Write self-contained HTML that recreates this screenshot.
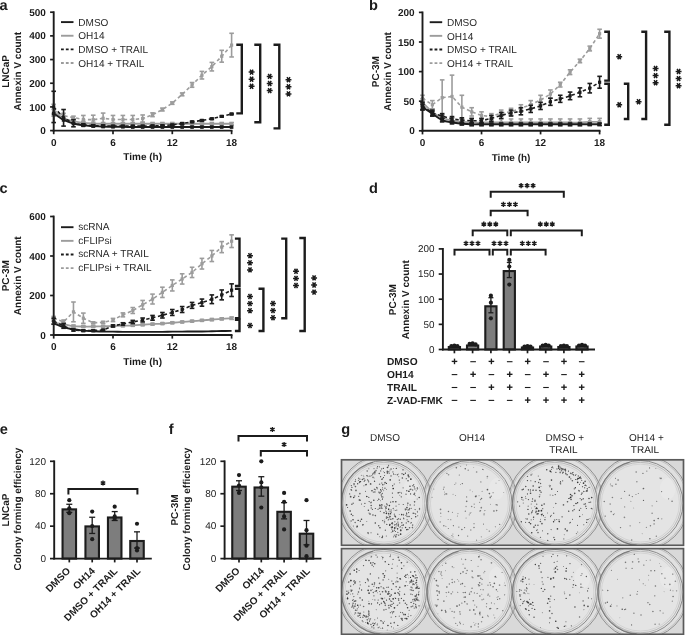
<!DOCTYPE html>
<html><head><meta charset="utf-8"><style>
html,body{margin:0;padding:0;background:#fff;}
svg{display:block;font-family:"Liberation Sans", sans-serif;text-rendering:geometricPrecision;filter:grayscale(100%);}
</style></head><body>
<svg width="685" height="635" viewBox="0 0 685 635">
<rect width="685" height="635" fill="#fff"/>
<text x="-0.5" y="10.1" font-size="14.6" font-weight="bold" fill="#1c1c1c">a</text>
<text x="368.9" y="10" font-size="14.6" font-weight="bold" fill="#1c1c1c">b</text>
<text x="-0.5" y="192.6" font-size="14.6" font-weight="bold" fill="#1c1c1c">c</text>
<text x="368.9" y="192.5" font-size="14.6" font-weight="bold" fill="#1c1c1c">d</text>
<text x="-0.3" y="433.6" font-size="14.6" font-weight="bold" fill="#1c1c1c">e</text>
<text x="168.8" y="433.7" font-size="14.6" font-weight="bold" fill="#1c1c1c">f</text>
<text x="341.2" y="433.6" font-size="14.6" font-weight="bold" fill="#1c1c1c">g</text>
<path d="M53.7 111.66 C55.35 112.76 60.29 116.71 63.58 118.29 C66.88 119.87 70.17 120.38 73.47 121.13 C76.76 121.88 80.06 122.39 83.35 122.79 C86.64 123.18 89.94 123.34 93.23 123.5 C96.53 123.65 99.82 123.69 103.12 123.73 C106.41 123.77 109.71 123.73 113 123.73 C116.29 123.73 119.59 123.73 122.88 123.73 C126.18 123.73 129.47 123.73 132.77 123.73 C136.06 123.73 139.36 123.73 142.65 123.73 C145.94 123.73 149.24 123.73 152.53 123.73 C155.83 123.73 159.12 123.73 162.42 123.73 C165.71 123.73 169.01 123.73 172.3 123.73 C175.59 123.73 178.89 123.73 182.18 123.73 C185.48 123.73 188.77 123.73 192.07 123.73 C195.36 123.73 198.66 123.73 201.95 123.73 C205.24 123.73 208.54 123.73 211.83 123.73 C215.13 123.73 218.42 123.73 221.72 123.73 C225.01 123.73 229.95 123.73 231.6 123.73" stroke="#9c9c9c" stroke-width="1.8" fill="none"/>
<line x1="53.7" y1="109.29" x2="53.7" y2="114.02" stroke="#9c9c9c" stroke-width="1.6" stroke-linecap="butt"/>
<line x1="51.4" y1="109.29" x2="56" y2="109.29" stroke="#9c9c9c" stroke-width="1.6" stroke-linecap="butt"/>
<line x1="51.4" y1="114.02" x2="56" y2="114.02" stroke="#9c9c9c" stroke-width="1.6" stroke-linecap="butt"/>
<rect x="51.9" y="109.86" width="3.6" height="3.6" fill="#9c9c9c"/>
<rect x="61.78" y="116.49" width="3.6" height="3.6" fill="#9c9c9c"/>
<line x1="73.47" y1="119.23" x2="73.47" y2="123.02" stroke="#9c9c9c" stroke-width="1.6" stroke-linecap="butt"/>
<line x1="71.17" y1="119.23" x2="75.77" y2="119.23" stroke="#9c9c9c" stroke-width="1.6" stroke-linecap="butt"/>
<line x1="71.17" y1="123.02" x2="75.77" y2="123.02" stroke="#9c9c9c" stroke-width="1.6" stroke-linecap="butt"/>
<rect x="71.67" y="119.33" width="3.6" height="3.6" fill="#9c9c9c"/>
<line x1="83.35" y1="121.36" x2="83.35" y2="124.21" stroke="#9c9c9c" stroke-width="1.6" stroke-linecap="butt"/>
<line x1="81.05" y1="121.36" x2="85.65" y2="121.36" stroke="#9c9c9c" stroke-width="1.6" stroke-linecap="butt"/>
<line x1="81.05" y1="124.21" x2="85.65" y2="124.21" stroke="#9c9c9c" stroke-width="1.6" stroke-linecap="butt"/>
<rect x="81.55" y="120.99" width="3.6" height="3.6" fill="#9c9c9c"/>
<line x1="93.23" y1="122.31" x2="93.23" y2="124.68" stroke="#9c9c9c" stroke-width="1.6" stroke-linecap="butt"/>
<line x1="90.93" y1="122.31" x2="95.53" y2="122.31" stroke="#9c9c9c" stroke-width="1.6" stroke-linecap="butt"/>
<line x1="90.93" y1="124.68" x2="95.53" y2="124.68" stroke="#9c9c9c" stroke-width="1.6" stroke-linecap="butt"/>
<rect x="91.43" y="121.7" width="3.6" height="3.6" fill="#9c9c9c"/>
<line x1="103.12" y1="122.55" x2="103.12" y2="124.92" stroke="#9c9c9c" stroke-width="1.6" stroke-linecap="butt"/>
<line x1="100.82" y1="122.55" x2="105.42" y2="122.55" stroke="#9c9c9c" stroke-width="1.6" stroke-linecap="butt"/>
<line x1="100.82" y1="124.92" x2="105.42" y2="124.92" stroke="#9c9c9c" stroke-width="1.6" stroke-linecap="butt"/>
<rect x="101.32" y="121.93" width="3.6" height="3.6" fill="#9c9c9c"/>
<line x1="113" y1="122.55" x2="113" y2="124.92" stroke="#9c9c9c" stroke-width="1.6" stroke-linecap="butt"/>
<line x1="110.7" y1="122.55" x2="115.3" y2="122.55" stroke="#9c9c9c" stroke-width="1.6" stroke-linecap="butt"/>
<line x1="110.7" y1="124.92" x2="115.3" y2="124.92" stroke="#9c9c9c" stroke-width="1.6" stroke-linecap="butt"/>
<rect x="111.2" y="121.93" width="3.6" height="3.6" fill="#9c9c9c"/>
<line x1="122.88" y1="122.55" x2="122.88" y2="124.92" stroke="#9c9c9c" stroke-width="1.6" stroke-linecap="butt"/>
<line x1="120.58" y1="122.55" x2="125.18" y2="122.55" stroke="#9c9c9c" stroke-width="1.6" stroke-linecap="butt"/>
<line x1="120.58" y1="124.92" x2="125.18" y2="124.92" stroke="#9c9c9c" stroke-width="1.6" stroke-linecap="butt"/>
<rect x="121.08" y="121.93" width="3.6" height="3.6" fill="#9c9c9c"/>
<line x1="132.77" y1="122.55" x2="132.77" y2="124.92" stroke="#9c9c9c" stroke-width="1.6" stroke-linecap="butt"/>
<line x1="130.47" y1="122.55" x2="135.07" y2="122.55" stroke="#9c9c9c" stroke-width="1.6" stroke-linecap="butt"/>
<line x1="130.47" y1="124.92" x2="135.07" y2="124.92" stroke="#9c9c9c" stroke-width="1.6" stroke-linecap="butt"/>
<rect x="130.97" y="121.93" width="3.6" height="3.6" fill="#9c9c9c"/>
<line x1="142.65" y1="122.55" x2="142.65" y2="124.92" stroke="#9c9c9c" stroke-width="1.6" stroke-linecap="butt"/>
<line x1="140.35" y1="122.55" x2="144.95" y2="122.55" stroke="#9c9c9c" stroke-width="1.6" stroke-linecap="butt"/>
<line x1="140.35" y1="124.92" x2="144.95" y2="124.92" stroke="#9c9c9c" stroke-width="1.6" stroke-linecap="butt"/>
<rect x="140.85" y="121.93" width="3.6" height="3.6" fill="#9c9c9c"/>
<line x1="152.53" y1="122.55" x2="152.53" y2="124.92" stroke="#9c9c9c" stroke-width="1.6" stroke-linecap="butt"/>
<line x1="150.23" y1="122.55" x2="154.83" y2="122.55" stroke="#9c9c9c" stroke-width="1.6" stroke-linecap="butt"/>
<line x1="150.23" y1="124.92" x2="154.83" y2="124.92" stroke="#9c9c9c" stroke-width="1.6" stroke-linecap="butt"/>
<rect x="150.73" y="121.93" width="3.6" height="3.6" fill="#9c9c9c"/>
<line x1="162.42" y1="122.55" x2="162.42" y2="124.92" stroke="#9c9c9c" stroke-width="1.6" stroke-linecap="butt"/>
<line x1="160.12" y1="122.55" x2="164.72" y2="122.55" stroke="#9c9c9c" stroke-width="1.6" stroke-linecap="butt"/>
<line x1="160.12" y1="124.92" x2="164.72" y2="124.92" stroke="#9c9c9c" stroke-width="1.6" stroke-linecap="butt"/>
<rect x="160.62" y="121.93" width="3.6" height="3.6" fill="#9c9c9c"/>
<line x1="172.3" y1="122.55" x2="172.3" y2="124.92" stroke="#9c9c9c" stroke-width="1.6" stroke-linecap="butt"/>
<line x1="170" y1="122.55" x2="174.6" y2="122.55" stroke="#9c9c9c" stroke-width="1.6" stroke-linecap="butt"/>
<line x1="170" y1="124.92" x2="174.6" y2="124.92" stroke="#9c9c9c" stroke-width="1.6" stroke-linecap="butt"/>
<rect x="170.5" y="121.93" width="3.6" height="3.6" fill="#9c9c9c"/>
<line x1="182.18" y1="122.55" x2="182.18" y2="124.92" stroke="#9c9c9c" stroke-width="1.6" stroke-linecap="butt"/>
<line x1="179.88" y1="122.55" x2="184.48" y2="122.55" stroke="#9c9c9c" stroke-width="1.6" stroke-linecap="butt"/>
<line x1="179.88" y1="124.92" x2="184.48" y2="124.92" stroke="#9c9c9c" stroke-width="1.6" stroke-linecap="butt"/>
<rect x="180.38" y="121.93" width="3.6" height="3.6" fill="#9c9c9c"/>
<line x1="192.07" y1="122.55" x2="192.07" y2="124.92" stroke="#9c9c9c" stroke-width="1.6" stroke-linecap="butt"/>
<line x1="189.77" y1="122.55" x2="194.37" y2="122.55" stroke="#9c9c9c" stroke-width="1.6" stroke-linecap="butt"/>
<line x1="189.77" y1="124.92" x2="194.37" y2="124.92" stroke="#9c9c9c" stroke-width="1.6" stroke-linecap="butt"/>
<rect x="190.27" y="121.93" width="3.6" height="3.6" fill="#9c9c9c"/>
<line x1="201.95" y1="122.55" x2="201.95" y2="124.92" stroke="#9c9c9c" stroke-width="1.6" stroke-linecap="butt"/>
<line x1="199.65" y1="122.55" x2="204.25" y2="122.55" stroke="#9c9c9c" stroke-width="1.6" stroke-linecap="butt"/>
<line x1="199.65" y1="124.92" x2="204.25" y2="124.92" stroke="#9c9c9c" stroke-width="1.6" stroke-linecap="butt"/>
<rect x="200.15" y="121.93" width="3.6" height="3.6" fill="#9c9c9c"/>
<line x1="211.83" y1="122.55" x2="211.83" y2="124.92" stroke="#9c9c9c" stroke-width="1.6" stroke-linecap="butt"/>
<line x1="209.53" y1="122.55" x2="214.13" y2="122.55" stroke="#9c9c9c" stroke-width="1.6" stroke-linecap="butt"/>
<line x1="209.53" y1="124.92" x2="214.13" y2="124.92" stroke="#9c9c9c" stroke-width="1.6" stroke-linecap="butt"/>
<rect x="210.03" y="121.93" width="3.6" height="3.6" fill="#9c9c9c"/>
<line x1="221.72" y1="122.55" x2="221.72" y2="124.92" stroke="#9c9c9c" stroke-width="1.6" stroke-linecap="butt"/>
<line x1="219.42" y1="122.55" x2="224.02" y2="122.55" stroke="#9c9c9c" stroke-width="1.6" stroke-linecap="butt"/>
<line x1="219.42" y1="124.92" x2="224.02" y2="124.92" stroke="#9c9c9c" stroke-width="1.6" stroke-linecap="butt"/>
<rect x="219.92" y="121.93" width="3.6" height="3.6" fill="#9c9c9c"/>
<line x1="231.6" y1="122.55" x2="231.6" y2="124.92" stroke="#9c9c9c" stroke-width="1.6" stroke-linecap="butt"/>
<line x1="229.3" y1="122.55" x2="233.9" y2="122.55" stroke="#9c9c9c" stroke-width="1.6" stroke-linecap="butt"/>
<line x1="229.3" y1="124.92" x2="233.9" y2="124.92" stroke="#9c9c9c" stroke-width="1.6" stroke-linecap="butt"/>
<rect x="229.8" y="121.93" width="3.6" height="3.6" fill="#9c9c9c"/>
<path d="M53.7 110.24 L63.58 115.68 L73.47 117.58 L83.35 119.47 L93.23 119.71 L103.12 118.29 L113 119.47 L122.88 119.47 L132.77 119.47 L142.65 118.52 L152.53 114.73 L162.42 109.52 L172.3 103.13 L182.18 94.37 L192.07 84.9 L201.95 75.19 L211.83 66.66 L221.72 56.24 L231.6 45.12" stroke="#9c9c9c" stroke-width="1.6" fill="none" stroke-dasharray="3.4 2.6"/>
<line x1="53.7" y1="104.32" x2="53.7" y2="116.16" stroke="#9c9c9c" stroke-width="1.6" stroke-linecap="butt"/>
<line x1="51.4" y1="104.32" x2="56" y2="104.32" stroke="#9c9c9c" stroke-width="1.6" stroke-linecap="butt"/>
<line x1="51.4" y1="116.16" x2="56" y2="116.16" stroke="#9c9c9c" stroke-width="1.6" stroke-linecap="butt"/>
<rect x="52.1" y="108.64" width="3.2" height="3.2" fill="#9c9c9c"/>
<line x1="63.58" y1="113.31" x2="63.58" y2="118.05" stroke="#9c9c9c" stroke-width="1.6" stroke-linecap="butt"/>
<line x1="61.28" y1="113.31" x2="65.88" y2="113.31" stroke="#9c9c9c" stroke-width="1.6" stroke-linecap="butt"/>
<line x1="61.28" y1="118.05" x2="65.88" y2="118.05" stroke="#9c9c9c" stroke-width="1.6" stroke-linecap="butt"/>
<rect x="61.98" y="114.08" width="3.2" height="3.2" fill="#9c9c9c"/>
<line x1="73.47" y1="116.16" x2="73.47" y2="119" stroke="#9c9c9c" stroke-width="1.6" stroke-linecap="butt"/>
<line x1="71.17" y1="116.16" x2="75.77" y2="116.16" stroke="#9c9c9c" stroke-width="1.6" stroke-linecap="butt"/>
<line x1="71.17" y1="119" x2="75.77" y2="119" stroke="#9c9c9c" stroke-width="1.6" stroke-linecap="butt"/>
<rect x="71.87" y="115.98" width="3.2" height="3.2" fill="#9c9c9c"/>
<line x1="83.35" y1="115.44" x2="83.35" y2="123.5" stroke="#9c9c9c" stroke-width="1.6" stroke-linecap="butt"/>
<line x1="81.05" y1="115.44" x2="85.65" y2="115.44" stroke="#9c9c9c" stroke-width="1.6" stroke-linecap="butt"/>
<line x1="81.05" y1="123.5" x2="85.65" y2="123.5" stroke="#9c9c9c" stroke-width="1.6" stroke-linecap="butt"/>
<rect x="81.75" y="117.87" width="3.2" height="3.2" fill="#9c9c9c"/>
<line x1="93.23" y1="115.21" x2="93.23" y2="124.21" stroke="#9c9c9c" stroke-width="1.6" stroke-linecap="butt"/>
<line x1="90.93" y1="115.21" x2="95.53" y2="115.21" stroke="#9c9c9c" stroke-width="1.6" stroke-linecap="butt"/>
<line x1="90.93" y1="124.21" x2="95.53" y2="124.21" stroke="#9c9c9c" stroke-width="1.6" stroke-linecap="butt"/>
<rect x="91.63" y="118.11" width="3.2" height="3.2" fill="#9c9c9c"/>
<line x1="103.12" y1="113.08" x2="103.12" y2="123.5" stroke="#9c9c9c" stroke-width="1.6" stroke-linecap="butt"/>
<line x1="100.82" y1="113.08" x2="105.42" y2="113.08" stroke="#9c9c9c" stroke-width="1.6" stroke-linecap="butt"/>
<line x1="100.82" y1="123.5" x2="105.42" y2="123.5" stroke="#9c9c9c" stroke-width="1.6" stroke-linecap="butt"/>
<rect x="101.52" y="116.69" width="3.2" height="3.2" fill="#9c9c9c"/>
<line x1="113" y1="115.44" x2="113" y2="123.5" stroke="#9c9c9c" stroke-width="1.6" stroke-linecap="butt"/>
<line x1="110.7" y1="115.44" x2="115.3" y2="115.44" stroke="#9c9c9c" stroke-width="1.6" stroke-linecap="butt"/>
<line x1="110.7" y1="123.5" x2="115.3" y2="123.5" stroke="#9c9c9c" stroke-width="1.6" stroke-linecap="butt"/>
<rect x="111.4" y="117.87" width="3.2" height="3.2" fill="#9c9c9c"/>
<line x1="122.88" y1="115.44" x2="122.88" y2="123.5" stroke="#9c9c9c" stroke-width="1.6" stroke-linecap="butt"/>
<line x1="120.58" y1="115.44" x2="125.18" y2="115.44" stroke="#9c9c9c" stroke-width="1.6" stroke-linecap="butt"/>
<line x1="120.58" y1="123.5" x2="125.18" y2="123.5" stroke="#9c9c9c" stroke-width="1.6" stroke-linecap="butt"/>
<rect x="121.28" y="117.87" width="3.2" height="3.2" fill="#9c9c9c"/>
<line x1="132.77" y1="115.44" x2="132.77" y2="123.5" stroke="#9c9c9c" stroke-width="1.6" stroke-linecap="butt"/>
<line x1="130.47" y1="115.44" x2="135.07" y2="115.44" stroke="#9c9c9c" stroke-width="1.6" stroke-linecap="butt"/>
<line x1="130.47" y1="123.5" x2="135.07" y2="123.5" stroke="#9c9c9c" stroke-width="1.6" stroke-linecap="butt"/>
<rect x="131.17" y="117.87" width="3.2" height="3.2" fill="#9c9c9c"/>
<line x1="142.65" y1="114.97" x2="142.65" y2="122.08" stroke="#9c9c9c" stroke-width="1.6" stroke-linecap="butt"/>
<line x1="140.35" y1="114.97" x2="144.95" y2="114.97" stroke="#9c9c9c" stroke-width="1.6" stroke-linecap="butt"/>
<line x1="140.35" y1="122.08" x2="144.95" y2="122.08" stroke="#9c9c9c" stroke-width="1.6" stroke-linecap="butt"/>
<rect x="141.05" y="116.92" width="3.2" height="3.2" fill="#9c9c9c"/>
<line x1="152.53" y1="112.84" x2="152.53" y2="116.63" stroke="#9c9c9c" stroke-width="1.6" stroke-linecap="butt"/>
<line x1="150.23" y1="112.84" x2="154.83" y2="112.84" stroke="#9c9c9c" stroke-width="1.6" stroke-linecap="butt"/>
<line x1="150.23" y1="116.63" x2="154.83" y2="116.63" stroke="#9c9c9c" stroke-width="1.6" stroke-linecap="butt"/>
<rect x="150.93" y="113.13" width="3.2" height="3.2" fill="#9c9c9c"/>
<line x1="162.42" y1="108.1" x2="162.42" y2="110.95" stroke="#9c9c9c" stroke-width="1.6" stroke-linecap="butt"/>
<line x1="160.12" y1="108.1" x2="164.72" y2="108.1" stroke="#9c9c9c" stroke-width="1.6" stroke-linecap="butt"/>
<line x1="160.12" y1="110.95" x2="164.72" y2="110.95" stroke="#9c9c9c" stroke-width="1.6" stroke-linecap="butt"/>
<rect x="160.82" y="107.92" width="3.2" height="3.2" fill="#9c9c9c"/>
<line x1="172.3" y1="101.95" x2="172.3" y2="104.32" stroke="#9c9c9c" stroke-width="1.6" stroke-linecap="butt"/>
<line x1="170" y1="101.95" x2="174.6" y2="101.95" stroke="#9c9c9c" stroke-width="1.6" stroke-linecap="butt"/>
<line x1="170" y1="104.32" x2="174.6" y2="104.32" stroke="#9c9c9c" stroke-width="1.6" stroke-linecap="butt"/>
<rect x="170.7" y="101.53" width="3.2" height="3.2" fill="#9c9c9c"/>
<line x1="182.18" y1="92.95" x2="182.18" y2="95.79" stroke="#9c9c9c" stroke-width="1.6" stroke-linecap="butt"/>
<line x1="179.88" y1="92.95" x2="184.48" y2="92.95" stroke="#9c9c9c" stroke-width="1.6" stroke-linecap="butt"/>
<line x1="179.88" y1="95.79" x2="184.48" y2="95.79" stroke="#9c9c9c" stroke-width="1.6" stroke-linecap="butt"/>
<rect x="180.58" y="92.77" width="3.2" height="3.2" fill="#9c9c9c"/>
<line x1="192.07" y1="82.53" x2="192.07" y2="87.27" stroke="#9c9c9c" stroke-width="1.6" stroke-linecap="butt"/>
<line x1="189.77" y1="82.53" x2="194.37" y2="82.53" stroke="#9c9c9c" stroke-width="1.6" stroke-linecap="butt"/>
<line x1="189.77" y1="87.27" x2="194.37" y2="87.27" stroke="#9c9c9c" stroke-width="1.6" stroke-linecap="butt"/>
<rect x="190.47" y="83.3" width="3.2" height="3.2" fill="#9c9c9c"/>
<line x1="201.95" y1="71.4" x2="201.95" y2="78.98" stroke="#9c9c9c" stroke-width="1.6" stroke-linecap="butt"/>
<line x1="199.65" y1="71.4" x2="204.25" y2="71.4" stroke="#9c9c9c" stroke-width="1.6" stroke-linecap="butt"/>
<line x1="199.65" y1="78.98" x2="204.25" y2="78.98" stroke="#9c9c9c" stroke-width="1.6" stroke-linecap="butt"/>
<rect x="200.35" y="73.59" width="3.2" height="3.2" fill="#9c9c9c"/>
<line x1="211.83" y1="62.4" x2="211.83" y2="70.93" stroke="#9c9c9c" stroke-width="1.6" stroke-linecap="butt"/>
<line x1="209.53" y1="62.4" x2="214.13" y2="62.4" stroke="#9c9c9c" stroke-width="1.6" stroke-linecap="butt"/>
<line x1="209.53" y1="70.93" x2="214.13" y2="70.93" stroke="#9c9c9c" stroke-width="1.6" stroke-linecap="butt"/>
<rect x="210.23" y="65.06" width="3.2" height="3.2" fill="#9c9c9c"/>
<line x1="221.72" y1="50.32" x2="221.72" y2="62.16" stroke="#9c9c9c" stroke-width="1.6" stroke-linecap="butt"/>
<line x1="219.42" y1="50.32" x2="224.02" y2="50.32" stroke="#9c9c9c" stroke-width="1.6" stroke-linecap="butt"/>
<line x1="219.42" y1="62.16" x2="224.02" y2="62.16" stroke="#9c9c9c" stroke-width="1.6" stroke-linecap="butt"/>
<rect x="220.12" y="54.64" width="3.2" height="3.2" fill="#9c9c9c"/>
<line x1="231.6" y1="33.28" x2="231.6" y2="56.96" stroke="#9c9c9c" stroke-width="1.6" stroke-linecap="butt"/>
<line x1="229.3" y1="33.28" x2="233.9" y2="33.28" stroke="#9c9c9c" stroke-width="1.6" stroke-linecap="butt"/>
<line x1="229.3" y1="56.96" x2="233.9" y2="56.96" stroke="#9c9c9c" stroke-width="1.6" stroke-linecap="butt"/>
<rect x="230" y="43.52" width="3.2" height="3.2" fill="#9c9c9c"/>
<path d="M53.7 113.55 C55.35 114.62 60.29 118.29 63.58 119.94 C66.88 121.6 70.17 122.59 73.47 123.5 C76.76 124.4 80.06 124.96 83.35 125.39 C86.64 125.82 89.94 125.9 93.23 126.1 C96.53 126.3 99.82 126.46 103.12 126.57 C106.41 126.69 109.71 126.77 113 126.81 C116.29 126.85 119.59 126.77 122.88 126.81 C126.18 126.85 129.47 127.01 132.77 127.05 C136.06 127.09 139.36 127.05 142.65 127.05 C145.94 127.05 149.24 127.05 152.53 127.05 C155.83 127.05 159.12 127.05 162.42 127.05 C165.71 127.05 169.01 127.05 172.3 127.05 C175.59 127.05 178.89 127.05 182.18 127.05 C185.48 127.05 188.77 127.05 192.07 127.05 C195.36 127.05 198.66 127.05 201.95 127.05 C205.24 127.05 208.54 127.05 211.83 127.05 C215.13 127.05 218.42 127.05 221.72 127.05 C225.01 127.05 229.95 127.05 231.6 127.05" stroke="#1c1c1c" stroke-width="1.9" fill="none"/>
<rect x="51.9" y="111.75" width="3.6" height="3.6" fill="#1c1c1c"/>
<rect x="61.78" y="118.14" width="3.6" height="3.6" fill="#1c1c1c"/>
<rect x="71.67" y="121.7" width="3.6" height="3.6" fill="#1c1c1c"/>
<rect x="81.55" y="123.59" width="3.6" height="3.6" fill="#1c1c1c"/>
<rect x="91.43" y="124.3" width="3.6" height="3.6" fill="#1c1c1c"/>
<rect x="101.32" y="124.77" width="3.6" height="3.6" fill="#1c1c1c"/>
<rect x="111.2" y="125.01" width="3.6" height="3.6" fill="#1c1c1c"/>
<rect x="121.08" y="125.01" width="3.6" height="3.6" fill="#1c1c1c"/>
<rect x="130.97" y="125.25" width="3.6" height="3.6" fill="#1c1c1c"/>
<rect x="140.85" y="125.25" width="3.6" height="3.6" fill="#1c1c1c"/>
<rect x="150.73" y="125.25" width="3.6" height="3.6" fill="#1c1c1c"/>
<rect x="160.62" y="125.25" width="3.6" height="3.6" fill="#1c1c1c"/>
<rect x="170.5" y="125.25" width="3.6" height="3.6" fill="#1c1c1c"/>
<rect x="180.38" y="125.25" width="3.6" height="3.6" fill="#1c1c1c"/>
<rect x="190.27" y="125.25" width="3.6" height="3.6" fill="#1c1c1c"/>
<rect x="200.15" y="125.25" width="3.6" height="3.6" fill="#1c1c1c"/>
<rect x="210.03" y="125.25" width="3.6" height="3.6" fill="#1c1c1c"/>
<rect x="219.92" y="125.25" width="3.6" height="3.6" fill="#1c1c1c"/>
<rect x="229.8" y="125.25" width="3.6" height="3.6" fill="#1c1c1c"/>
<path d="M53.7 106.92 L63.58 117.81 L73.47 123.26 L83.35 124.92 L93.23 125.63 L103.12 125.86 L113 126.1 L122.88 126.1 L132.77 126.1 L142.65 126.1 L152.53 125.86 L162.42 125.63 L172.3 124.92 L182.18 123.5 L192.07 121.84 L201.95 120.42 L211.83 118.76 L221.72 116.39 L231.6 114.02" stroke="#1c1c1c" stroke-width="1.6" fill="none" stroke-dasharray="3.4 2.6"/>
<line x1="53.7" y1="91.29" x2="53.7" y2="122.55" stroke="#1c1c1c" stroke-width="1.6" stroke-linecap="butt"/>
<line x1="51.4" y1="91.29" x2="56" y2="91.29" stroke="#1c1c1c" stroke-width="1.6" stroke-linecap="butt"/>
<line x1="51.4" y1="122.55" x2="56" y2="122.55" stroke="#1c1c1c" stroke-width="1.6" stroke-linecap="butt"/>
<rect x="52.1" y="105.32" width="3.2" height="3.2" fill="#1c1c1c"/>
<line x1="63.58" y1="109.52" x2="63.58" y2="126.1" stroke="#1c1c1c" stroke-width="1.6" stroke-linecap="butt"/>
<line x1="61.28" y1="109.52" x2="65.88" y2="109.52" stroke="#1c1c1c" stroke-width="1.6" stroke-linecap="butt"/>
<line x1="61.28" y1="126.1" x2="65.88" y2="126.1" stroke="#1c1c1c" stroke-width="1.6" stroke-linecap="butt"/>
<rect x="61.98" y="116.21" width="3.2" height="3.2" fill="#1c1c1c"/>
<line x1="73.47" y1="119.71" x2="73.47" y2="126.81" stroke="#1c1c1c" stroke-width="1.6" stroke-linecap="butt"/>
<line x1="71.17" y1="119.71" x2="75.77" y2="119.71" stroke="#1c1c1c" stroke-width="1.6" stroke-linecap="butt"/>
<line x1="71.17" y1="126.81" x2="75.77" y2="126.81" stroke="#1c1c1c" stroke-width="1.6" stroke-linecap="butt"/>
<rect x="71.87" y="121.66" width="3.2" height="3.2" fill="#1c1c1c"/>
<line x1="83.35" y1="123.73" x2="83.35" y2="126.1" stroke="#1c1c1c" stroke-width="1.6" stroke-linecap="butt"/>
<line x1="81.05" y1="123.73" x2="85.65" y2="123.73" stroke="#1c1c1c" stroke-width="1.6" stroke-linecap="butt"/>
<line x1="81.05" y1="126.1" x2="85.65" y2="126.1" stroke="#1c1c1c" stroke-width="1.6" stroke-linecap="butt"/>
<rect x="81.75" y="123.32" width="3.2" height="3.2" fill="#1c1c1c"/>
<line x1="93.23" y1="124.68" x2="93.23" y2="126.57" stroke="#1c1c1c" stroke-width="1.6" stroke-linecap="butt"/>
<line x1="90.93" y1="124.68" x2="95.53" y2="124.68" stroke="#1c1c1c" stroke-width="1.6" stroke-linecap="butt"/>
<line x1="90.93" y1="126.57" x2="95.53" y2="126.57" stroke="#1c1c1c" stroke-width="1.6" stroke-linecap="butt"/>
<rect x="91.63" y="124.03" width="3.2" height="3.2" fill="#1c1c1c"/>
<line x1="103.12" y1="124.92" x2="103.12" y2="126.81" stroke="#1c1c1c" stroke-width="1.6" stroke-linecap="butt"/>
<line x1="100.82" y1="124.92" x2="105.42" y2="124.92" stroke="#1c1c1c" stroke-width="1.6" stroke-linecap="butt"/>
<line x1="100.82" y1="126.81" x2="105.42" y2="126.81" stroke="#1c1c1c" stroke-width="1.6" stroke-linecap="butt"/>
<rect x="101.52" y="124.26" width="3.2" height="3.2" fill="#1c1c1c"/>
<line x1="113" y1="125.39" x2="113" y2="126.81" stroke="#1c1c1c" stroke-width="1.6" stroke-linecap="butt"/>
<line x1="110.7" y1="125.39" x2="115.3" y2="125.39" stroke="#1c1c1c" stroke-width="1.6" stroke-linecap="butt"/>
<line x1="110.7" y1="126.81" x2="115.3" y2="126.81" stroke="#1c1c1c" stroke-width="1.6" stroke-linecap="butt"/>
<rect x="111.4" y="124.5" width="3.2" height="3.2" fill="#1c1c1c"/>
<line x1="122.88" y1="125.39" x2="122.88" y2="126.81" stroke="#1c1c1c" stroke-width="1.6" stroke-linecap="butt"/>
<line x1="120.58" y1="125.39" x2="125.18" y2="125.39" stroke="#1c1c1c" stroke-width="1.6" stroke-linecap="butt"/>
<line x1="120.58" y1="126.81" x2="125.18" y2="126.81" stroke="#1c1c1c" stroke-width="1.6" stroke-linecap="butt"/>
<rect x="121.28" y="124.5" width="3.2" height="3.2" fill="#1c1c1c"/>
<line x1="132.77" y1="125.39" x2="132.77" y2="126.81" stroke="#1c1c1c" stroke-width="1.6" stroke-linecap="butt"/>
<line x1="130.47" y1="125.39" x2="135.07" y2="125.39" stroke="#1c1c1c" stroke-width="1.6" stroke-linecap="butt"/>
<line x1="130.47" y1="126.81" x2="135.07" y2="126.81" stroke="#1c1c1c" stroke-width="1.6" stroke-linecap="butt"/>
<rect x="131.17" y="124.5" width="3.2" height="3.2" fill="#1c1c1c"/>
<line x1="142.65" y1="125.39" x2="142.65" y2="126.81" stroke="#1c1c1c" stroke-width="1.6" stroke-linecap="butt"/>
<line x1="140.35" y1="125.39" x2="144.95" y2="125.39" stroke="#1c1c1c" stroke-width="1.6" stroke-linecap="butt"/>
<line x1="140.35" y1="126.81" x2="144.95" y2="126.81" stroke="#1c1c1c" stroke-width="1.6" stroke-linecap="butt"/>
<rect x="141.05" y="124.5" width="3.2" height="3.2" fill="#1c1c1c"/>
<line x1="152.53" y1="125.15" x2="152.53" y2="126.57" stroke="#1c1c1c" stroke-width="1.6" stroke-linecap="butt"/>
<line x1="150.23" y1="125.15" x2="154.83" y2="125.15" stroke="#1c1c1c" stroke-width="1.6" stroke-linecap="butt"/>
<line x1="150.23" y1="126.57" x2="154.83" y2="126.57" stroke="#1c1c1c" stroke-width="1.6" stroke-linecap="butt"/>
<rect x="150.93" y="124.26" width="3.2" height="3.2" fill="#1c1c1c"/>
<line x1="162.42" y1="124.92" x2="162.42" y2="126.34" stroke="#1c1c1c" stroke-width="1.6" stroke-linecap="butt"/>
<line x1="160.12" y1="124.92" x2="164.72" y2="124.92" stroke="#1c1c1c" stroke-width="1.6" stroke-linecap="butt"/>
<line x1="160.12" y1="126.34" x2="164.72" y2="126.34" stroke="#1c1c1c" stroke-width="1.6" stroke-linecap="butt"/>
<rect x="160.82" y="124.03" width="3.2" height="3.2" fill="#1c1c1c"/>
<line x1="172.3" y1="124.21" x2="172.3" y2="125.63" stroke="#1c1c1c" stroke-width="1.6" stroke-linecap="butt"/>
<line x1="170" y1="124.21" x2="174.6" y2="124.21" stroke="#1c1c1c" stroke-width="1.6" stroke-linecap="butt"/>
<line x1="170" y1="125.63" x2="174.6" y2="125.63" stroke="#1c1c1c" stroke-width="1.6" stroke-linecap="butt"/>
<rect x="170.7" y="123.32" width="3.2" height="3.2" fill="#1c1c1c"/>
<line x1="182.18" y1="122.79" x2="182.18" y2="124.21" stroke="#1c1c1c" stroke-width="1.6" stroke-linecap="butt"/>
<line x1="179.88" y1="122.79" x2="184.48" y2="122.79" stroke="#1c1c1c" stroke-width="1.6" stroke-linecap="butt"/>
<line x1="179.88" y1="124.21" x2="184.48" y2="124.21" stroke="#1c1c1c" stroke-width="1.6" stroke-linecap="butt"/>
<rect x="180.58" y="121.9" width="3.2" height="3.2" fill="#1c1c1c"/>
<line x1="192.07" y1="121.13" x2="192.07" y2="122.55" stroke="#1c1c1c" stroke-width="1.6" stroke-linecap="butt"/>
<line x1="189.77" y1="121.13" x2="194.37" y2="121.13" stroke="#1c1c1c" stroke-width="1.6" stroke-linecap="butt"/>
<line x1="189.77" y1="122.55" x2="194.37" y2="122.55" stroke="#1c1c1c" stroke-width="1.6" stroke-linecap="butt"/>
<rect x="190.47" y="120.24" width="3.2" height="3.2" fill="#1c1c1c"/>
<line x1="201.95" y1="119.71" x2="201.95" y2="121.13" stroke="#1c1c1c" stroke-width="1.6" stroke-linecap="butt"/>
<line x1="199.65" y1="119.71" x2="204.25" y2="119.71" stroke="#1c1c1c" stroke-width="1.6" stroke-linecap="butt"/>
<line x1="199.65" y1="121.13" x2="204.25" y2="121.13" stroke="#1c1c1c" stroke-width="1.6" stroke-linecap="butt"/>
<rect x="200.35" y="118.82" width="3.2" height="3.2" fill="#1c1c1c"/>
<line x1="211.83" y1="118.05" x2="211.83" y2="119.47" stroke="#1c1c1c" stroke-width="1.6" stroke-linecap="butt"/>
<line x1="209.53" y1="118.05" x2="214.13" y2="118.05" stroke="#1c1c1c" stroke-width="1.6" stroke-linecap="butt"/>
<line x1="209.53" y1="119.47" x2="214.13" y2="119.47" stroke="#1c1c1c" stroke-width="1.6" stroke-linecap="butt"/>
<rect x="210.23" y="117.16" width="3.2" height="3.2" fill="#1c1c1c"/>
<line x1="221.72" y1="115.68" x2="221.72" y2="117.1" stroke="#1c1c1c" stroke-width="1.6" stroke-linecap="butt"/>
<line x1="219.42" y1="115.68" x2="224.02" y2="115.68" stroke="#1c1c1c" stroke-width="1.6" stroke-linecap="butt"/>
<line x1="219.42" y1="117.1" x2="224.02" y2="117.1" stroke="#1c1c1c" stroke-width="1.6" stroke-linecap="butt"/>
<rect x="220.12" y="114.79" width="3.2" height="3.2" fill="#1c1c1c"/>
<line x1="231.6" y1="113.31" x2="231.6" y2="114.73" stroke="#1c1c1c" stroke-width="1.6" stroke-linecap="butt"/>
<line x1="229.3" y1="113.31" x2="233.9" y2="113.31" stroke="#1c1c1c" stroke-width="1.6" stroke-linecap="butt"/>
<line x1="229.3" y1="114.73" x2="233.9" y2="114.73" stroke="#1c1c1c" stroke-width="1.6" stroke-linecap="butt"/>
<rect x="230" y="112.42" width="3.2" height="3.2" fill="#1c1c1c"/>
<line x1="53.7" y1="11.3" x2="53.7" y2="131.5" stroke="#1c1c1c" stroke-width="1.9" stroke-linecap="butt"/>
<line x1="52.8" y1="130.6" x2="232.5" y2="130.6" stroke="#1c1c1c" stroke-width="1.9" stroke-linecap="butt"/>
<line x1="50.1" y1="130.6" x2="53.7" y2="130.6" stroke="#1c1c1c" stroke-width="1.7" stroke-linecap="butt"/>
<text x="45.9" y="134.2" font-size="10" font-weight="bold" text-anchor="end" fill="#1c1c1c">0</text>
<line x1="50.1" y1="106.92" x2="53.7" y2="106.92" stroke="#1c1c1c" stroke-width="1.7" stroke-linecap="butt"/>
<text x="45.9" y="110.52" font-size="10" font-weight="bold" text-anchor="end" fill="#1c1c1c">100</text>
<line x1="50.1" y1="83.24" x2="53.7" y2="83.24" stroke="#1c1c1c" stroke-width="1.7" stroke-linecap="butt"/>
<text x="45.9" y="86.84" font-size="10" font-weight="bold" text-anchor="end" fill="#1c1c1c">200</text>
<line x1="50.1" y1="59.56" x2="53.7" y2="59.56" stroke="#1c1c1c" stroke-width="1.7" stroke-linecap="butt"/>
<text x="45.9" y="63.16" font-size="10" font-weight="bold" text-anchor="end" fill="#1c1c1c">300</text>
<line x1="50.1" y1="35.88" x2="53.7" y2="35.88" stroke="#1c1c1c" stroke-width="1.7" stroke-linecap="butt"/>
<text x="45.9" y="39.48" font-size="10" font-weight="bold" text-anchor="end" fill="#1c1c1c">400</text>
<line x1="50.1" y1="12.2" x2="53.7" y2="12.2" stroke="#1c1c1c" stroke-width="1.7" stroke-linecap="butt"/>
<text x="45.9" y="15.8" font-size="10" font-weight="bold" text-anchor="end" fill="#1c1c1c">500</text>
<line x1="53.7" y1="130.6" x2="53.7" y2="134.2" stroke="#1c1c1c" stroke-width="1.7" stroke-linecap="butt"/>
<text x="53.7" y="145.8" font-size="10" font-weight="bold" text-anchor="middle" fill="#1c1c1c">0</text>
<line x1="113" y1="130.6" x2="113" y2="134.2" stroke="#1c1c1c" stroke-width="1.7" stroke-linecap="butt"/>
<text x="113" y="145.8" font-size="10" font-weight="bold" text-anchor="middle" fill="#1c1c1c">6</text>
<line x1="172.3" y1="130.6" x2="172.3" y2="134.2" stroke="#1c1c1c" stroke-width="1.7" stroke-linecap="butt"/>
<text x="172.3" y="145.8" font-size="10" font-weight="bold" text-anchor="middle" fill="#1c1c1c">12</text>
<line x1="231.6" y1="130.6" x2="231.6" y2="134.2" stroke="#1c1c1c" stroke-width="1.7" stroke-linecap="butt"/>
<text x="231.6" y="145.8" font-size="10" font-weight="bold" text-anchor="middle" fill="#1c1c1c">18</text>
<text x="142.65" y="160.4" font-size="10" font-weight="bold" text-anchor="middle" fill="#1c1c1c">Time (h)</text>
<text x="9" y="71.4" font-size="10" font-weight="bold" text-anchor="middle" fill="#1c1c1c" transform="rotate(-90 9 71.4)">LNCaP</text>
<text x="21.1" y="71.4" font-size="10" font-weight="bold" text-anchor="middle" fill="#1c1c1c" transform="rotate(-90 21.1 71.4)">Annexin V count</text>
<line x1="61" y1="22.1" x2="73.5" y2="22.1" stroke="#1c1c1c" stroke-width="1.9" stroke-linecap="butt"/>
<text x="78.3" y="25.8" font-size="10.05" fill="#2a2a2a">DMSO</text>
<line x1="61" y1="35.75" x2="73.5" y2="35.75" stroke="#9c9c9c" stroke-width="1.9" stroke-linecap="butt"/>
<text x="78.3" y="39.45" font-size="10.05" fill="#2a2a2a">OH14</text>
<line x1="61" y1="49.4" x2="73.5" y2="49.4" stroke="#1c1c1c" stroke-width="1.9" stroke-dasharray="2.8 2.05" stroke-linecap="butt"/>
<text x="78.3" y="53.1" font-size="10.05" fill="#2a2a2a">DMSO + TRAIL</text>
<line x1="61" y1="63.05" x2="73.5" y2="63.05" stroke="#9c9c9c" stroke-width="1.9" stroke-dasharray="2.8 2.05" stroke-linecap="butt"/>
<text x="78.3" y="66.75" font-size="10.05" fill="#2a2a2a">OH14 + TRAIL</text>
<path d="M236.3 44.8 H241.8 V113.4 H236.3" stroke="#1c1c1c" stroke-width="2.4" fill="none"/>
<path d="M248.65 72.1 L254.55 72.1 M250.12 69.55 L253.07 74.65 M253.07 69.55 L250.12 74.65 " stroke="#1c1c1c" stroke-width="1.5" fill="none"/>
<path d="M248.65 79.2 L254.55 79.2 M250.12 76.65 L253.07 81.75 M253.07 76.65 L250.12 81.75 " stroke="#1c1c1c" stroke-width="1.5" fill="none"/>
<path d="M248.65 86.3 L254.55 86.3 M250.12 83.75 L253.07 88.85 M253.07 83.75 L250.12 88.85 " stroke="#1c1c1c" stroke-width="1.5" fill="none"/>
<path d="M254.3 44.8 H260.2 V122.2 H254.3" stroke="#1c1c1c" stroke-width="2.4" fill="none"/>
<path d="M266.75 76.4 L272.65 76.4 M268.22 73.85 L271.18 78.95 M271.18 73.85 L268.22 78.95 " stroke="#1c1c1c" stroke-width="1.5" fill="none"/>
<path d="M266.75 83.5 L272.65 83.5 M268.22 80.95 L271.18 86.05 M271.18 80.95 L268.22 86.05 " stroke="#1c1c1c" stroke-width="1.5" fill="none"/>
<path d="M266.75 90.6 L272.65 90.6 M268.22 88.05 L271.18 93.15 M271.18 88.05 L268.22 93.15 " stroke="#1c1c1c" stroke-width="1.5" fill="none"/>
<path d="M273.5 44.8 H279.3 V128.4 H273.5" stroke="#1c1c1c" stroke-width="2.4" fill="none"/>
<path d="M285.55 79.7 L291.45 79.7 M287.02 77.15 L289.98 82.25 M289.98 77.15 L287.02 82.25 " stroke="#1c1c1c" stroke-width="1.5" fill="none"/>
<path d="M285.55 86.8 L291.45 86.8 M287.02 84.25 L289.98 89.35 M289.98 84.25 L287.02 89.35 " stroke="#1c1c1c" stroke-width="1.5" fill="none"/>
<path d="M285.55 93.9 L291.45 93.9 M287.02 91.35 L289.98 96.45 M289.98 91.35 L287.02 96.45 " stroke="#1c1c1c" stroke-width="1.5" fill="none"/>
<path d="M422.5 102.38 C424.14 103.96 429.06 109.29 432.34 111.86 C435.62 114.42 438.9 116.3 442.18 117.78 C445.46 119.26 448.74 120.05 452.02 120.74 C455.3 121.43 458.58 121.62 461.86 121.92 C465.14 122.22 468.41 122.41 471.69 122.51 C474.97 122.61 478.25 122.51 481.53 122.51 C484.81 122.51 488.09 122.51 491.37 122.51 C494.65 122.51 497.93 122.51 501.21 122.51 C504.49 122.51 507.77 122.51 511.05 122.51 C514.33 122.51 517.61 122.51 520.89 122.51 C524.17 122.51 527.45 122.51 530.73 122.51 C534.01 122.51 537.29 122.51 540.57 122.51 C543.85 122.51 547.13 122.51 550.41 122.51 C553.69 122.51 556.96 122.51 560.24 122.51 C563.52 122.51 566.8 122.51 570.08 122.51 C573.36 122.51 576.64 122.61 579.92 122.51 C583.2 122.41 586.48 122.02 589.76 121.92 C593.04 121.82 597.96 121.92 599.6 121.92" stroke="#9c9c9c" stroke-width="1.8" fill="none"/>
<line x1="422.5" y1="98.83" x2="422.5" y2="105.94" stroke="#9c9c9c" stroke-width="1.6" stroke-linecap="butt"/>
<line x1="420.2" y1="98.83" x2="424.8" y2="98.83" stroke="#9c9c9c" stroke-width="1.6" stroke-linecap="butt"/>
<line x1="420.2" y1="105.94" x2="424.8" y2="105.94" stroke="#9c9c9c" stroke-width="1.6" stroke-linecap="butt"/>
<rect x="420.7" y="100.58" width="3.6" height="3.6" fill="#9c9c9c"/>
<line x1="432.34" y1="108.9" x2="432.34" y2="114.82" stroke="#9c9c9c" stroke-width="1.6" stroke-linecap="butt"/>
<line x1="430.04" y1="108.9" x2="434.64" y2="108.9" stroke="#9c9c9c" stroke-width="1.6" stroke-linecap="butt"/>
<line x1="430.04" y1="114.82" x2="434.64" y2="114.82" stroke="#9c9c9c" stroke-width="1.6" stroke-linecap="butt"/>
<rect x="430.54" y="110.06" width="3.6" height="3.6" fill="#9c9c9c"/>
<line x1="442.18" y1="114.82" x2="442.18" y2="120.74" stroke="#9c9c9c" stroke-width="1.6" stroke-linecap="butt"/>
<line x1="439.88" y1="114.82" x2="444.48" y2="114.82" stroke="#9c9c9c" stroke-width="1.6" stroke-linecap="butt"/>
<line x1="439.88" y1="120.74" x2="444.48" y2="120.74" stroke="#9c9c9c" stroke-width="1.6" stroke-linecap="butt"/>
<rect x="440.38" y="115.98" width="3.6" height="3.6" fill="#9c9c9c"/>
<line x1="452.02" y1="117.78" x2="452.02" y2="123.7" stroke="#9c9c9c" stroke-width="1.6" stroke-linecap="butt"/>
<line x1="449.72" y1="117.78" x2="454.32" y2="117.78" stroke="#9c9c9c" stroke-width="1.6" stroke-linecap="butt"/>
<line x1="449.72" y1="123.7" x2="454.32" y2="123.7" stroke="#9c9c9c" stroke-width="1.6" stroke-linecap="butt"/>
<rect x="450.22" y="118.94" width="3.6" height="3.6" fill="#9c9c9c"/>
<line x1="461.86" y1="118.96" x2="461.86" y2="124.88" stroke="#9c9c9c" stroke-width="1.6" stroke-linecap="butt"/>
<line x1="459.56" y1="118.96" x2="464.16" y2="118.96" stroke="#9c9c9c" stroke-width="1.6" stroke-linecap="butt"/>
<line x1="459.56" y1="124.88" x2="464.16" y2="124.88" stroke="#9c9c9c" stroke-width="1.6" stroke-linecap="butt"/>
<rect x="460.06" y="120.12" width="3.6" height="3.6" fill="#9c9c9c"/>
<line x1="471.69" y1="118.96" x2="471.69" y2="126.06" stroke="#9c9c9c" stroke-width="1.6" stroke-linecap="butt"/>
<line x1="469.39" y1="118.96" x2="473.99" y2="118.96" stroke="#9c9c9c" stroke-width="1.6" stroke-linecap="butt"/>
<line x1="469.39" y1="126.06" x2="473.99" y2="126.06" stroke="#9c9c9c" stroke-width="1.6" stroke-linecap="butt"/>
<rect x="469.89" y="120.71" width="3.6" height="3.6" fill="#9c9c9c"/>
<line x1="481.53" y1="118.96" x2="481.53" y2="126.06" stroke="#9c9c9c" stroke-width="1.6" stroke-linecap="butt"/>
<line x1="479.23" y1="118.96" x2="483.83" y2="118.96" stroke="#9c9c9c" stroke-width="1.6" stroke-linecap="butt"/>
<line x1="479.23" y1="126.06" x2="483.83" y2="126.06" stroke="#9c9c9c" stroke-width="1.6" stroke-linecap="butt"/>
<rect x="479.73" y="120.71" width="3.6" height="3.6" fill="#9c9c9c"/>
<line x1="491.37" y1="118.96" x2="491.37" y2="126.06" stroke="#9c9c9c" stroke-width="1.6" stroke-linecap="butt"/>
<line x1="489.07" y1="118.96" x2="493.67" y2="118.96" stroke="#9c9c9c" stroke-width="1.6" stroke-linecap="butt"/>
<line x1="489.07" y1="126.06" x2="493.67" y2="126.06" stroke="#9c9c9c" stroke-width="1.6" stroke-linecap="butt"/>
<rect x="489.57" y="120.71" width="3.6" height="3.6" fill="#9c9c9c"/>
<line x1="501.21" y1="118.96" x2="501.21" y2="126.06" stroke="#9c9c9c" stroke-width="1.6" stroke-linecap="butt"/>
<line x1="498.91" y1="118.96" x2="503.51" y2="118.96" stroke="#9c9c9c" stroke-width="1.6" stroke-linecap="butt"/>
<line x1="498.91" y1="126.06" x2="503.51" y2="126.06" stroke="#9c9c9c" stroke-width="1.6" stroke-linecap="butt"/>
<rect x="499.41" y="120.71" width="3.6" height="3.6" fill="#9c9c9c"/>
<line x1="511.05" y1="118.96" x2="511.05" y2="126.06" stroke="#9c9c9c" stroke-width="1.6" stroke-linecap="butt"/>
<line x1="508.75" y1="118.96" x2="513.35" y2="118.96" stroke="#9c9c9c" stroke-width="1.6" stroke-linecap="butt"/>
<line x1="508.75" y1="126.06" x2="513.35" y2="126.06" stroke="#9c9c9c" stroke-width="1.6" stroke-linecap="butt"/>
<rect x="509.25" y="120.71" width="3.6" height="3.6" fill="#9c9c9c"/>
<line x1="520.89" y1="118.96" x2="520.89" y2="126.06" stroke="#9c9c9c" stroke-width="1.6" stroke-linecap="butt"/>
<line x1="518.59" y1="118.96" x2="523.19" y2="118.96" stroke="#9c9c9c" stroke-width="1.6" stroke-linecap="butt"/>
<line x1="518.59" y1="126.06" x2="523.19" y2="126.06" stroke="#9c9c9c" stroke-width="1.6" stroke-linecap="butt"/>
<rect x="519.09" y="120.71" width="3.6" height="3.6" fill="#9c9c9c"/>
<line x1="530.73" y1="118.96" x2="530.73" y2="126.06" stroke="#9c9c9c" stroke-width="1.6" stroke-linecap="butt"/>
<line x1="528.43" y1="118.96" x2="533.03" y2="118.96" stroke="#9c9c9c" stroke-width="1.6" stroke-linecap="butt"/>
<line x1="528.43" y1="126.06" x2="533.03" y2="126.06" stroke="#9c9c9c" stroke-width="1.6" stroke-linecap="butt"/>
<rect x="528.93" y="120.71" width="3.6" height="3.6" fill="#9c9c9c"/>
<line x1="540.57" y1="118.96" x2="540.57" y2="126.06" stroke="#9c9c9c" stroke-width="1.6" stroke-linecap="butt"/>
<line x1="538.27" y1="118.96" x2="542.87" y2="118.96" stroke="#9c9c9c" stroke-width="1.6" stroke-linecap="butt"/>
<line x1="538.27" y1="126.06" x2="542.87" y2="126.06" stroke="#9c9c9c" stroke-width="1.6" stroke-linecap="butt"/>
<rect x="538.77" y="120.71" width="3.6" height="3.6" fill="#9c9c9c"/>
<line x1="550.41" y1="118.96" x2="550.41" y2="126.06" stroke="#9c9c9c" stroke-width="1.6" stroke-linecap="butt"/>
<line x1="548.11" y1="118.96" x2="552.71" y2="118.96" stroke="#9c9c9c" stroke-width="1.6" stroke-linecap="butt"/>
<line x1="548.11" y1="126.06" x2="552.71" y2="126.06" stroke="#9c9c9c" stroke-width="1.6" stroke-linecap="butt"/>
<rect x="548.61" y="120.71" width="3.6" height="3.6" fill="#9c9c9c"/>
<line x1="560.24" y1="118.96" x2="560.24" y2="126.06" stroke="#9c9c9c" stroke-width="1.6" stroke-linecap="butt"/>
<line x1="557.94" y1="118.96" x2="562.54" y2="118.96" stroke="#9c9c9c" stroke-width="1.6" stroke-linecap="butt"/>
<line x1="557.94" y1="126.06" x2="562.54" y2="126.06" stroke="#9c9c9c" stroke-width="1.6" stroke-linecap="butt"/>
<rect x="558.44" y="120.71" width="3.6" height="3.6" fill="#9c9c9c"/>
<line x1="570.08" y1="118.96" x2="570.08" y2="126.06" stroke="#9c9c9c" stroke-width="1.6" stroke-linecap="butt"/>
<line x1="567.78" y1="118.96" x2="572.38" y2="118.96" stroke="#9c9c9c" stroke-width="1.6" stroke-linecap="butt"/>
<line x1="567.78" y1="126.06" x2="572.38" y2="126.06" stroke="#9c9c9c" stroke-width="1.6" stroke-linecap="butt"/>
<rect x="568.28" y="120.71" width="3.6" height="3.6" fill="#9c9c9c"/>
<line x1="579.92" y1="118.96" x2="579.92" y2="126.06" stroke="#9c9c9c" stroke-width="1.6" stroke-linecap="butt"/>
<line x1="577.62" y1="118.96" x2="582.22" y2="118.96" stroke="#9c9c9c" stroke-width="1.6" stroke-linecap="butt"/>
<line x1="577.62" y1="126.06" x2="582.22" y2="126.06" stroke="#9c9c9c" stroke-width="1.6" stroke-linecap="butt"/>
<rect x="578.12" y="120.71" width="3.6" height="3.6" fill="#9c9c9c"/>
<line x1="589.76" y1="118.37" x2="589.76" y2="125.47" stroke="#9c9c9c" stroke-width="1.6" stroke-linecap="butt"/>
<line x1="587.46" y1="118.37" x2="592.06" y2="118.37" stroke="#9c9c9c" stroke-width="1.6" stroke-linecap="butt"/>
<line x1="587.46" y1="125.47" x2="592.06" y2="125.47" stroke="#9c9c9c" stroke-width="1.6" stroke-linecap="butt"/>
<rect x="587.96" y="120.12" width="3.6" height="3.6" fill="#9c9c9c"/>
<line x1="599.6" y1="118.37" x2="599.6" y2="125.47" stroke="#9c9c9c" stroke-width="1.6" stroke-linecap="butt"/>
<line x1="597.3" y1="118.37" x2="601.9" y2="118.37" stroke="#9c9c9c" stroke-width="1.6" stroke-linecap="butt"/>
<line x1="597.3" y1="125.47" x2="601.9" y2="125.47" stroke="#9c9c9c" stroke-width="1.6" stroke-linecap="butt"/>
<rect x="597.8" y="120.12" width="3.6" height="3.6" fill="#9c9c9c"/>
<path d="M422.5 98.24 L432.34 104.75 L442.18 97.65 L452.02 96.46 L461.86 107.12 L471.69 111.86 L481.53 115.41 L491.37 116.59 L501.21 113.04 L511.05 111.86 L520.89 108.3 L530.73 104.75 L540.57 100.02 L550.41 94.1 L560.24 84.62 L570.08 72.19 L579.92 60.94 L589.76 48.51 L599.6 33.71" stroke="#9c9c9c" stroke-width="1.6" fill="none" stroke-dasharray="3.4 2.6"/>
<line x1="422.5" y1="95.28" x2="422.5" y2="101.2" stroke="#9c9c9c" stroke-width="1.6" stroke-linecap="butt"/>
<line x1="420.2" y1="95.28" x2="424.8" y2="95.28" stroke="#9c9c9c" stroke-width="1.6" stroke-linecap="butt"/>
<line x1="420.2" y1="101.2" x2="424.8" y2="101.2" stroke="#9c9c9c" stroke-width="1.6" stroke-linecap="butt"/>
<rect x="420.9" y="96.64" width="3.2" height="3.2" fill="#9c9c9c"/>
<line x1="432.34" y1="100.61" x2="432.34" y2="108.9" stroke="#9c9c9c" stroke-width="1.6" stroke-linecap="butt"/>
<line x1="430.04" y1="100.61" x2="434.64" y2="100.61" stroke="#9c9c9c" stroke-width="1.6" stroke-linecap="butt"/>
<line x1="430.04" y1="108.9" x2="434.64" y2="108.9" stroke="#9c9c9c" stroke-width="1.6" stroke-linecap="butt"/>
<rect x="430.74" y="103.15" width="3.2" height="3.2" fill="#9c9c9c"/>
<line x1="442.18" y1="79.89" x2="442.18" y2="115.41" stroke="#9c9c9c" stroke-width="1.6" stroke-linecap="butt"/>
<line x1="439.88" y1="79.89" x2="444.48" y2="79.89" stroke="#9c9c9c" stroke-width="1.6" stroke-linecap="butt"/>
<line x1="439.88" y1="115.41" x2="444.48" y2="115.41" stroke="#9c9c9c" stroke-width="1.6" stroke-linecap="butt"/>
<rect x="440.58" y="96.05" width="3.2" height="3.2" fill="#9c9c9c"/>
<line x1="452.02" y1="75.15" x2="452.02" y2="117.78" stroke="#9c9c9c" stroke-width="1.6" stroke-linecap="butt"/>
<line x1="449.72" y1="75.15" x2="454.32" y2="75.15" stroke="#9c9c9c" stroke-width="1.6" stroke-linecap="butt"/>
<line x1="449.72" y1="117.78" x2="454.32" y2="117.78" stroke="#9c9c9c" stroke-width="1.6" stroke-linecap="butt"/>
<rect x="450.42" y="94.86" width="3.2" height="3.2" fill="#9c9c9c"/>
<line x1="461.86" y1="95.28" x2="461.86" y2="118.96" stroke="#9c9c9c" stroke-width="1.6" stroke-linecap="butt"/>
<line x1="459.56" y1="95.28" x2="464.16" y2="95.28" stroke="#9c9c9c" stroke-width="1.6" stroke-linecap="butt"/>
<line x1="459.56" y1="118.96" x2="464.16" y2="118.96" stroke="#9c9c9c" stroke-width="1.6" stroke-linecap="butt"/>
<rect x="460.26" y="105.52" width="3.2" height="3.2" fill="#9c9c9c"/>
<line x1="471.69" y1="107.71" x2="471.69" y2="116" stroke="#9c9c9c" stroke-width="1.6" stroke-linecap="butt"/>
<line x1="469.39" y1="107.71" x2="473.99" y2="107.71" stroke="#9c9c9c" stroke-width="1.6" stroke-linecap="butt"/>
<line x1="469.39" y1="116" x2="473.99" y2="116" stroke="#9c9c9c" stroke-width="1.6" stroke-linecap="butt"/>
<rect x="470.09" y="110.26" width="3.2" height="3.2" fill="#9c9c9c"/>
<line x1="481.53" y1="111.86" x2="481.53" y2="118.96" stroke="#9c9c9c" stroke-width="1.6" stroke-linecap="butt"/>
<line x1="479.23" y1="111.86" x2="483.83" y2="111.86" stroke="#9c9c9c" stroke-width="1.6" stroke-linecap="butt"/>
<line x1="479.23" y1="118.96" x2="483.83" y2="118.96" stroke="#9c9c9c" stroke-width="1.6" stroke-linecap="butt"/>
<rect x="479.93" y="113.81" width="3.2" height="3.2" fill="#9c9c9c"/>
<line x1="491.37" y1="113.63" x2="491.37" y2="119.55" stroke="#9c9c9c" stroke-width="1.6" stroke-linecap="butt"/>
<line x1="489.07" y1="113.63" x2="493.67" y2="113.63" stroke="#9c9c9c" stroke-width="1.6" stroke-linecap="butt"/>
<line x1="489.07" y1="119.55" x2="493.67" y2="119.55" stroke="#9c9c9c" stroke-width="1.6" stroke-linecap="butt"/>
<rect x="489.77" y="114.99" width="3.2" height="3.2" fill="#9c9c9c"/>
<line x1="501.21" y1="110.08" x2="501.21" y2="116" stroke="#9c9c9c" stroke-width="1.6" stroke-linecap="butt"/>
<line x1="498.91" y1="110.08" x2="503.51" y2="110.08" stroke="#9c9c9c" stroke-width="1.6" stroke-linecap="butt"/>
<line x1="498.91" y1="116" x2="503.51" y2="116" stroke="#9c9c9c" stroke-width="1.6" stroke-linecap="butt"/>
<rect x="499.61" y="111.44" width="3.2" height="3.2" fill="#9c9c9c"/>
<line x1="511.05" y1="108.3" x2="511.05" y2="115.41" stroke="#9c9c9c" stroke-width="1.6" stroke-linecap="butt"/>
<line x1="508.75" y1="108.3" x2="513.35" y2="108.3" stroke="#9c9c9c" stroke-width="1.6" stroke-linecap="butt"/>
<line x1="508.75" y1="115.41" x2="513.35" y2="115.41" stroke="#9c9c9c" stroke-width="1.6" stroke-linecap="butt"/>
<rect x="509.45" y="110.26" width="3.2" height="3.2" fill="#9c9c9c"/>
<line x1="520.89" y1="104.75" x2="520.89" y2="111.86" stroke="#9c9c9c" stroke-width="1.6" stroke-linecap="butt"/>
<line x1="518.59" y1="104.75" x2="523.19" y2="104.75" stroke="#9c9c9c" stroke-width="1.6" stroke-linecap="butt"/>
<line x1="518.59" y1="111.86" x2="523.19" y2="111.86" stroke="#9c9c9c" stroke-width="1.6" stroke-linecap="butt"/>
<rect x="519.29" y="106.7" width="3.2" height="3.2" fill="#9c9c9c"/>
<line x1="530.73" y1="100.61" x2="530.73" y2="108.9" stroke="#9c9c9c" stroke-width="1.6" stroke-linecap="butt"/>
<line x1="528.43" y1="100.61" x2="533.03" y2="100.61" stroke="#9c9c9c" stroke-width="1.6" stroke-linecap="butt"/>
<line x1="528.43" y1="108.9" x2="533.03" y2="108.9" stroke="#9c9c9c" stroke-width="1.6" stroke-linecap="butt"/>
<rect x="529.13" y="103.15" width="3.2" height="3.2" fill="#9c9c9c"/>
<line x1="540.57" y1="95.28" x2="540.57" y2="104.75" stroke="#9c9c9c" stroke-width="1.6" stroke-linecap="butt"/>
<line x1="538.27" y1="95.28" x2="542.87" y2="95.28" stroke="#9c9c9c" stroke-width="1.6" stroke-linecap="butt"/>
<line x1="538.27" y1="104.75" x2="542.87" y2="104.75" stroke="#9c9c9c" stroke-width="1.6" stroke-linecap="butt"/>
<rect x="538.97" y="98.42" width="3.2" height="3.2" fill="#9c9c9c"/>
<line x1="550.41" y1="89.95" x2="550.41" y2="98.24" stroke="#9c9c9c" stroke-width="1.6" stroke-linecap="butt"/>
<line x1="548.11" y1="89.95" x2="552.71" y2="89.95" stroke="#9c9c9c" stroke-width="1.6" stroke-linecap="butt"/>
<line x1="548.11" y1="98.24" x2="552.71" y2="98.24" stroke="#9c9c9c" stroke-width="1.6" stroke-linecap="butt"/>
<rect x="548.81" y="92.5" width="3.2" height="3.2" fill="#9c9c9c"/>
<line x1="560.24" y1="82.26" x2="560.24" y2="86.99" stroke="#9c9c9c" stroke-width="1.6" stroke-linecap="butt"/>
<line x1="557.94" y1="82.26" x2="562.54" y2="82.26" stroke="#9c9c9c" stroke-width="1.6" stroke-linecap="butt"/>
<line x1="557.94" y1="86.99" x2="562.54" y2="86.99" stroke="#9c9c9c" stroke-width="1.6" stroke-linecap="butt"/>
<rect x="558.64" y="83.02" width="3.2" height="3.2" fill="#9c9c9c"/>
<line x1="570.08" y1="69.82" x2="570.08" y2="74.56" stroke="#9c9c9c" stroke-width="1.6" stroke-linecap="butt"/>
<line x1="567.78" y1="69.82" x2="572.38" y2="69.82" stroke="#9c9c9c" stroke-width="1.6" stroke-linecap="butt"/>
<line x1="567.78" y1="74.56" x2="572.38" y2="74.56" stroke="#9c9c9c" stroke-width="1.6" stroke-linecap="butt"/>
<rect x="568.48" y="70.59" width="3.2" height="3.2" fill="#9c9c9c"/>
<line x1="579.92" y1="59.17" x2="579.92" y2="62.72" stroke="#9c9c9c" stroke-width="1.6" stroke-linecap="butt"/>
<line x1="577.62" y1="59.17" x2="582.22" y2="59.17" stroke="#9c9c9c" stroke-width="1.6" stroke-linecap="butt"/>
<line x1="577.62" y1="62.72" x2="582.22" y2="62.72" stroke="#9c9c9c" stroke-width="1.6" stroke-linecap="butt"/>
<rect x="578.32" y="59.34" width="3.2" height="3.2" fill="#9c9c9c"/>
<line x1="589.76" y1="46.14" x2="589.76" y2="50.88" stroke="#9c9c9c" stroke-width="1.6" stroke-linecap="butt"/>
<line x1="587.46" y1="46.14" x2="592.06" y2="46.14" stroke="#9c9c9c" stroke-width="1.6" stroke-linecap="butt"/>
<line x1="587.46" y1="50.88" x2="592.06" y2="50.88" stroke="#9c9c9c" stroke-width="1.6" stroke-linecap="butt"/>
<rect x="588.16" y="46.91" width="3.2" height="3.2" fill="#9c9c9c"/>
<line x1="599.6" y1="29.27" x2="599.6" y2="38.15" stroke="#9c9c9c" stroke-width="1.6" stroke-linecap="butt"/>
<line x1="597.3" y1="29.27" x2="601.9" y2="29.27" stroke="#9c9c9c" stroke-width="1.6" stroke-linecap="butt"/>
<line x1="597.3" y1="38.15" x2="601.9" y2="38.15" stroke="#9c9c9c" stroke-width="1.6" stroke-linecap="butt"/>
<rect x="598" y="32.11" width="3.2" height="3.2" fill="#9c9c9c"/>
<path d="M422.5 107.12 C424.14 108.21 429.06 111.46 432.34 113.63 C435.62 115.8 438.9 118.66 442.18 120.14 C445.46 121.62 448.74 121.92 452.02 122.51 C455.3 123.1 458.58 123.4 461.86 123.7 C465.14 123.99 468.41 124.19 471.69 124.29 C474.97 124.39 478.25 124.29 481.53 124.29 C484.81 124.29 488.09 124.29 491.37 124.29 C494.65 124.29 497.93 124.29 501.21 124.29 C504.49 124.29 507.77 124.29 511.05 124.29 C514.33 124.29 517.61 124.29 520.89 124.29 C524.17 124.29 527.45 124.29 530.73 124.29 C534.01 124.29 537.29 124.29 540.57 124.29 C543.85 124.29 547.13 124.29 550.41 124.29 C553.69 124.29 556.96 124.29 560.24 124.29 C563.52 124.29 566.8 124.29 570.08 124.29 C573.36 124.29 576.64 124.29 579.92 124.29 C583.2 124.29 586.48 124.29 589.76 124.29 C593.04 124.29 597.96 124.29 599.6 124.29" stroke="#1c1c1c" stroke-width="1.9" fill="none"/>
<line x1="422.5" y1="104.16" x2="422.5" y2="110.08" stroke="#1c1c1c" stroke-width="1.6" stroke-linecap="butt"/>
<line x1="420.2" y1="104.16" x2="424.8" y2="104.16" stroke="#1c1c1c" stroke-width="1.6" stroke-linecap="butt"/>
<line x1="420.2" y1="110.08" x2="424.8" y2="110.08" stroke="#1c1c1c" stroke-width="1.6" stroke-linecap="butt"/>
<rect x="420.7" y="105.32" width="3.6" height="3.6" fill="#1c1c1c"/>
<line x1="432.34" y1="111.26" x2="432.34" y2="116" stroke="#1c1c1c" stroke-width="1.6" stroke-linecap="butt"/>
<line x1="430.04" y1="111.26" x2="434.64" y2="111.26" stroke="#1c1c1c" stroke-width="1.6" stroke-linecap="butt"/>
<line x1="430.04" y1="116" x2="434.64" y2="116" stroke="#1c1c1c" stroke-width="1.6" stroke-linecap="butt"/>
<rect x="430.54" y="111.83" width="3.6" height="3.6" fill="#1c1c1c"/>
<line x1="442.18" y1="118.37" x2="442.18" y2="121.92" stroke="#1c1c1c" stroke-width="1.6" stroke-linecap="butt"/>
<line x1="439.88" y1="118.37" x2="444.48" y2="118.37" stroke="#1c1c1c" stroke-width="1.6" stroke-linecap="butt"/>
<line x1="439.88" y1="121.92" x2="444.48" y2="121.92" stroke="#1c1c1c" stroke-width="1.6" stroke-linecap="butt"/>
<rect x="440.38" y="118.34" width="3.6" height="3.6" fill="#1c1c1c"/>
<line x1="452.02" y1="121.33" x2="452.02" y2="123.7" stroke="#1c1c1c" stroke-width="1.6" stroke-linecap="butt"/>
<line x1="449.72" y1="121.33" x2="454.32" y2="121.33" stroke="#1c1c1c" stroke-width="1.6" stroke-linecap="butt"/>
<line x1="449.72" y1="123.7" x2="454.32" y2="123.7" stroke="#1c1c1c" stroke-width="1.6" stroke-linecap="butt"/>
<rect x="450.22" y="120.71" width="3.6" height="3.6" fill="#1c1c1c"/>
<line x1="461.86" y1="122.51" x2="461.86" y2="124.88" stroke="#1c1c1c" stroke-width="1.6" stroke-linecap="butt"/>
<line x1="459.56" y1="122.51" x2="464.16" y2="122.51" stroke="#1c1c1c" stroke-width="1.6" stroke-linecap="butt"/>
<line x1="459.56" y1="124.88" x2="464.16" y2="124.88" stroke="#1c1c1c" stroke-width="1.6" stroke-linecap="butt"/>
<rect x="460.06" y="121.9" width="3.6" height="3.6" fill="#1c1c1c"/>
<line x1="471.69" y1="123.1" x2="471.69" y2="125.47" stroke="#1c1c1c" stroke-width="1.6" stroke-linecap="butt"/>
<line x1="469.39" y1="123.1" x2="473.99" y2="123.1" stroke="#1c1c1c" stroke-width="1.6" stroke-linecap="butt"/>
<line x1="469.39" y1="125.47" x2="473.99" y2="125.47" stroke="#1c1c1c" stroke-width="1.6" stroke-linecap="butt"/>
<rect x="469.89" y="122.49" width="3.6" height="3.6" fill="#1c1c1c"/>
<line x1="481.53" y1="123.1" x2="481.53" y2="125.47" stroke="#1c1c1c" stroke-width="1.6" stroke-linecap="butt"/>
<line x1="479.23" y1="123.1" x2="483.83" y2="123.1" stroke="#1c1c1c" stroke-width="1.6" stroke-linecap="butt"/>
<line x1="479.23" y1="125.47" x2="483.83" y2="125.47" stroke="#1c1c1c" stroke-width="1.6" stroke-linecap="butt"/>
<rect x="479.73" y="122.49" width="3.6" height="3.6" fill="#1c1c1c"/>
<line x1="491.37" y1="123.1" x2="491.37" y2="125.47" stroke="#1c1c1c" stroke-width="1.6" stroke-linecap="butt"/>
<line x1="489.07" y1="123.1" x2="493.67" y2="123.1" stroke="#1c1c1c" stroke-width="1.6" stroke-linecap="butt"/>
<line x1="489.07" y1="125.47" x2="493.67" y2="125.47" stroke="#1c1c1c" stroke-width="1.6" stroke-linecap="butt"/>
<rect x="489.57" y="122.49" width="3.6" height="3.6" fill="#1c1c1c"/>
<line x1="501.21" y1="123.1" x2="501.21" y2="125.47" stroke="#1c1c1c" stroke-width="1.6" stroke-linecap="butt"/>
<line x1="498.91" y1="123.1" x2="503.51" y2="123.1" stroke="#1c1c1c" stroke-width="1.6" stroke-linecap="butt"/>
<line x1="498.91" y1="125.47" x2="503.51" y2="125.47" stroke="#1c1c1c" stroke-width="1.6" stroke-linecap="butt"/>
<rect x="499.41" y="122.49" width="3.6" height="3.6" fill="#1c1c1c"/>
<line x1="511.05" y1="123.1" x2="511.05" y2="125.47" stroke="#1c1c1c" stroke-width="1.6" stroke-linecap="butt"/>
<line x1="508.75" y1="123.1" x2="513.35" y2="123.1" stroke="#1c1c1c" stroke-width="1.6" stroke-linecap="butt"/>
<line x1="508.75" y1="125.47" x2="513.35" y2="125.47" stroke="#1c1c1c" stroke-width="1.6" stroke-linecap="butt"/>
<rect x="509.25" y="122.49" width="3.6" height="3.6" fill="#1c1c1c"/>
<line x1="520.89" y1="123.1" x2="520.89" y2="125.47" stroke="#1c1c1c" stroke-width="1.6" stroke-linecap="butt"/>
<line x1="518.59" y1="123.1" x2="523.19" y2="123.1" stroke="#1c1c1c" stroke-width="1.6" stroke-linecap="butt"/>
<line x1="518.59" y1="125.47" x2="523.19" y2="125.47" stroke="#1c1c1c" stroke-width="1.6" stroke-linecap="butt"/>
<rect x="519.09" y="122.49" width="3.6" height="3.6" fill="#1c1c1c"/>
<line x1="530.73" y1="123.1" x2="530.73" y2="125.47" stroke="#1c1c1c" stroke-width="1.6" stroke-linecap="butt"/>
<line x1="528.43" y1="123.1" x2="533.03" y2="123.1" stroke="#1c1c1c" stroke-width="1.6" stroke-linecap="butt"/>
<line x1="528.43" y1="125.47" x2="533.03" y2="125.47" stroke="#1c1c1c" stroke-width="1.6" stroke-linecap="butt"/>
<rect x="528.93" y="122.49" width="3.6" height="3.6" fill="#1c1c1c"/>
<line x1="540.57" y1="123.1" x2="540.57" y2="125.47" stroke="#1c1c1c" stroke-width="1.6" stroke-linecap="butt"/>
<line x1="538.27" y1="123.1" x2="542.87" y2="123.1" stroke="#1c1c1c" stroke-width="1.6" stroke-linecap="butt"/>
<line x1="538.27" y1="125.47" x2="542.87" y2="125.47" stroke="#1c1c1c" stroke-width="1.6" stroke-linecap="butt"/>
<rect x="538.77" y="122.49" width="3.6" height="3.6" fill="#1c1c1c"/>
<line x1="550.41" y1="123.1" x2="550.41" y2="125.47" stroke="#1c1c1c" stroke-width="1.6" stroke-linecap="butt"/>
<line x1="548.11" y1="123.1" x2="552.71" y2="123.1" stroke="#1c1c1c" stroke-width="1.6" stroke-linecap="butt"/>
<line x1="548.11" y1="125.47" x2="552.71" y2="125.47" stroke="#1c1c1c" stroke-width="1.6" stroke-linecap="butt"/>
<rect x="548.61" y="122.49" width="3.6" height="3.6" fill="#1c1c1c"/>
<line x1="560.24" y1="123.1" x2="560.24" y2="125.47" stroke="#1c1c1c" stroke-width="1.6" stroke-linecap="butt"/>
<line x1="557.94" y1="123.1" x2="562.54" y2="123.1" stroke="#1c1c1c" stroke-width="1.6" stroke-linecap="butt"/>
<line x1="557.94" y1="125.47" x2="562.54" y2="125.47" stroke="#1c1c1c" stroke-width="1.6" stroke-linecap="butt"/>
<rect x="558.44" y="122.49" width="3.6" height="3.6" fill="#1c1c1c"/>
<line x1="570.08" y1="123.1" x2="570.08" y2="125.47" stroke="#1c1c1c" stroke-width="1.6" stroke-linecap="butt"/>
<line x1="567.78" y1="123.1" x2="572.38" y2="123.1" stroke="#1c1c1c" stroke-width="1.6" stroke-linecap="butt"/>
<line x1="567.78" y1="125.47" x2="572.38" y2="125.47" stroke="#1c1c1c" stroke-width="1.6" stroke-linecap="butt"/>
<rect x="568.28" y="122.49" width="3.6" height="3.6" fill="#1c1c1c"/>
<line x1="579.92" y1="123.1" x2="579.92" y2="125.47" stroke="#1c1c1c" stroke-width="1.6" stroke-linecap="butt"/>
<line x1="577.62" y1="123.1" x2="582.22" y2="123.1" stroke="#1c1c1c" stroke-width="1.6" stroke-linecap="butt"/>
<line x1="577.62" y1="125.47" x2="582.22" y2="125.47" stroke="#1c1c1c" stroke-width="1.6" stroke-linecap="butt"/>
<rect x="578.12" y="122.49" width="3.6" height="3.6" fill="#1c1c1c"/>
<line x1="589.76" y1="123.1" x2="589.76" y2="125.47" stroke="#1c1c1c" stroke-width="1.6" stroke-linecap="butt"/>
<line x1="587.46" y1="123.1" x2="592.06" y2="123.1" stroke="#1c1c1c" stroke-width="1.6" stroke-linecap="butt"/>
<line x1="587.46" y1="125.47" x2="592.06" y2="125.47" stroke="#1c1c1c" stroke-width="1.6" stroke-linecap="butt"/>
<rect x="587.96" y="122.49" width="3.6" height="3.6" fill="#1c1c1c"/>
<line x1="599.6" y1="123.1" x2="599.6" y2="125.47" stroke="#1c1c1c" stroke-width="1.6" stroke-linecap="butt"/>
<line x1="597.3" y1="123.1" x2="601.9" y2="123.1" stroke="#1c1c1c" stroke-width="1.6" stroke-linecap="butt"/>
<line x1="597.3" y1="125.47" x2="601.9" y2="125.47" stroke="#1c1c1c" stroke-width="1.6" stroke-linecap="butt"/>
<rect x="597.8" y="122.49" width="3.6" height="3.6" fill="#1c1c1c"/>
<path d="M422.5 105.94 L432.34 113.04 L442.18 116 L452.02 118.96 L461.86 120.14 L471.69 120.74 L481.53 120.74 L491.37 118.37 L501.21 115.41 L511.05 113.04 L520.89 111.26 L530.73 108.9 L540.57 105.94 L550.41 101.79 L560.24 98.83 L570.08 95.87 L579.92 92.32 L589.76 88.18 L599.6 82.26" stroke="#1c1c1c" stroke-width="1.6" fill="none" stroke-dasharray="3.4 2.6"/>
<line x1="422.5" y1="102.38" x2="422.5" y2="109.49" stroke="#1c1c1c" stroke-width="1.6" stroke-linecap="butt"/>
<line x1="420.2" y1="102.38" x2="424.8" y2="102.38" stroke="#1c1c1c" stroke-width="1.6" stroke-linecap="butt"/>
<line x1="420.2" y1="109.49" x2="424.8" y2="109.49" stroke="#1c1c1c" stroke-width="1.6" stroke-linecap="butt"/>
<rect x="420.9" y="104.34" width="3.2" height="3.2" fill="#1c1c1c"/>
<line x1="432.34" y1="110.08" x2="432.34" y2="116" stroke="#1c1c1c" stroke-width="1.6" stroke-linecap="butt"/>
<line x1="430.04" y1="110.08" x2="434.64" y2="110.08" stroke="#1c1c1c" stroke-width="1.6" stroke-linecap="butt"/>
<line x1="430.04" y1="116" x2="434.64" y2="116" stroke="#1c1c1c" stroke-width="1.6" stroke-linecap="butt"/>
<rect x="430.74" y="111.44" width="3.2" height="3.2" fill="#1c1c1c"/>
<line x1="442.18" y1="113.63" x2="442.18" y2="118.37" stroke="#1c1c1c" stroke-width="1.6" stroke-linecap="butt"/>
<line x1="439.88" y1="113.63" x2="444.48" y2="113.63" stroke="#1c1c1c" stroke-width="1.6" stroke-linecap="butt"/>
<line x1="439.88" y1="118.37" x2="444.48" y2="118.37" stroke="#1c1c1c" stroke-width="1.6" stroke-linecap="butt"/>
<rect x="440.58" y="114.4" width="3.2" height="3.2" fill="#1c1c1c"/>
<line x1="452.02" y1="116.59" x2="452.02" y2="121.33" stroke="#1c1c1c" stroke-width="1.6" stroke-linecap="butt"/>
<line x1="449.72" y1="116.59" x2="454.32" y2="116.59" stroke="#1c1c1c" stroke-width="1.6" stroke-linecap="butt"/>
<line x1="449.72" y1="121.33" x2="454.32" y2="121.33" stroke="#1c1c1c" stroke-width="1.6" stroke-linecap="butt"/>
<rect x="450.42" y="117.36" width="3.2" height="3.2" fill="#1c1c1c"/>
<line x1="461.86" y1="117.78" x2="461.86" y2="122.51" stroke="#1c1c1c" stroke-width="1.6" stroke-linecap="butt"/>
<line x1="459.56" y1="117.78" x2="464.16" y2="117.78" stroke="#1c1c1c" stroke-width="1.6" stroke-linecap="butt"/>
<line x1="459.56" y1="122.51" x2="464.16" y2="122.51" stroke="#1c1c1c" stroke-width="1.6" stroke-linecap="butt"/>
<rect x="460.26" y="118.54" width="3.2" height="3.2" fill="#1c1c1c"/>
<line x1="471.69" y1="118.37" x2="471.69" y2="123.1" stroke="#1c1c1c" stroke-width="1.6" stroke-linecap="butt"/>
<line x1="469.39" y1="118.37" x2="473.99" y2="118.37" stroke="#1c1c1c" stroke-width="1.6" stroke-linecap="butt"/>
<line x1="469.39" y1="123.1" x2="473.99" y2="123.1" stroke="#1c1c1c" stroke-width="1.6" stroke-linecap="butt"/>
<rect x="470.09" y="119.14" width="3.2" height="3.2" fill="#1c1c1c"/>
<line x1="481.53" y1="118.37" x2="481.53" y2="123.1" stroke="#1c1c1c" stroke-width="1.6" stroke-linecap="butt"/>
<line x1="479.23" y1="118.37" x2="483.83" y2="118.37" stroke="#1c1c1c" stroke-width="1.6" stroke-linecap="butt"/>
<line x1="479.23" y1="123.1" x2="483.83" y2="123.1" stroke="#1c1c1c" stroke-width="1.6" stroke-linecap="butt"/>
<rect x="479.93" y="119.14" width="3.2" height="3.2" fill="#1c1c1c"/>
<line x1="491.37" y1="115.41" x2="491.37" y2="121.33" stroke="#1c1c1c" stroke-width="1.6" stroke-linecap="butt"/>
<line x1="489.07" y1="115.41" x2="493.67" y2="115.41" stroke="#1c1c1c" stroke-width="1.6" stroke-linecap="butt"/>
<line x1="489.07" y1="121.33" x2="493.67" y2="121.33" stroke="#1c1c1c" stroke-width="1.6" stroke-linecap="butt"/>
<rect x="489.77" y="116.77" width="3.2" height="3.2" fill="#1c1c1c"/>
<line x1="501.21" y1="112.45" x2="501.21" y2="118.37" stroke="#1c1c1c" stroke-width="1.6" stroke-linecap="butt"/>
<line x1="498.91" y1="112.45" x2="503.51" y2="112.45" stroke="#1c1c1c" stroke-width="1.6" stroke-linecap="butt"/>
<line x1="498.91" y1="118.37" x2="503.51" y2="118.37" stroke="#1c1c1c" stroke-width="1.6" stroke-linecap="butt"/>
<rect x="499.61" y="113.81" width="3.2" height="3.2" fill="#1c1c1c"/>
<line x1="511.05" y1="110.08" x2="511.05" y2="116" stroke="#1c1c1c" stroke-width="1.6" stroke-linecap="butt"/>
<line x1="508.75" y1="110.08" x2="513.35" y2="110.08" stroke="#1c1c1c" stroke-width="1.6" stroke-linecap="butt"/>
<line x1="508.75" y1="116" x2="513.35" y2="116" stroke="#1c1c1c" stroke-width="1.6" stroke-linecap="butt"/>
<rect x="509.45" y="111.44" width="3.2" height="3.2" fill="#1c1c1c"/>
<line x1="520.89" y1="107.71" x2="520.89" y2="114.82" stroke="#1c1c1c" stroke-width="1.6" stroke-linecap="butt"/>
<line x1="518.59" y1="107.71" x2="523.19" y2="107.71" stroke="#1c1c1c" stroke-width="1.6" stroke-linecap="butt"/>
<line x1="518.59" y1="114.82" x2="523.19" y2="114.82" stroke="#1c1c1c" stroke-width="1.6" stroke-linecap="butt"/>
<rect x="519.29" y="109.66" width="3.2" height="3.2" fill="#1c1c1c"/>
<line x1="530.73" y1="105.34" x2="530.73" y2="112.45" stroke="#1c1c1c" stroke-width="1.6" stroke-linecap="butt"/>
<line x1="528.43" y1="105.34" x2="533.03" y2="105.34" stroke="#1c1c1c" stroke-width="1.6" stroke-linecap="butt"/>
<line x1="528.43" y1="112.45" x2="533.03" y2="112.45" stroke="#1c1c1c" stroke-width="1.6" stroke-linecap="butt"/>
<rect x="529.13" y="107.3" width="3.2" height="3.2" fill="#1c1c1c"/>
<line x1="540.57" y1="102.38" x2="540.57" y2="109.49" stroke="#1c1c1c" stroke-width="1.6" stroke-linecap="butt"/>
<line x1="538.27" y1="102.38" x2="542.87" y2="102.38" stroke="#1c1c1c" stroke-width="1.6" stroke-linecap="butt"/>
<line x1="538.27" y1="109.49" x2="542.87" y2="109.49" stroke="#1c1c1c" stroke-width="1.6" stroke-linecap="butt"/>
<rect x="538.97" y="104.34" width="3.2" height="3.2" fill="#1c1c1c"/>
<line x1="550.41" y1="98.24" x2="550.41" y2="105.34" stroke="#1c1c1c" stroke-width="1.6" stroke-linecap="butt"/>
<line x1="548.11" y1="98.24" x2="552.71" y2="98.24" stroke="#1c1c1c" stroke-width="1.6" stroke-linecap="butt"/>
<line x1="548.11" y1="105.34" x2="552.71" y2="105.34" stroke="#1c1c1c" stroke-width="1.6" stroke-linecap="butt"/>
<rect x="548.81" y="100.19" width="3.2" height="3.2" fill="#1c1c1c"/>
<line x1="560.24" y1="95.28" x2="560.24" y2="102.38" stroke="#1c1c1c" stroke-width="1.6" stroke-linecap="butt"/>
<line x1="557.94" y1="95.28" x2="562.54" y2="95.28" stroke="#1c1c1c" stroke-width="1.6" stroke-linecap="butt"/>
<line x1="557.94" y1="102.38" x2="562.54" y2="102.38" stroke="#1c1c1c" stroke-width="1.6" stroke-linecap="butt"/>
<rect x="558.64" y="97.23" width="3.2" height="3.2" fill="#1c1c1c"/>
<line x1="570.08" y1="92.08" x2="570.08" y2="99.66" stroke="#1c1c1c" stroke-width="1.6" stroke-linecap="butt"/>
<line x1="567.78" y1="92.08" x2="572.38" y2="92.08" stroke="#1c1c1c" stroke-width="1.6" stroke-linecap="butt"/>
<line x1="567.78" y1="99.66" x2="572.38" y2="99.66" stroke="#1c1c1c" stroke-width="1.6" stroke-linecap="butt"/>
<rect x="568.48" y="94.27" width="3.2" height="3.2" fill="#1c1c1c"/>
<line x1="579.92" y1="87.88" x2="579.92" y2="96.76" stroke="#1c1c1c" stroke-width="1.6" stroke-linecap="butt"/>
<line x1="577.62" y1="87.88" x2="582.22" y2="87.88" stroke="#1c1c1c" stroke-width="1.6" stroke-linecap="butt"/>
<line x1="577.62" y1="96.76" x2="582.22" y2="96.76" stroke="#1c1c1c" stroke-width="1.6" stroke-linecap="butt"/>
<rect x="578.32" y="90.72" width="3.2" height="3.2" fill="#1c1c1c"/>
<line x1="589.76" y1="83.44" x2="589.76" y2="92.91" stroke="#1c1c1c" stroke-width="1.6" stroke-linecap="butt"/>
<line x1="587.46" y1="83.44" x2="592.06" y2="83.44" stroke="#1c1c1c" stroke-width="1.6" stroke-linecap="butt"/>
<line x1="587.46" y1="92.91" x2="592.06" y2="92.91" stroke="#1c1c1c" stroke-width="1.6" stroke-linecap="butt"/>
<rect x="588.16" y="86.58" width="3.2" height="3.2" fill="#1c1c1c"/>
<line x1="599.6" y1="76.34" x2="599.6" y2="88.18" stroke="#1c1c1c" stroke-width="1.6" stroke-linecap="butt"/>
<line x1="597.3" y1="76.34" x2="601.9" y2="76.34" stroke="#1c1c1c" stroke-width="1.6" stroke-linecap="butt"/>
<line x1="597.3" y1="88.18" x2="601.9" y2="88.18" stroke="#1c1c1c" stroke-width="1.6" stroke-linecap="butt"/>
<rect x="598" y="80.66" width="3.2" height="3.2" fill="#1c1c1c"/>
<line x1="422.5" y1="11.5" x2="422.5" y2="131.7" stroke="#1c1c1c" stroke-width="1.9" stroke-linecap="butt"/>
<line x1="421.6" y1="130.8" x2="600.5" y2="130.8" stroke="#1c1c1c" stroke-width="1.9" stroke-linecap="butt"/>
<line x1="418.9" y1="130.8" x2="422.5" y2="130.8" stroke="#1c1c1c" stroke-width="1.7" stroke-linecap="butt"/>
<text x="414.7" y="134.4" font-size="10" font-weight="bold" text-anchor="end" fill="#1c1c1c">0</text>
<line x1="418.9" y1="101.2" x2="422.5" y2="101.2" stroke="#1c1c1c" stroke-width="1.7" stroke-linecap="butt"/>
<text x="414.7" y="104.8" font-size="10" font-weight="bold" text-anchor="end" fill="#1c1c1c">50</text>
<line x1="418.9" y1="71.6" x2="422.5" y2="71.6" stroke="#1c1c1c" stroke-width="1.7" stroke-linecap="butt"/>
<text x="414.7" y="75.2" font-size="10" font-weight="bold" text-anchor="end" fill="#1c1c1c">100</text>
<line x1="418.9" y1="42" x2="422.5" y2="42" stroke="#1c1c1c" stroke-width="1.7" stroke-linecap="butt"/>
<text x="414.7" y="45.6" font-size="10" font-weight="bold" text-anchor="end" fill="#1c1c1c">150</text>
<line x1="418.9" y1="12.4" x2="422.5" y2="12.4" stroke="#1c1c1c" stroke-width="1.7" stroke-linecap="butt"/>
<text x="414.7" y="16" font-size="10" font-weight="bold" text-anchor="end" fill="#1c1c1c">200</text>
<line x1="422.5" y1="130.8" x2="422.5" y2="134.4" stroke="#1c1c1c" stroke-width="1.7" stroke-linecap="butt"/>
<text x="422.5" y="146" font-size="10" font-weight="bold" text-anchor="middle" fill="#1c1c1c">0</text>
<line x1="481.53" y1="130.8" x2="481.53" y2="134.4" stroke="#1c1c1c" stroke-width="1.7" stroke-linecap="butt"/>
<text x="481.53" y="146" font-size="10" font-weight="bold" text-anchor="middle" fill="#1c1c1c">6</text>
<line x1="540.57" y1="130.8" x2="540.57" y2="134.4" stroke="#1c1c1c" stroke-width="1.7" stroke-linecap="butt"/>
<text x="540.57" y="146" font-size="10" font-weight="bold" text-anchor="middle" fill="#1c1c1c">12</text>
<line x1="599.6" y1="130.8" x2="599.6" y2="134.4" stroke="#1c1c1c" stroke-width="1.7" stroke-linecap="butt"/>
<text x="599.6" y="146" font-size="10" font-weight="bold" text-anchor="middle" fill="#1c1c1c">18</text>
<text x="511.05" y="160.6" font-size="10" font-weight="bold" text-anchor="middle" fill="#1c1c1c">Time (h)</text>
<text x="378.6" y="71.6" font-size="10" font-weight="bold" text-anchor="middle" fill="#1c1c1c" transform="rotate(-90 378.6 71.6)">PC-3M</text>
<text x="390.7" y="71.6" font-size="10" font-weight="bold" text-anchor="middle" fill="#1c1c1c" transform="rotate(-90 390.7 71.6)">Annexin V count</text>
<line x1="429.7" y1="22.2" x2="442.2" y2="22.2" stroke="#1c1c1c" stroke-width="1.9" stroke-linecap="butt"/>
<text x="447" y="25.9" font-size="10.05" fill="#2a2a2a">DMSO</text>
<line x1="429.7" y1="35.85" x2="442.2" y2="35.85" stroke="#9c9c9c" stroke-width="1.9" stroke-linecap="butt"/>
<text x="447" y="39.55" font-size="10.05" fill="#2a2a2a">OH14</text>
<line x1="429.7" y1="49.5" x2="442.2" y2="49.5" stroke="#1c1c1c" stroke-width="1.9" stroke-dasharray="2.8 2.05" stroke-linecap="butt"/>
<text x="447" y="53.2" font-size="10.05" fill="#2a2a2a">DMSO + TRAIL</text>
<line x1="429.7" y1="63.15" x2="442.2" y2="63.15" stroke="#9c9c9c" stroke-width="1.9" stroke-dasharray="2.8 2.05" stroke-linecap="butt"/>
<text x="447" y="66.85" font-size="10.05" fill="#2a2a2a">OH14 + TRAIL</text>
<path d="M604.2 31.8 H608.8 V80.6 H604.2" stroke="#1c1c1c" stroke-width="2.4" fill="none"/>
<path d="M616.25 56.7 L622.15 56.7 M617.73 54.15 L620.68 59.25 M620.68 54.15 L617.73 59.25 " stroke="#1c1c1c" stroke-width="1.5" fill="none"/>
<path d="M604.2 83.7 H608.8 V124.7 H604.2" stroke="#1c1c1c" stroke-width="2.4" fill="none"/>
<path d="M616.25 104.8 L622.15 104.8 M617.73 102.25 L620.68 107.35 M620.68 102.25 L617.73 107.35 " stroke="#1c1c1c" stroke-width="1.5" fill="none"/>
<path d="M623.8 83.7 H628.2 V119 H623.8" stroke="#1c1c1c" stroke-width="2.4" fill="none"/>
<path d="M635.65 101.7 L641.55 101.7 M637.12 99.15 L640.08 104.25 M640.08 99.15 L637.12 104.25 " stroke="#1c1c1c" stroke-width="1.5" fill="none"/>
<path d="M641.3 31.8 H646.1 V119 H641.3" stroke="#1c1c1c" stroke-width="2.4" fill="none"/>
<path d="M652.65 68.5 L658.55 68.5 M654.12 65.95 L657.08 71.05 M657.08 65.95 L654.12 71.05 " stroke="#1c1c1c" stroke-width="1.5" fill="none"/>
<path d="M652.65 75.6 L658.55 75.6 M654.12 73.05 L657.08 78.15 M657.08 73.05 L654.12 78.15 " stroke="#1c1c1c" stroke-width="1.5" fill="none"/>
<path d="M652.65 82.7 L658.55 82.7 M654.12 80.15 L657.08 85.25 M657.08 80.15 L654.12 85.25 " stroke="#1c1c1c" stroke-width="1.5" fill="none"/>
<path d="M664.2 31.8 H669.4 V124.7 H664.2" stroke="#1c1c1c" stroke-width="2.4" fill="none"/>
<path d="M675.65 71.5 L681.55 71.5 M677.12 68.95 L680.08 74.05 M680.08 68.95 L677.12 74.05 " stroke="#1c1c1c" stroke-width="1.5" fill="none"/>
<path d="M675.65 78.6 L681.55 78.6 M677.12 76.05 L680.08 81.15 M680.08 76.05 L677.12 81.15 " stroke="#1c1c1c" stroke-width="1.5" fill="none"/>
<path d="M675.65 85.7 L681.55 85.7 M677.12 83.15 L680.08 88.25 M680.08 83.15 L677.12 88.25 " stroke="#1c1c1c" stroke-width="1.5" fill="none"/>
<path d="M53.7 322.75 C55.35 322.99 60.29 323.58 63.58 324.14 C66.88 324.7 70.17 325.72 73.47 326.11 C76.76 326.51 80.06 326.44 83.35 326.51 C86.64 326.57 89.94 326.54 93.23 326.51 C96.53 326.47 99.82 326.38 103.12 326.31 C106.41 326.24 109.71 326.21 113 326.11 C116.29 326.01 119.59 325.85 122.88 325.72 C126.18 325.59 129.47 325.49 132.77 325.32 C136.06 325.16 139.36 324.93 142.65 324.73 C145.94 324.53 149.24 324.33 152.53 324.14 C155.83 323.94 159.12 323.78 162.42 323.55 C165.71 323.31 169.01 323.02 172.3 322.75 C175.59 322.49 178.89 322.23 182.18 321.96 C185.48 321.7 188.77 321.44 192.07 321.18 C195.36 320.91 198.66 320.65 201.95 320.38 C205.24 320.12 208.54 319.86 211.83 319.6 C215.13 319.33 218.42 319.04 221.72 318.81 C225.01 318.57 229.95 318.31 231.6 318.21" stroke="#9c9c9c" stroke-width="1.8" fill="none"/>
<line x1="53.7" y1="321.18" x2="53.7" y2="324.33" stroke="#9c9c9c" stroke-width="1.6" stroke-linecap="butt"/>
<line x1="51.4" y1="321.18" x2="56" y2="321.18" stroke="#9c9c9c" stroke-width="1.6" stroke-linecap="butt"/>
<line x1="51.4" y1="324.33" x2="56" y2="324.33" stroke="#9c9c9c" stroke-width="1.6" stroke-linecap="butt"/>
<rect x="51.9" y="320.95" width="3.6" height="3.6" fill="#9c9c9c"/>
<line x1="63.58" y1="322.95" x2="63.58" y2="325.32" stroke="#9c9c9c" stroke-width="1.6" stroke-linecap="butt"/>
<line x1="61.28" y1="322.95" x2="65.88" y2="322.95" stroke="#9c9c9c" stroke-width="1.6" stroke-linecap="butt"/>
<line x1="61.28" y1="325.32" x2="65.88" y2="325.32" stroke="#9c9c9c" stroke-width="1.6" stroke-linecap="butt"/>
<rect x="61.78" y="322.34" width="3.6" height="3.6" fill="#9c9c9c"/>
<line x1="73.47" y1="325.12" x2="73.47" y2="327.1" stroke="#9c9c9c" stroke-width="1.6" stroke-linecap="butt"/>
<line x1="71.17" y1="325.12" x2="75.77" y2="325.12" stroke="#9c9c9c" stroke-width="1.6" stroke-linecap="butt"/>
<line x1="71.17" y1="327.1" x2="75.77" y2="327.1" stroke="#9c9c9c" stroke-width="1.6" stroke-linecap="butt"/>
<rect x="71.67" y="324.31" width="3.6" height="3.6" fill="#9c9c9c"/>
<line x1="83.35" y1="325.72" x2="83.35" y2="327.3" stroke="#9c9c9c" stroke-width="1.6" stroke-linecap="butt"/>
<line x1="81.05" y1="325.72" x2="85.65" y2="325.72" stroke="#9c9c9c" stroke-width="1.6" stroke-linecap="butt"/>
<line x1="81.05" y1="327.3" x2="85.65" y2="327.3" stroke="#9c9c9c" stroke-width="1.6" stroke-linecap="butt"/>
<rect x="81.55" y="324.71" width="3.6" height="3.6" fill="#9c9c9c"/>
<line x1="93.23" y1="325.72" x2="93.23" y2="327.3" stroke="#9c9c9c" stroke-width="1.6" stroke-linecap="butt"/>
<line x1="90.93" y1="325.72" x2="95.53" y2="325.72" stroke="#9c9c9c" stroke-width="1.6" stroke-linecap="butt"/>
<line x1="90.93" y1="327.3" x2="95.53" y2="327.3" stroke="#9c9c9c" stroke-width="1.6" stroke-linecap="butt"/>
<rect x="91.43" y="324.71" width="3.6" height="3.6" fill="#9c9c9c"/>
<line x1="103.12" y1="325.52" x2="103.12" y2="327.1" stroke="#9c9c9c" stroke-width="1.6" stroke-linecap="butt"/>
<line x1="100.82" y1="325.52" x2="105.42" y2="325.52" stroke="#9c9c9c" stroke-width="1.6" stroke-linecap="butt"/>
<line x1="100.82" y1="327.1" x2="105.42" y2="327.1" stroke="#9c9c9c" stroke-width="1.6" stroke-linecap="butt"/>
<rect x="101.32" y="324.51" width="3.6" height="3.6" fill="#9c9c9c"/>
<line x1="113" y1="325.32" x2="113" y2="326.9" stroke="#9c9c9c" stroke-width="1.6" stroke-linecap="butt"/>
<line x1="110.7" y1="325.32" x2="115.3" y2="325.32" stroke="#9c9c9c" stroke-width="1.6" stroke-linecap="butt"/>
<line x1="110.7" y1="326.9" x2="115.3" y2="326.9" stroke="#9c9c9c" stroke-width="1.6" stroke-linecap="butt"/>
<rect x="111.2" y="324.31" width="3.6" height="3.6" fill="#9c9c9c"/>
<line x1="122.88" y1="324.93" x2="122.88" y2="326.51" stroke="#9c9c9c" stroke-width="1.6" stroke-linecap="butt"/>
<line x1="120.58" y1="324.93" x2="125.18" y2="324.93" stroke="#9c9c9c" stroke-width="1.6" stroke-linecap="butt"/>
<line x1="120.58" y1="326.51" x2="125.18" y2="326.51" stroke="#9c9c9c" stroke-width="1.6" stroke-linecap="butt"/>
<rect x="121.08" y="323.92" width="3.6" height="3.6" fill="#9c9c9c"/>
<line x1="132.77" y1="324.53" x2="132.77" y2="326.11" stroke="#9c9c9c" stroke-width="1.6" stroke-linecap="butt"/>
<line x1="130.47" y1="324.53" x2="135.07" y2="324.53" stroke="#9c9c9c" stroke-width="1.6" stroke-linecap="butt"/>
<line x1="130.47" y1="326.11" x2="135.07" y2="326.11" stroke="#9c9c9c" stroke-width="1.6" stroke-linecap="butt"/>
<rect x="130.97" y="323.52" width="3.6" height="3.6" fill="#9c9c9c"/>
<line x1="142.65" y1="323.94" x2="142.65" y2="325.52" stroke="#9c9c9c" stroke-width="1.6" stroke-linecap="butt"/>
<line x1="140.35" y1="323.94" x2="144.95" y2="323.94" stroke="#9c9c9c" stroke-width="1.6" stroke-linecap="butt"/>
<line x1="140.35" y1="325.52" x2="144.95" y2="325.52" stroke="#9c9c9c" stroke-width="1.6" stroke-linecap="butt"/>
<rect x="140.85" y="322.93" width="3.6" height="3.6" fill="#9c9c9c"/>
<line x1="152.53" y1="323.35" x2="152.53" y2="324.93" stroke="#9c9c9c" stroke-width="1.6" stroke-linecap="butt"/>
<line x1="150.23" y1="323.35" x2="154.83" y2="323.35" stroke="#9c9c9c" stroke-width="1.6" stroke-linecap="butt"/>
<line x1="150.23" y1="324.93" x2="154.83" y2="324.93" stroke="#9c9c9c" stroke-width="1.6" stroke-linecap="butt"/>
<rect x="150.73" y="322.34" width="3.6" height="3.6" fill="#9c9c9c"/>
<line x1="162.42" y1="322.75" x2="162.42" y2="324.33" stroke="#9c9c9c" stroke-width="1.6" stroke-linecap="butt"/>
<line x1="160.12" y1="322.75" x2="164.72" y2="322.75" stroke="#9c9c9c" stroke-width="1.6" stroke-linecap="butt"/>
<line x1="160.12" y1="324.33" x2="164.72" y2="324.33" stroke="#9c9c9c" stroke-width="1.6" stroke-linecap="butt"/>
<rect x="160.62" y="321.75" width="3.6" height="3.6" fill="#9c9c9c"/>
<line x1="172.3" y1="321.96" x2="172.3" y2="323.55" stroke="#9c9c9c" stroke-width="1.6" stroke-linecap="butt"/>
<line x1="170" y1="321.96" x2="174.6" y2="321.96" stroke="#9c9c9c" stroke-width="1.6" stroke-linecap="butt"/>
<line x1="170" y1="323.55" x2="174.6" y2="323.55" stroke="#9c9c9c" stroke-width="1.6" stroke-linecap="butt"/>
<rect x="170.5" y="320.95" width="3.6" height="3.6" fill="#9c9c9c"/>
<line x1="182.18" y1="321.18" x2="182.18" y2="322.75" stroke="#9c9c9c" stroke-width="1.6" stroke-linecap="butt"/>
<line x1="179.88" y1="321.18" x2="184.48" y2="321.18" stroke="#9c9c9c" stroke-width="1.6" stroke-linecap="butt"/>
<line x1="179.88" y1="322.75" x2="184.48" y2="322.75" stroke="#9c9c9c" stroke-width="1.6" stroke-linecap="butt"/>
<rect x="180.38" y="320.16" width="3.6" height="3.6" fill="#9c9c9c"/>
<line x1="192.07" y1="320.38" x2="192.07" y2="321.96" stroke="#9c9c9c" stroke-width="1.6" stroke-linecap="butt"/>
<line x1="189.77" y1="320.38" x2="194.37" y2="320.38" stroke="#9c9c9c" stroke-width="1.6" stroke-linecap="butt"/>
<line x1="189.77" y1="321.96" x2="194.37" y2="321.96" stroke="#9c9c9c" stroke-width="1.6" stroke-linecap="butt"/>
<rect x="190.27" y="319.38" width="3.6" height="3.6" fill="#9c9c9c"/>
<line x1="201.95" y1="319.6" x2="201.95" y2="321.18" stroke="#9c9c9c" stroke-width="1.6" stroke-linecap="butt"/>
<line x1="199.65" y1="319.6" x2="204.25" y2="319.6" stroke="#9c9c9c" stroke-width="1.6" stroke-linecap="butt"/>
<line x1="199.65" y1="321.18" x2="204.25" y2="321.18" stroke="#9c9c9c" stroke-width="1.6" stroke-linecap="butt"/>
<rect x="200.15" y="318.58" width="3.6" height="3.6" fill="#9c9c9c"/>
<line x1="211.83" y1="318.61" x2="211.83" y2="320.58" stroke="#9c9c9c" stroke-width="1.6" stroke-linecap="butt"/>
<line x1="209.53" y1="318.61" x2="214.13" y2="318.61" stroke="#9c9c9c" stroke-width="1.6" stroke-linecap="butt"/>
<line x1="209.53" y1="320.58" x2="214.13" y2="320.58" stroke="#9c9c9c" stroke-width="1.6" stroke-linecap="butt"/>
<rect x="210.03" y="317.8" width="3.6" height="3.6" fill="#9c9c9c"/>
<line x1="221.72" y1="317.82" x2="221.72" y2="319.79" stroke="#9c9c9c" stroke-width="1.6" stroke-linecap="butt"/>
<line x1="219.42" y1="317.82" x2="224.02" y2="317.82" stroke="#9c9c9c" stroke-width="1.6" stroke-linecap="butt"/>
<line x1="219.42" y1="319.79" x2="224.02" y2="319.79" stroke="#9c9c9c" stroke-width="1.6" stroke-linecap="butt"/>
<rect x="219.92" y="317" width="3.6" height="3.6" fill="#9c9c9c"/>
<line x1="231.6" y1="317.03" x2="231.6" y2="319.4" stroke="#9c9c9c" stroke-width="1.6" stroke-linecap="butt"/>
<line x1="229.3" y1="317.03" x2="233.9" y2="317.03" stroke="#9c9c9c" stroke-width="1.6" stroke-linecap="butt"/>
<line x1="229.3" y1="319.4" x2="233.9" y2="319.4" stroke="#9c9c9c" stroke-width="1.6" stroke-linecap="butt"/>
<rect x="229.8" y="316.41" width="3.6" height="3.6" fill="#9c9c9c"/>
<path d="M53.7 318.01 L63.58 321.96 L73.47 311.89 L83.35 318.21 L93.23 322.75 L103.12 322.36 L113 319.99 L122.88 314.86 L132.77 310.51 L142.65 304.78 L152.53 299.06 L162.42 292.34 L172.3 285.43 L182.18 278.91 L192.07 272.39 L201.95 263.7 L211.83 256 L221.72 247.11 L231.6 241.19" stroke="#9c9c9c" stroke-width="1.6" fill="none" stroke-dasharray="3.4 2.6"/>
<line x1="53.7" y1="316.44" x2="53.7" y2="319.6" stroke="#9c9c9c" stroke-width="1.6" stroke-linecap="butt"/>
<line x1="51.4" y1="316.44" x2="56" y2="316.44" stroke="#9c9c9c" stroke-width="1.6" stroke-linecap="butt"/>
<line x1="51.4" y1="319.6" x2="56" y2="319.6" stroke="#9c9c9c" stroke-width="1.6" stroke-linecap="butt"/>
<rect x="52.1" y="316.41" width="3.2" height="3.2" fill="#9c9c9c"/>
<line x1="63.58" y1="319.99" x2="63.58" y2="323.94" stroke="#9c9c9c" stroke-width="1.6" stroke-linecap="butt"/>
<line x1="61.28" y1="319.99" x2="65.88" y2="319.99" stroke="#9c9c9c" stroke-width="1.6" stroke-linecap="butt"/>
<line x1="61.28" y1="323.94" x2="65.88" y2="323.94" stroke="#9c9c9c" stroke-width="1.6" stroke-linecap="butt"/>
<rect x="61.98" y="320.36" width="3.2" height="3.2" fill="#9c9c9c"/>
<line x1="73.47" y1="302.02" x2="73.47" y2="321.77" stroke="#9c9c9c" stroke-width="1.6" stroke-linecap="butt"/>
<line x1="71.17" y1="302.02" x2="75.77" y2="302.02" stroke="#9c9c9c" stroke-width="1.6" stroke-linecap="butt"/>
<line x1="71.17" y1="321.77" x2="75.77" y2="321.77" stroke="#9c9c9c" stroke-width="1.6" stroke-linecap="butt"/>
<rect x="71.87" y="310.29" width="3.2" height="3.2" fill="#9c9c9c"/>
<line x1="83.35" y1="313.08" x2="83.35" y2="323.35" stroke="#9c9c9c" stroke-width="1.6" stroke-linecap="butt"/>
<line x1="81.05" y1="313.08" x2="85.65" y2="313.08" stroke="#9c9c9c" stroke-width="1.6" stroke-linecap="butt"/>
<line x1="81.05" y1="323.35" x2="85.65" y2="323.35" stroke="#9c9c9c" stroke-width="1.6" stroke-linecap="butt"/>
<rect x="81.75" y="316.61" width="3.2" height="3.2" fill="#9c9c9c"/>
<line x1="93.23" y1="321.77" x2="93.23" y2="323.74" stroke="#9c9c9c" stroke-width="1.6" stroke-linecap="butt"/>
<line x1="90.93" y1="321.77" x2="95.53" y2="321.77" stroke="#9c9c9c" stroke-width="1.6" stroke-linecap="butt"/>
<line x1="90.93" y1="323.74" x2="95.53" y2="323.74" stroke="#9c9c9c" stroke-width="1.6" stroke-linecap="butt"/>
<rect x="91.63" y="321.15" width="3.2" height="3.2" fill="#9c9c9c"/>
<line x1="103.12" y1="321.37" x2="103.12" y2="323.35" stroke="#9c9c9c" stroke-width="1.6" stroke-linecap="butt"/>
<line x1="100.82" y1="321.37" x2="105.42" y2="321.37" stroke="#9c9c9c" stroke-width="1.6" stroke-linecap="butt"/>
<line x1="100.82" y1="323.35" x2="105.42" y2="323.35" stroke="#9c9c9c" stroke-width="1.6" stroke-linecap="butt"/>
<rect x="101.52" y="320.76" width="3.2" height="3.2" fill="#9c9c9c"/>
<line x1="113" y1="318.41" x2="113" y2="321.57" stroke="#9c9c9c" stroke-width="1.6" stroke-linecap="butt"/>
<line x1="110.7" y1="318.41" x2="115.3" y2="318.41" stroke="#9c9c9c" stroke-width="1.6" stroke-linecap="butt"/>
<line x1="110.7" y1="321.57" x2="115.3" y2="321.57" stroke="#9c9c9c" stroke-width="1.6" stroke-linecap="butt"/>
<rect x="111.4" y="318.39" width="3.2" height="3.2" fill="#9c9c9c"/>
<line x1="122.88" y1="312.88" x2="122.88" y2="316.83" stroke="#9c9c9c" stroke-width="1.6" stroke-linecap="butt"/>
<line x1="120.58" y1="312.88" x2="125.18" y2="312.88" stroke="#9c9c9c" stroke-width="1.6" stroke-linecap="butt"/>
<line x1="120.58" y1="316.83" x2="125.18" y2="316.83" stroke="#9c9c9c" stroke-width="1.6" stroke-linecap="butt"/>
<rect x="121.28" y="313.25" width="3.2" height="3.2" fill="#9c9c9c"/>
<line x1="132.77" y1="307.55" x2="132.77" y2="313.47" stroke="#9c9c9c" stroke-width="1.6" stroke-linecap="butt"/>
<line x1="130.47" y1="307.55" x2="135.07" y2="307.55" stroke="#9c9c9c" stroke-width="1.6" stroke-linecap="butt"/>
<line x1="130.47" y1="313.47" x2="135.07" y2="313.47" stroke="#9c9c9c" stroke-width="1.6" stroke-linecap="butt"/>
<rect x="131.17" y="308.91" width="3.2" height="3.2" fill="#9c9c9c"/>
<line x1="142.65" y1="300.44" x2="142.65" y2="309.13" stroke="#9c9c9c" stroke-width="1.6" stroke-linecap="butt"/>
<line x1="140.35" y1="300.44" x2="144.95" y2="300.44" stroke="#9c9c9c" stroke-width="1.6" stroke-linecap="butt"/>
<line x1="140.35" y1="309.13" x2="144.95" y2="309.13" stroke="#9c9c9c" stroke-width="1.6" stroke-linecap="butt"/>
<rect x="141.05" y="303.18" width="3.2" height="3.2" fill="#9c9c9c"/>
<line x1="152.53" y1="294.12" x2="152.53" y2="303.99" stroke="#9c9c9c" stroke-width="1.6" stroke-linecap="butt"/>
<line x1="150.23" y1="294.12" x2="154.83" y2="294.12" stroke="#9c9c9c" stroke-width="1.6" stroke-linecap="butt"/>
<line x1="150.23" y1="303.99" x2="154.83" y2="303.99" stroke="#9c9c9c" stroke-width="1.6" stroke-linecap="butt"/>
<rect x="150.93" y="297.45" width="3.2" height="3.2" fill="#9c9c9c"/>
<line x1="162.42" y1="287.2" x2="162.42" y2="297.48" stroke="#9c9c9c" stroke-width="1.6" stroke-linecap="butt"/>
<line x1="160.12" y1="287.2" x2="164.72" y2="287.2" stroke="#9c9c9c" stroke-width="1.6" stroke-linecap="butt"/>
<line x1="160.12" y1="297.48" x2="164.72" y2="297.48" stroke="#9c9c9c" stroke-width="1.6" stroke-linecap="butt"/>
<rect x="160.82" y="290.74" width="3.2" height="3.2" fill="#9c9c9c"/>
<line x1="172.3" y1="279.9" x2="172.3" y2="290.96" stroke="#9c9c9c" stroke-width="1.6" stroke-linecap="butt"/>
<line x1="170" y1="279.9" x2="174.6" y2="279.9" stroke="#9c9c9c" stroke-width="1.6" stroke-linecap="butt"/>
<line x1="170" y1="290.96" x2="174.6" y2="290.96" stroke="#9c9c9c" stroke-width="1.6" stroke-linecap="butt"/>
<rect x="170.7" y="283.83" width="3.2" height="3.2" fill="#9c9c9c"/>
<line x1="182.18" y1="273.77" x2="182.18" y2="284.05" stroke="#9c9c9c" stroke-width="1.6" stroke-linecap="butt"/>
<line x1="179.88" y1="273.77" x2="184.48" y2="273.77" stroke="#9c9c9c" stroke-width="1.6" stroke-linecap="butt"/>
<line x1="179.88" y1="284.05" x2="184.48" y2="284.05" stroke="#9c9c9c" stroke-width="1.6" stroke-linecap="butt"/>
<rect x="180.58" y="277.31" width="3.2" height="3.2" fill="#9c9c9c"/>
<line x1="192.07" y1="267.26" x2="192.07" y2="277.53" stroke="#9c9c9c" stroke-width="1.6" stroke-linecap="butt"/>
<line x1="189.77" y1="267.26" x2="194.37" y2="267.26" stroke="#9c9c9c" stroke-width="1.6" stroke-linecap="butt"/>
<line x1="189.77" y1="277.53" x2="194.37" y2="277.53" stroke="#9c9c9c" stroke-width="1.6" stroke-linecap="butt"/>
<rect x="190.47" y="270.79" width="3.2" height="3.2" fill="#9c9c9c"/>
<line x1="201.95" y1="258.37" x2="201.95" y2="269.03" stroke="#9c9c9c" stroke-width="1.6" stroke-linecap="butt"/>
<line x1="199.65" y1="258.37" x2="204.25" y2="258.37" stroke="#9c9c9c" stroke-width="1.6" stroke-linecap="butt"/>
<line x1="199.65" y1="269.03" x2="204.25" y2="269.03" stroke="#9c9c9c" stroke-width="1.6" stroke-linecap="butt"/>
<rect x="200.35" y="262.1" width="3.2" height="3.2" fill="#9c9c9c"/>
<line x1="211.83" y1="250.47" x2="211.83" y2="261.53" stroke="#9c9c9c" stroke-width="1.6" stroke-linecap="butt"/>
<line x1="209.53" y1="250.47" x2="214.13" y2="250.47" stroke="#9c9c9c" stroke-width="1.6" stroke-linecap="butt"/>
<line x1="209.53" y1="261.53" x2="214.13" y2="261.53" stroke="#9c9c9c" stroke-width="1.6" stroke-linecap="butt"/>
<rect x="210.23" y="254.4" width="3.2" height="3.2" fill="#9c9c9c"/>
<line x1="221.72" y1="241.58" x2="221.72" y2="252.64" stroke="#9c9c9c" stroke-width="1.6" stroke-linecap="butt"/>
<line x1="219.42" y1="241.58" x2="224.02" y2="241.58" stroke="#9c9c9c" stroke-width="1.6" stroke-linecap="butt"/>
<line x1="219.42" y1="252.64" x2="224.02" y2="252.64" stroke="#9c9c9c" stroke-width="1.6" stroke-linecap="butt"/>
<rect x="220.12" y="245.51" width="3.2" height="3.2" fill="#9c9c9c"/>
<line x1="231.6" y1="234.87" x2="231.6" y2="247.51" stroke="#9c9c9c" stroke-width="1.6" stroke-linecap="butt"/>
<line x1="229.3" y1="234.87" x2="233.9" y2="234.87" stroke="#9c9c9c" stroke-width="1.6" stroke-linecap="butt"/>
<line x1="229.3" y1="247.51" x2="233.9" y2="247.51" stroke="#9c9c9c" stroke-width="1.6" stroke-linecap="butt"/>
<rect x="230" y="239.59" width="3.2" height="3.2" fill="#9c9c9c"/>
<path d="M53.7 323.35 C55.35 324.01 60.29 326.31 63.58 327.3 C66.88 328.29 70.17 328.71 73.47 329.27 C76.76 329.83 80.06 330.33 83.35 330.65 C86.64 330.98 89.94 331.08 93.23 331.25 C96.53 331.41 99.82 331.58 103.12 331.64 C106.41 331.71 109.71 331.61 113 331.64 C116.29 331.68 119.59 331.81 122.88 331.84 C126.18 331.87 129.47 331.84 132.77 331.84 C136.06 331.84 139.36 331.84 142.65 331.84 C145.94 331.84 149.24 331.84 152.53 331.84 C155.83 331.84 159.12 331.87 162.42 331.84 C165.71 331.81 169.01 331.68 172.3 331.64 C175.59 331.61 178.89 331.68 182.18 331.64 C185.48 331.61 188.77 331.48 192.07 331.44 C195.36 331.41 198.66 331.48 201.95 331.44 C205.24 331.41 208.54 331.31 211.83 331.25 C215.13 331.18 218.42 331.12 221.72 331.05 C225.01 330.98 229.95 330.89 231.6 330.85" stroke="#1c1c1c" stroke-width="1.9" fill="none"/>
<path d="M53.7 321.18 L63.58 325.92 L73.47 330.06 L83.35 330.65 L93.23 330.65 L103.12 330.06 L113 325.92 L122.88 323.94 L132.77 321.96 L142.65 319.99 L152.53 317.82 L162.42 315.25 L172.3 312.49 L182.18 309.52 L192.07 305.38 L201.95 302.61 L211.83 299.25 L221.72 294.91 L231.6 290.17" stroke="#1c1c1c" stroke-width="1.6" fill="none" stroke-dasharray="3.4 2.6"/>
<line x1="53.7" y1="318.21" x2="53.7" y2="324.14" stroke="#1c1c1c" stroke-width="1.6" stroke-linecap="butt"/>
<line x1="51.4" y1="318.21" x2="56" y2="318.21" stroke="#1c1c1c" stroke-width="1.6" stroke-linecap="butt"/>
<line x1="51.4" y1="324.14" x2="56" y2="324.14" stroke="#1c1c1c" stroke-width="1.6" stroke-linecap="butt"/>
<rect x="52.1" y="319.57" width="3.2" height="3.2" fill="#1c1c1c"/>
<line x1="63.58" y1="323.55" x2="63.58" y2="328.29" stroke="#1c1c1c" stroke-width="1.6" stroke-linecap="butt"/>
<line x1="61.28" y1="323.55" x2="65.88" y2="323.55" stroke="#1c1c1c" stroke-width="1.6" stroke-linecap="butt"/>
<line x1="61.28" y1="328.29" x2="65.88" y2="328.29" stroke="#1c1c1c" stroke-width="1.6" stroke-linecap="butt"/>
<rect x="61.98" y="324.31" width="3.2" height="3.2" fill="#1c1c1c"/>
<line x1="73.47" y1="329.07" x2="73.47" y2="331.05" stroke="#1c1c1c" stroke-width="1.6" stroke-linecap="butt"/>
<line x1="71.17" y1="329.07" x2="75.77" y2="329.07" stroke="#1c1c1c" stroke-width="1.6" stroke-linecap="butt"/>
<line x1="71.17" y1="331.05" x2="75.77" y2="331.05" stroke="#1c1c1c" stroke-width="1.6" stroke-linecap="butt"/>
<rect x="71.87" y="328.46" width="3.2" height="3.2" fill="#1c1c1c"/>
<line x1="83.35" y1="329.87" x2="83.35" y2="331.44" stroke="#1c1c1c" stroke-width="1.6" stroke-linecap="butt"/>
<line x1="81.05" y1="329.87" x2="85.65" y2="329.87" stroke="#1c1c1c" stroke-width="1.6" stroke-linecap="butt"/>
<line x1="81.05" y1="331.44" x2="85.65" y2="331.44" stroke="#1c1c1c" stroke-width="1.6" stroke-linecap="butt"/>
<rect x="81.75" y="329.05" width="3.2" height="3.2" fill="#1c1c1c"/>
<line x1="93.23" y1="329.87" x2="93.23" y2="331.44" stroke="#1c1c1c" stroke-width="1.6" stroke-linecap="butt"/>
<line x1="90.93" y1="329.87" x2="95.53" y2="329.87" stroke="#1c1c1c" stroke-width="1.6" stroke-linecap="butt"/>
<line x1="90.93" y1="331.44" x2="95.53" y2="331.44" stroke="#1c1c1c" stroke-width="1.6" stroke-linecap="butt"/>
<rect x="91.63" y="329.05" width="3.2" height="3.2" fill="#1c1c1c"/>
<line x1="103.12" y1="329.27" x2="103.12" y2="330.85" stroke="#1c1c1c" stroke-width="1.6" stroke-linecap="butt"/>
<line x1="100.82" y1="329.27" x2="105.42" y2="329.27" stroke="#1c1c1c" stroke-width="1.6" stroke-linecap="butt"/>
<line x1="100.82" y1="330.85" x2="105.42" y2="330.85" stroke="#1c1c1c" stroke-width="1.6" stroke-linecap="butt"/>
<rect x="101.52" y="328.46" width="3.2" height="3.2" fill="#1c1c1c"/>
<line x1="113" y1="324.93" x2="113" y2="326.9" stroke="#1c1c1c" stroke-width="1.6" stroke-linecap="butt"/>
<line x1="110.7" y1="324.93" x2="115.3" y2="324.93" stroke="#1c1c1c" stroke-width="1.6" stroke-linecap="butt"/>
<line x1="110.7" y1="326.9" x2="115.3" y2="326.9" stroke="#1c1c1c" stroke-width="1.6" stroke-linecap="butt"/>
<rect x="111.4" y="324.31" width="3.2" height="3.2" fill="#1c1c1c"/>
<line x1="122.88" y1="322.75" x2="122.88" y2="325.12" stroke="#1c1c1c" stroke-width="1.6" stroke-linecap="butt"/>
<line x1="120.58" y1="322.75" x2="125.18" y2="322.75" stroke="#1c1c1c" stroke-width="1.6" stroke-linecap="butt"/>
<line x1="120.58" y1="325.12" x2="125.18" y2="325.12" stroke="#1c1c1c" stroke-width="1.6" stroke-linecap="butt"/>
<rect x="121.28" y="322.34" width="3.2" height="3.2" fill="#1c1c1c"/>
<line x1="132.77" y1="320.38" x2="132.77" y2="323.55" stroke="#1c1c1c" stroke-width="1.6" stroke-linecap="butt"/>
<line x1="130.47" y1="320.38" x2="135.07" y2="320.38" stroke="#1c1c1c" stroke-width="1.6" stroke-linecap="butt"/>
<line x1="130.47" y1="323.55" x2="135.07" y2="323.55" stroke="#1c1c1c" stroke-width="1.6" stroke-linecap="butt"/>
<rect x="131.17" y="320.36" width="3.2" height="3.2" fill="#1c1c1c"/>
<line x1="142.65" y1="318.01" x2="142.65" y2="321.96" stroke="#1c1c1c" stroke-width="1.6" stroke-linecap="butt"/>
<line x1="140.35" y1="318.01" x2="144.95" y2="318.01" stroke="#1c1c1c" stroke-width="1.6" stroke-linecap="butt"/>
<line x1="140.35" y1="321.96" x2="144.95" y2="321.96" stroke="#1c1c1c" stroke-width="1.6" stroke-linecap="butt"/>
<rect x="141.05" y="318.39" width="3.2" height="3.2" fill="#1c1c1c"/>
<line x1="152.53" y1="315.45" x2="152.53" y2="320.19" stroke="#1c1c1c" stroke-width="1.6" stroke-linecap="butt"/>
<line x1="150.23" y1="315.45" x2="154.83" y2="315.45" stroke="#1c1c1c" stroke-width="1.6" stroke-linecap="butt"/>
<line x1="150.23" y1="320.19" x2="154.83" y2="320.19" stroke="#1c1c1c" stroke-width="1.6" stroke-linecap="butt"/>
<rect x="150.93" y="316.22" width="3.2" height="3.2" fill="#1c1c1c"/>
<line x1="162.42" y1="312.49" x2="162.42" y2="318.01" stroke="#1c1c1c" stroke-width="1.6" stroke-linecap="butt"/>
<line x1="160.12" y1="312.49" x2="164.72" y2="312.49" stroke="#1c1c1c" stroke-width="1.6" stroke-linecap="butt"/>
<line x1="160.12" y1="318.01" x2="164.72" y2="318.01" stroke="#1c1c1c" stroke-width="1.6" stroke-linecap="butt"/>
<rect x="160.82" y="313.65" width="3.2" height="3.2" fill="#1c1c1c"/>
<line x1="172.3" y1="309.52" x2="172.3" y2="315.45" stroke="#1c1c1c" stroke-width="1.6" stroke-linecap="butt"/>
<line x1="170" y1="309.52" x2="174.6" y2="309.52" stroke="#1c1c1c" stroke-width="1.6" stroke-linecap="butt"/>
<line x1="170" y1="315.45" x2="174.6" y2="315.45" stroke="#1c1c1c" stroke-width="1.6" stroke-linecap="butt"/>
<rect x="170.7" y="310.88" width="3.2" height="3.2" fill="#1c1c1c"/>
<line x1="182.18" y1="306.56" x2="182.18" y2="312.49" stroke="#1c1c1c" stroke-width="1.6" stroke-linecap="butt"/>
<line x1="179.88" y1="306.56" x2="184.48" y2="306.56" stroke="#1c1c1c" stroke-width="1.6" stroke-linecap="butt"/>
<line x1="179.88" y1="312.49" x2="184.48" y2="312.49" stroke="#1c1c1c" stroke-width="1.6" stroke-linecap="butt"/>
<rect x="180.58" y="307.92" width="3.2" height="3.2" fill="#1c1c1c"/>
<line x1="192.07" y1="302.41" x2="192.07" y2="308.34" stroke="#1c1c1c" stroke-width="1.6" stroke-linecap="butt"/>
<line x1="189.77" y1="302.41" x2="194.37" y2="302.41" stroke="#1c1c1c" stroke-width="1.6" stroke-linecap="butt"/>
<line x1="189.77" y1="308.34" x2="194.37" y2="308.34" stroke="#1c1c1c" stroke-width="1.6" stroke-linecap="butt"/>
<rect x="190.47" y="303.77" width="3.2" height="3.2" fill="#1c1c1c"/>
<line x1="201.95" y1="299.06" x2="201.95" y2="306.17" stroke="#1c1c1c" stroke-width="1.6" stroke-linecap="butt"/>
<line x1="199.65" y1="299.06" x2="204.25" y2="299.06" stroke="#1c1c1c" stroke-width="1.6" stroke-linecap="butt"/>
<line x1="199.65" y1="306.17" x2="204.25" y2="306.17" stroke="#1c1c1c" stroke-width="1.6" stroke-linecap="butt"/>
<rect x="200.35" y="301.01" width="3.2" height="3.2" fill="#1c1c1c"/>
<line x1="211.83" y1="294.91" x2="211.83" y2="303.6" stroke="#1c1c1c" stroke-width="1.6" stroke-linecap="butt"/>
<line x1="209.53" y1="294.91" x2="214.13" y2="294.91" stroke="#1c1c1c" stroke-width="1.6" stroke-linecap="butt"/>
<line x1="209.53" y1="303.6" x2="214.13" y2="303.6" stroke="#1c1c1c" stroke-width="1.6" stroke-linecap="butt"/>
<rect x="210.23" y="297.65" width="3.2" height="3.2" fill="#1c1c1c"/>
<line x1="221.72" y1="289.97" x2="221.72" y2="299.85" stroke="#1c1c1c" stroke-width="1.6" stroke-linecap="butt"/>
<line x1="219.42" y1="289.97" x2="224.02" y2="289.97" stroke="#1c1c1c" stroke-width="1.6" stroke-linecap="butt"/>
<line x1="219.42" y1="299.85" x2="224.02" y2="299.85" stroke="#1c1c1c" stroke-width="1.6" stroke-linecap="butt"/>
<rect x="220.12" y="293.31" width="3.2" height="3.2" fill="#1c1c1c"/>
<line x1="231.6" y1="283.85" x2="231.6" y2="296.49" stroke="#1c1c1c" stroke-width="1.6" stroke-linecap="butt"/>
<line x1="229.3" y1="283.85" x2="233.9" y2="283.85" stroke="#1c1c1c" stroke-width="1.6" stroke-linecap="butt"/>
<line x1="229.3" y1="296.49" x2="233.9" y2="296.49" stroke="#1c1c1c" stroke-width="1.6" stroke-linecap="butt"/>
<rect x="230" y="288.57" width="3.2" height="3.2" fill="#1c1c1c"/>
<line x1="53.7" y1="215.6" x2="53.7" y2="335.9" stroke="#1c1c1c" stroke-width="1.9" stroke-linecap="butt"/>
<line x1="52.8" y1="335" x2="232.5" y2="335" stroke="#1c1c1c" stroke-width="1.9" stroke-linecap="butt"/>
<line x1="50.1" y1="335" x2="53.7" y2="335" stroke="#1c1c1c" stroke-width="1.7" stroke-linecap="butt"/>
<text x="45.9" y="338.6" font-size="10" font-weight="bold" text-anchor="end" fill="#1c1c1c">0</text>
<line x1="50.1" y1="295.5" x2="53.7" y2="295.5" stroke="#1c1c1c" stroke-width="1.7" stroke-linecap="butt"/>
<text x="45.9" y="299.1" font-size="10" font-weight="bold" text-anchor="end" fill="#1c1c1c">200</text>
<line x1="50.1" y1="256" x2="53.7" y2="256" stroke="#1c1c1c" stroke-width="1.7" stroke-linecap="butt"/>
<text x="45.9" y="259.6" font-size="10" font-weight="bold" text-anchor="end" fill="#1c1c1c">400</text>
<line x1="50.1" y1="216.5" x2="53.7" y2="216.5" stroke="#1c1c1c" stroke-width="1.7" stroke-linecap="butt"/>
<text x="45.9" y="220.1" font-size="10" font-weight="bold" text-anchor="end" fill="#1c1c1c">600</text>
<line x1="53.7" y1="335" x2="53.7" y2="338.6" stroke="#1c1c1c" stroke-width="1.7" stroke-linecap="butt"/>
<text x="53.7" y="350.2" font-size="10" font-weight="bold" text-anchor="middle" fill="#1c1c1c">0</text>
<line x1="113" y1="335" x2="113" y2="338.6" stroke="#1c1c1c" stroke-width="1.7" stroke-linecap="butt"/>
<text x="113" y="350.2" font-size="10" font-weight="bold" text-anchor="middle" fill="#1c1c1c">6</text>
<line x1="172.3" y1="335" x2="172.3" y2="338.6" stroke="#1c1c1c" stroke-width="1.7" stroke-linecap="butt"/>
<text x="172.3" y="350.2" font-size="10" font-weight="bold" text-anchor="middle" fill="#1c1c1c">12</text>
<line x1="231.6" y1="335" x2="231.6" y2="338.6" stroke="#1c1c1c" stroke-width="1.7" stroke-linecap="butt"/>
<text x="231.6" y="350.2" font-size="10" font-weight="bold" text-anchor="middle" fill="#1c1c1c">18</text>
<text x="142.65" y="364.8" font-size="10" font-weight="bold" text-anchor="middle" fill="#1c1c1c">Time (h)</text>
<text x="9" y="275.75" font-size="10" font-weight="bold" text-anchor="middle" fill="#1c1c1c" transform="rotate(-90 9 275.75)">PC-3M</text>
<text x="21.1" y="275.75" font-size="10" font-weight="bold" text-anchor="middle" fill="#1c1c1c" transform="rotate(-90 21.1 275.75)">Annexin V count</text>
<line x1="61" y1="227.2" x2="73.5" y2="227.2" stroke="#1c1c1c" stroke-width="1.9" stroke-linecap="butt"/>
<text x="78.3" y="230.1" font-size="10.05" fill="#2a2a2a">scRNA</text>
<line x1="61" y1="240.85" x2="73.5" y2="240.85" stroke="#9c9c9c" stroke-width="1.9" stroke-linecap="butt"/>
<text x="78.3" y="243.75" font-size="10.05" fill="#2a2a2a">cFLIPsi</text>
<line x1="61" y1="254.5" x2="73.5" y2="254.5" stroke="#1c1c1c" stroke-width="1.9" stroke-dasharray="2.8 2.05" stroke-linecap="butt"/>
<text x="78.3" y="257.4" font-size="10.05" fill="#2a2a2a">scRNA + TRAIL</text>
<line x1="61" y1="268.15" x2="73.5" y2="268.15" stroke="#9c9c9c" stroke-width="1.9" stroke-dasharray="2.8 2.05" stroke-linecap="butt"/>
<text x="78.3" y="271.05" font-size="10.05" fill="#2a2a2a">cFLIPsi + TRAIL</text>
<path d="M234.9 238.6 H239.5 V286 H234.9" stroke="#1c1c1c" stroke-width="2.4" fill="none"/>
<path d="M247.05 255.7 L252.95 255.7 M248.53 253.15 L251.47 258.25 M251.47 253.15 L248.53 258.25 " stroke="#1c1c1c" stroke-width="1.5" fill="none"/>
<path d="M247.05 262.8 L252.95 262.8 M248.53 260.25 L251.47 265.35 M251.47 260.25 L248.53 265.35 " stroke="#1c1c1c" stroke-width="1.5" fill="none"/>
<path d="M247.05 269.9 L252.95 269.9 M248.53 267.35 L251.47 272.45 M251.47 267.35 L248.53 272.45 " stroke="#1c1c1c" stroke-width="1.5" fill="none"/>
<path d="M234.9 288.9 H239.5 V318.3 H234.9" stroke="#1c1c1c" stroke-width="2.4" fill="none"/>
<path d="M247.05 296.5 L252.95 296.5 M248.53 293.95 L251.47 299.05 M251.47 293.95 L248.53 299.05 " stroke="#1c1c1c" stroke-width="1.5" fill="none"/>
<path d="M247.05 303.6 L252.95 303.6 M248.53 301.05 L251.47 306.15 M251.47 301.05 L248.53 306.15 " stroke="#1c1c1c" stroke-width="1.5" fill="none"/>
<path d="M247.05 310.7 L252.95 310.7 M248.53 308.15 L251.47 313.25 M251.47 308.15 L248.53 313.25 " stroke="#1c1c1c" stroke-width="1.5" fill="none"/>
<path d="M234.9 319.8 H239.5 V331 H234.9" stroke="#1c1c1c" stroke-width="2.4" fill="none"/>
<path d="M247.05 325.5 L252.95 325.5 M248.53 322.95 L251.47 328.05 M251.47 322.95 L248.53 328.05 " stroke="#1c1c1c" stroke-width="1.5" fill="none"/>
<path d="M258.5 288.8 H263.4 V331 H258.5" stroke="#1c1c1c" stroke-width="2.4" fill="none"/>
<path d="M270.05 303.5 L275.95 303.5 M271.52 300.95 L274.48 306.05 M274.48 300.95 L271.52 306.05 " stroke="#1c1c1c" stroke-width="1.5" fill="none"/>
<path d="M270.05 310.6 L275.95 310.6 M271.52 308.05 L274.48 313.15 M274.48 308.05 L271.52 313.15 " stroke="#1c1c1c" stroke-width="1.5" fill="none"/>
<path d="M270.05 317.7 L275.95 317.7 M271.52 315.15 L274.48 320.25 M274.48 315.15 L271.52 320.25 " stroke="#1c1c1c" stroke-width="1.5" fill="none"/>
<path d="M281.2 238.6 H286.2 V318.3 H281.2" stroke="#1c1c1c" stroke-width="2.4" fill="none"/>
<path d="M293.05 271.3 L298.95 271.3 M294.52 268.75 L297.48 273.85 M297.48 268.75 L294.52 273.85 " stroke="#1c1c1c" stroke-width="1.5" fill="none"/>
<path d="M293.05 278.4 L298.95 278.4 M294.52 275.85 L297.48 280.95 M297.48 275.85 L294.52 280.95 " stroke="#1c1c1c" stroke-width="1.5" fill="none"/>
<path d="M293.05 285.5 L298.95 285.5 M294.52 282.95 L297.48 288.05 M297.48 282.95 L294.52 288.05 " stroke="#1c1c1c" stroke-width="1.5" fill="none"/>
<path d="M299.3 238 H304.7 V331 H299.3" stroke="#1c1c1c" stroke-width="2.4" fill="none"/>
<path d="M311.15 277.9 L317.05 277.9 M312.62 275.35 L315.58 280.45 M315.58 275.35 L312.62 280.45 " stroke="#1c1c1c" stroke-width="1.5" fill="none"/>
<path d="M311.15 285 L317.05 285 M312.62 282.45 L315.58 287.55 M315.58 282.45 L312.62 287.55 " stroke="#1c1c1c" stroke-width="1.5" fill="none"/>
<path d="M311.15 292.1 L317.05 292.1 M312.62 289.55 L315.58 294.65 M315.58 289.55 L312.62 294.65 " stroke="#1c1c1c" stroke-width="1.5" fill="none"/>
<rect x="448.8" y="347.03" width="11.2" height="2.47" fill="#7d7d7d" stroke="#1c1c1c" stroke-width="2.1"/>
<rect x="467" y="345.52" width="11.2" height="3.98" fill="#7d7d7d" stroke="#1c1c1c" stroke-width="2.1"/>
<rect x="485.3" y="306.29" width="11.2" height="43.21" fill="#7d7d7d" stroke="#1c1c1c" stroke-width="2.1"/>
<rect x="503.7" y="271.08" width="11.2" height="78.42" fill="#7d7d7d" stroke="#1c1c1c" stroke-width="2.1"/>
<rect x="521.9" y="347.53" width="11.2" height="1.97" fill="#7d7d7d" stroke="#1c1c1c" stroke-width="2.1"/>
<rect x="540.1" y="346.53" width="11.2" height="2.97" fill="#7d7d7d" stroke="#1c1c1c" stroke-width="2.1"/>
<rect x="558.3" y="347.03" width="11.2" height="2.47" fill="#7d7d7d" stroke="#1c1c1c" stroke-width="2.1"/>
<rect x="576.4" y="346.53" width="11.2" height="2.97" fill="#7d7d7d" stroke="#1c1c1c" stroke-width="2.1"/>
<circle cx="451.4" cy="345.98" r="2.1" fill="#1c1c1c"/>
<circle cx="454.4" cy="345.48" r="2.1" fill="#1c1c1c"/>
<circle cx="457.4" cy="345.98" r="2.1" fill="#1c1c1c"/>
<circle cx="469.6" cy="343.97" r="2.1" fill="#1c1c1c"/>
<circle cx="472.6" cy="343.46" r="2.1" fill="#1c1c1c"/>
<circle cx="475.6" cy="344.47" r="2.1" fill="#1c1c1c"/>
<line x1="490.9" y1="297.69" x2="490.9" y2="312.78" stroke="#1c1c1c" stroke-width="1.3" stroke-linecap="butt"/>
<line x1="488.4" y1="297.69" x2="493.4" y2="297.69" stroke="#1c1c1c" stroke-width="1.3" stroke-linecap="butt"/>
<line x1="488.4" y1="312.78" x2="493.4" y2="312.78" stroke="#1c1c1c" stroke-width="1.3" stroke-linecap="butt"/>
<circle cx="490.9" cy="295.68" r="2.1" fill="#1c1c1c"/>
<circle cx="490.9" cy="302.72" r="2.1" fill="#1c1c1c"/>
<circle cx="490.9" cy="318.31" r="2.1" fill="#1c1c1c"/>
<line x1="509.3" y1="262.48" x2="509.3" y2="277.57" stroke="#1c1c1c" stroke-width="1.3" stroke-linecap="butt"/>
<line x1="506.8" y1="262.48" x2="511.8" y2="262.48" stroke="#1c1c1c" stroke-width="1.3" stroke-linecap="butt"/>
<line x1="506.8" y1="277.57" x2="511.8" y2="277.57" stroke="#1c1c1c" stroke-width="1.3" stroke-linecap="butt"/>
<circle cx="509.3" cy="259.97" r="2.1" fill="#1c1c1c"/>
<circle cx="509.3" cy="266.5" r="2.1" fill="#1c1c1c"/>
<circle cx="509.3" cy="284.61" r="2.1" fill="#1c1c1c"/>
<circle cx="524.5" cy="346.48" r="2.1" fill="#1c1c1c"/>
<circle cx="527.5" cy="345.98" r="2.1" fill="#1c1c1c"/>
<circle cx="530.5" cy="346.48" r="2.1" fill="#1c1c1c"/>
<circle cx="542.7" cy="345.48" r="2.1" fill="#1c1c1c"/>
<circle cx="545.7" cy="344.97" r="2.1" fill="#1c1c1c"/>
<circle cx="548.7" cy="345.48" r="2.1" fill="#1c1c1c"/>
<circle cx="560.9" cy="345.98" r="2.1" fill="#1c1c1c"/>
<circle cx="563.9" cy="345.48" r="2.1" fill="#1c1c1c"/>
<circle cx="566.9" cy="345.98" r="2.1" fill="#1c1c1c"/>
<circle cx="579" cy="345.48" r="2.1" fill="#1c1c1c"/>
<circle cx="582" cy="344.97" r="2.1" fill="#1c1c1c"/>
<circle cx="585" cy="345.48" r="2.1" fill="#1c1c1c"/>
<line x1="442.9" y1="248" x2="442.9" y2="350.4" stroke="#1c1c1c" stroke-width="1.9" stroke-linecap="butt"/>
<line x1="442" y1="349.5" x2="595" y2="349.5" stroke="#1c1c1c" stroke-width="1.9" stroke-linecap="butt"/>
<line x1="438.7" y1="349.5" x2="442.9" y2="349.5" stroke="#1c1c1c" stroke-width="1.7" stroke-linecap="butt"/>
<text x="434.5" y="352.9" font-size="9.9" text-anchor="end" fill="#1c1c1c">0</text>
<line x1="438.7" y1="324.35" x2="442.9" y2="324.35" stroke="#1c1c1c" stroke-width="1.7" stroke-linecap="butt"/>
<text x="434.5" y="327.75" font-size="9.9" text-anchor="end" fill="#1c1c1c">50</text>
<line x1="438.7" y1="299.2" x2="442.9" y2="299.2" stroke="#1c1c1c" stroke-width="1.7" stroke-linecap="butt"/>
<text x="434.5" y="302.6" font-size="9.9" text-anchor="end" fill="#1c1c1c">100</text>
<line x1="438.7" y1="274.05" x2="442.9" y2="274.05" stroke="#1c1c1c" stroke-width="1.7" stroke-linecap="butt"/>
<text x="434.5" y="277.45" font-size="9.9" text-anchor="end" fill="#1c1c1c">150</text>
<line x1="438.7" y1="248.9" x2="442.9" y2="248.9" stroke="#1c1c1c" stroke-width="1.7" stroke-linecap="butt"/>
<text x="434.5" y="252.3" font-size="9.9" text-anchor="end" fill="#1c1c1c">200</text>
<line x1="454.4" y1="349.5" x2="454.4" y2="353.3" stroke="#1c1c1c" stroke-width="1.7" stroke-linecap="butt"/>
<line x1="472.6" y1="349.5" x2="472.6" y2="353.3" stroke="#1c1c1c" stroke-width="1.7" stroke-linecap="butt"/>
<line x1="490.9" y1="349.5" x2="490.9" y2="353.3" stroke="#1c1c1c" stroke-width="1.7" stroke-linecap="butt"/>
<line x1="509.3" y1="349.5" x2="509.3" y2="353.3" stroke="#1c1c1c" stroke-width="1.7" stroke-linecap="butt"/>
<line x1="527.5" y1="349.5" x2="527.5" y2="353.3" stroke="#1c1c1c" stroke-width="1.7" stroke-linecap="butt"/>
<line x1="545.7" y1="349.5" x2="545.7" y2="353.3" stroke="#1c1c1c" stroke-width="1.7" stroke-linecap="butt"/>
<line x1="563.9" y1="349.5" x2="563.9" y2="353.3" stroke="#1c1c1c" stroke-width="1.7" stroke-linecap="butt"/>
<line x1="582" y1="349.5" x2="582" y2="353.3" stroke="#1c1c1c" stroke-width="1.7" stroke-linecap="butt"/>
<text x="396.5" y="299.7" font-size="10" font-weight="bold" text-anchor="middle" fill="#1c1c1c" transform="rotate(-90 396.5 299.7)">PC-3M</text>
<text x="408.6" y="299.7" font-size="10" font-weight="bold" text-anchor="middle" fill="#1c1c1c" transform="rotate(-90 408.6 299.7)">Annexin V count</text>
<path d="M490.7 197.7 V191.8 H563.8 V197.7" stroke="#1c1c1c" stroke-width="2" fill="none"/>
<path d="M521.1 183 L521.1 188.2 M518.85 184.3 L523.35 186.9 M518.85 186.9 L523.35 184.3 " stroke="#1c1c1c" stroke-width="1.45" fill="none"/>
<path d="M527.1 183 L527.1 188.2 M524.85 184.3 L529.35 186.9 M524.85 186.9 L529.35 184.3 " stroke="#1c1c1c" stroke-width="1.45" fill="none"/>
<path d="M533.1 183 L533.1 188.2 M530.85 184.3 L535.35 186.9 M530.85 186.9 L535.35 184.3 " stroke="#1c1c1c" stroke-width="1.45" fill="none"/>
<path d="M490.7 216.3 V210.7 H527.6 V216.3" stroke="#1c1c1c" stroke-width="2" fill="none"/>
<path d="M503.4 201.8 L503.4 207 M501.15 203.1 L505.65 205.7 M501.15 205.7 L505.65 203.1 " stroke="#1c1c1c" stroke-width="1.45" fill="none"/>
<path d="M509.4 201.8 L509.4 207 M507.15 203.1 L511.65 205.7 M507.15 205.7 L511.65 203.1 " stroke="#1c1c1c" stroke-width="1.45" fill="none"/>
<path d="M515.4 201.8 L515.4 207 M513.15 203.1 L517.65 205.7 M513.15 205.7 L517.65 203.1 " stroke="#1c1c1c" stroke-width="1.45" fill="none"/>
<path d="M472.7 236.2 V230.6 H507.3 V236.2" stroke="#1c1c1c" stroke-width="2" fill="none"/>
<path d="M483.8 221.6 L483.8 226.8 M481.55 222.9 L486.05 225.5 M481.55 225.5 L486.05 222.9 " stroke="#1c1c1c" stroke-width="1.45" fill="none"/>
<path d="M489.8 221.6 L489.8 226.8 M487.55 222.9 L492.05 225.5 M487.55 225.5 L492.05 222.9 " stroke="#1c1c1c" stroke-width="1.45" fill="none"/>
<path d="M495.8 221.6 L495.8 226.8 M493.55 222.9 L498.05 225.5 M493.55 225.5 L498.05 222.9 " stroke="#1c1c1c" stroke-width="1.45" fill="none"/>
<path d="M510.8 236.2 V230.6 H581.8 V236.2" stroke="#1c1c1c" stroke-width="2" fill="none"/>
<path d="M540.3 221.6 L540.3 226.8 M538.05 222.9 L542.55 225.5 M538.05 225.5 L542.55 222.9 " stroke="#1c1c1c" stroke-width="1.45" fill="none"/>
<path d="M546.3 221.6 L546.3 226.8 M544.05 222.9 L548.55 225.5 M544.05 225.5 L548.55 222.9 " stroke="#1c1c1c" stroke-width="1.45" fill="none"/>
<path d="M552.3 221.6 L552.3 226.8 M550.05 222.9 L554.55 225.5 M550.05 225.5 L554.55 222.9 " stroke="#1c1c1c" stroke-width="1.45" fill="none"/>
<path d="M454.5 255.5 V249.7 H489.5 V255.5" stroke="#1c1c1c" stroke-width="2" fill="none"/>
<path d="M466 240.8 L466 246 M463.75 242.1 L468.25 244.7 M463.75 244.7 L468.25 242.1 " stroke="#1c1c1c" stroke-width="1.45" fill="none"/>
<path d="M472 240.8 L472 246 M469.75 242.1 L474.25 244.7 M469.75 244.7 L474.25 242.1 " stroke="#1c1c1c" stroke-width="1.45" fill="none"/>
<path d="M478 240.8 L478 246 M475.75 242.1 L480.25 244.7 M475.75 244.7 L480.25 242.1 " stroke="#1c1c1c" stroke-width="1.45" fill="none"/>
<path d="M492.8 255.5 V249.7 H507.3 V255.5" stroke="#1c1c1c" stroke-width="2" fill="none"/>
<path d="M494 240.8 L494 246 M491.75 242.1 L496.25 244.7 M491.75 244.7 L496.25 242.1 " stroke="#1c1c1c" stroke-width="1.45" fill="none"/>
<path d="M500 240.8 L500 246 M497.75 242.1 L502.25 244.7 M497.75 244.7 L502.25 242.1 " stroke="#1c1c1c" stroke-width="1.45" fill="none"/>
<path d="M506 240.8 L506 246 M503.75 242.1 L508.25 244.7 M503.75 244.7 L508.25 242.1 " stroke="#1c1c1c" stroke-width="1.45" fill="none"/>
<path d="M510.8 255.5 V249.7 H545.6 V255.5" stroke="#1c1c1c" stroke-width="2" fill="none"/>
<path d="M522.3 240.8 L522.3 246 M520.05 242.1 L524.55 244.7 M520.05 244.7 L524.55 242.1 " stroke="#1c1c1c" stroke-width="1.45" fill="none"/>
<path d="M528.3 240.8 L528.3 246 M526.05 242.1 L530.55 244.7 M526.05 244.7 L530.55 242.1 " stroke="#1c1c1c" stroke-width="1.45" fill="none"/>
<path d="M534.3 240.8 L534.3 246 M532.05 242.1 L536.55 244.7 M532.05 244.7 L536.55 242.1 " stroke="#1c1c1c" stroke-width="1.45" fill="none"/>
<text x="387" y="365.05" font-size="10.2" font-weight="bold" fill="#1c1c1c">DMSO</text>
<line x1="451.7" y1="361.4" x2="457.3" y2="361.4" stroke="#1c1c1c" stroke-width="1.35" stroke-linecap="butt"/>
<line x1="454.5" y1="358.6" x2="454.5" y2="364.2" stroke="#1c1c1c" stroke-width="1.35" stroke-linecap="butt"/>
<line x1="470.3" y1="361.7" x2="475.9" y2="361.7" stroke="#1c1c1c" stroke-width="1.1" stroke-linecap="butt"/>
<line x1="488.6" y1="361.4" x2="494.2" y2="361.4" stroke="#1c1c1c" stroke-width="1.35" stroke-linecap="butt"/>
<line x1="491.4" y1="358.6" x2="491.4" y2="364.2" stroke="#1c1c1c" stroke-width="1.35" stroke-linecap="butt"/>
<line x1="506.9" y1="361.7" x2="512.5" y2="361.7" stroke="#1c1c1c" stroke-width="1.1" stroke-linecap="butt"/>
<line x1="524.9" y1="361.4" x2="530.5" y2="361.4" stroke="#1c1c1c" stroke-width="1.35" stroke-linecap="butt"/>
<line x1="527.7" y1="358.6" x2="527.7" y2="364.2" stroke="#1c1c1c" stroke-width="1.35" stroke-linecap="butt"/>
<line x1="543.2" y1="361.7" x2="548.8" y2="361.7" stroke="#1c1c1c" stroke-width="1.1" stroke-linecap="butt"/>
<line x1="561.2" y1="361.4" x2="566.8" y2="361.4" stroke="#1c1c1c" stroke-width="1.35" stroke-linecap="butt"/>
<line x1="564" y1="358.6" x2="564" y2="364.2" stroke="#1c1c1c" stroke-width="1.35" stroke-linecap="butt"/>
<line x1="578.9" y1="361.7" x2="584.5" y2="361.7" stroke="#1c1c1c" stroke-width="1.1" stroke-linecap="butt"/>
<text x="387" y="377.95" font-size="10.2" font-weight="bold" fill="#1c1c1c">OH14</text>
<line x1="451.7" y1="374.6" x2="457.3" y2="374.6" stroke="#1c1c1c" stroke-width="1.1" stroke-linecap="butt"/>
<line x1="470.3" y1="374.3" x2="475.9" y2="374.3" stroke="#1c1c1c" stroke-width="1.35" stroke-linecap="butt"/>
<line x1="473.1" y1="371.5" x2="473.1" y2="377.1" stroke="#1c1c1c" stroke-width="1.35" stroke-linecap="butt"/>
<line x1="488.6" y1="374.6" x2="494.2" y2="374.6" stroke="#1c1c1c" stroke-width="1.1" stroke-linecap="butt"/>
<line x1="506.9" y1="374.3" x2="512.5" y2="374.3" stroke="#1c1c1c" stroke-width="1.35" stroke-linecap="butt"/>
<line x1="509.7" y1="371.5" x2="509.7" y2="377.1" stroke="#1c1c1c" stroke-width="1.35" stroke-linecap="butt"/>
<line x1="524.9" y1="374.6" x2="530.5" y2="374.6" stroke="#1c1c1c" stroke-width="1.1" stroke-linecap="butt"/>
<line x1="543.2" y1="374.3" x2="548.8" y2="374.3" stroke="#1c1c1c" stroke-width="1.35" stroke-linecap="butt"/>
<line x1="546" y1="371.5" x2="546" y2="377.1" stroke="#1c1c1c" stroke-width="1.35" stroke-linecap="butt"/>
<line x1="561.2" y1="374.6" x2="566.8" y2="374.6" stroke="#1c1c1c" stroke-width="1.1" stroke-linecap="butt"/>
<line x1="578.9" y1="374.3" x2="584.5" y2="374.3" stroke="#1c1c1c" stroke-width="1.35" stroke-linecap="butt"/>
<line x1="581.7" y1="371.5" x2="581.7" y2="377.1" stroke="#1c1c1c" stroke-width="1.35" stroke-linecap="butt"/>
<text x="387" y="390.85" font-size="10.2" font-weight="bold" fill="#1c1c1c">TRAIL</text>
<line x1="451.7" y1="387.5" x2="457.3" y2="387.5" stroke="#1c1c1c" stroke-width="1.1" stroke-linecap="butt"/>
<line x1="470.3" y1="387.5" x2="475.9" y2="387.5" stroke="#1c1c1c" stroke-width="1.1" stroke-linecap="butt"/>
<line x1="488.6" y1="387.2" x2="494.2" y2="387.2" stroke="#1c1c1c" stroke-width="1.35" stroke-linecap="butt"/>
<line x1="491.4" y1="384.4" x2="491.4" y2="390" stroke="#1c1c1c" stroke-width="1.35" stroke-linecap="butt"/>
<line x1="506.9" y1="387.2" x2="512.5" y2="387.2" stroke="#1c1c1c" stroke-width="1.35" stroke-linecap="butt"/>
<line x1="509.7" y1="384.4" x2="509.7" y2="390" stroke="#1c1c1c" stroke-width="1.35" stroke-linecap="butt"/>
<line x1="524.9" y1="387.5" x2="530.5" y2="387.5" stroke="#1c1c1c" stroke-width="1.1" stroke-linecap="butt"/>
<line x1="543.2" y1="387.5" x2="548.8" y2="387.5" stroke="#1c1c1c" stroke-width="1.1" stroke-linecap="butt"/>
<line x1="561.2" y1="387.2" x2="566.8" y2="387.2" stroke="#1c1c1c" stroke-width="1.35" stroke-linecap="butt"/>
<line x1="564" y1="384.4" x2="564" y2="390" stroke="#1c1c1c" stroke-width="1.35" stroke-linecap="butt"/>
<line x1="578.9" y1="387.2" x2="584.5" y2="387.2" stroke="#1c1c1c" stroke-width="1.35" stroke-linecap="butt"/>
<line x1="581.7" y1="384.4" x2="581.7" y2="390" stroke="#1c1c1c" stroke-width="1.35" stroke-linecap="butt"/>
<text x="387" y="403.75" font-size="10.2" font-weight="bold" fill="#1c1c1c">Z-VAD-FMK</text>
<line x1="451.7" y1="400.4" x2="457.3" y2="400.4" stroke="#1c1c1c" stroke-width="1.1" stroke-linecap="butt"/>
<line x1="470.3" y1="400.4" x2="475.9" y2="400.4" stroke="#1c1c1c" stroke-width="1.1" stroke-linecap="butt"/>
<line x1="488.6" y1="400.4" x2="494.2" y2="400.4" stroke="#1c1c1c" stroke-width="1.1" stroke-linecap="butt"/>
<line x1="506.9" y1="400.4" x2="512.5" y2="400.4" stroke="#1c1c1c" stroke-width="1.1" stroke-linecap="butt"/>
<line x1="524.9" y1="400.1" x2="530.5" y2="400.1" stroke="#1c1c1c" stroke-width="1.35" stroke-linecap="butt"/>
<line x1="527.7" y1="397.3" x2="527.7" y2="402.9" stroke="#1c1c1c" stroke-width="1.35" stroke-linecap="butt"/>
<line x1="543.2" y1="400.1" x2="548.8" y2="400.1" stroke="#1c1c1c" stroke-width="1.35" stroke-linecap="butt"/>
<line x1="546" y1="397.3" x2="546" y2="402.9" stroke="#1c1c1c" stroke-width="1.35" stroke-linecap="butt"/>
<line x1="561.2" y1="400.1" x2="566.8" y2="400.1" stroke="#1c1c1c" stroke-width="1.35" stroke-linecap="butt"/>
<line x1="564" y1="397.3" x2="564" y2="402.9" stroke="#1c1c1c" stroke-width="1.35" stroke-linecap="butt"/>
<line x1="578.9" y1="400.1" x2="584.5" y2="400.1" stroke="#1c1c1c" stroke-width="1.35" stroke-linecap="butt"/>
<line x1="581.7" y1="397.3" x2="581.7" y2="402.9" stroke="#1c1c1c" stroke-width="1.35" stroke-linecap="butt"/>
<rect x="62.55" y="509.38" width="13.5" height="49.22" fill="#7d7d7d" stroke="#1c1c1c" stroke-width="2.1"/>
<rect x="85.45" y="526.41" width="13.5" height="32.19" fill="#7d7d7d" stroke="#1c1c1c" stroke-width="2.1"/>
<rect x="107.95" y="517.49" width="13.5" height="41.11" fill="#7d7d7d" stroke="#1c1c1c" stroke-width="2.1"/>
<rect x="130.25" y="541" width="13.5" height="17.6" fill="#7d7d7d" stroke="#1c1c1c" stroke-width="2.1"/>
<line x1="69.3" y1="504.27" x2="69.3" y2="512.38" stroke="#1c1c1c" stroke-width="1.3" stroke-linecap="butt"/>
<line x1="66.3" y1="504.27" x2="72.3" y2="504.27" stroke="#1c1c1c" stroke-width="1.3" stroke-linecap="butt"/>
<line x1="66.3" y1="512.38" x2="72.3" y2="512.38" stroke="#1c1c1c" stroke-width="1.3" stroke-linecap="butt"/>
<circle cx="69.3" cy="500.22" r="2.1" fill="#1c1c1c"/>
<circle cx="69.3" cy="508.33" r="2.1" fill="#1c1c1c"/>
<circle cx="69.3" cy="513.19" r="2.1" fill="#1c1c1c"/>
<line x1="92.2" y1="517.25" x2="92.2" y2="533.46" stroke="#1c1c1c" stroke-width="1.3" stroke-linecap="butt"/>
<line x1="89.2" y1="517.25" x2="95.2" y2="517.25" stroke="#1c1c1c" stroke-width="1.3" stroke-linecap="butt"/>
<line x1="89.2" y1="533.46" x2="95.2" y2="533.46" stroke="#1c1c1c" stroke-width="1.3" stroke-linecap="butt"/>
<circle cx="92.2" cy="511.57" r="2.1" fill="#1c1c1c"/>
<circle cx="92.2" cy="526.17" r="2.1" fill="#1c1c1c"/>
<circle cx="92.2" cy="539.14" r="2.1" fill="#1c1c1c"/>
<line x1="114.7" y1="511.57" x2="114.7" y2="520.49" stroke="#1c1c1c" stroke-width="1.3" stroke-linecap="butt"/>
<line x1="111.7" y1="511.57" x2="117.7" y2="511.57" stroke="#1c1c1c" stroke-width="1.3" stroke-linecap="butt"/>
<line x1="111.7" y1="520.49" x2="117.7" y2="520.49" stroke="#1c1c1c" stroke-width="1.3" stroke-linecap="butt"/>
<circle cx="114.7" cy="506.71" r="2.1" fill="#1c1c1c"/>
<circle cx="114.7" cy="516.44" r="2.1" fill="#1c1c1c"/>
<circle cx="114.7" cy="518.87" r="2.1" fill="#1c1c1c"/>
<line x1="137" y1="531.84" x2="137" y2="548.06" stroke="#1c1c1c" stroke-width="1.3" stroke-linecap="butt"/>
<line x1="134" y1="531.84" x2="140" y2="531.84" stroke="#1c1c1c" stroke-width="1.3" stroke-linecap="butt"/>
<line x1="134" y1="548.06" x2="140" y2="548.06" stroke="#1c1c1c" stroke-width="1.3" stroke-linecap="butt"/>
<circle cx="137" cy="523.73" r="2.1" fill="#1c1c1c"/>
<circle cx="137" cy="548.06" r="2.1" fill="#1c1c1c"/>
<circle cx="137" cy="550.49" r="2.1" fill="#1c1c1c"/>
<line x1="54.2" y1="460.4" x2="54.2" y2="559.5" stroke="#1c1c1c" stroke-width="1.9" stroke-linecap="butt"/>
<line x1="53.3" y1="558.6" x2="151.8" y2="558.6" stroke="#1c1c1c" stroke-width="1.9" stroke-linecap="butt"/>
<line x1="50" y1="558.6" x2="54.2" y2="558.6" stroke="#1c1c1c" stroke-width="1.7" stroke-linecap="butt"/>
<text x="46" y="561.8" font-size="10" text-anchor="end" fill="#1c1c1c">0</text>
<line x1="50" y1="526.17" x2="54.2" y2="526.17" stroke="#1c1c1c" stroke-width="1.7" stroke-linecap="butt"/>
<text x="46" y="529.37" font-size="10" text-anchor="end" fill="#1c1c1c">40</text>
<line x1="50" y1="493.73" x2="54.2" y2="493.73" stroke="#1c1c1c" stroke-width="1.7" stroke-linecap="butt"/>
<text x="46" y="496.93" font-size="10" text-anchor="end" fill="#1c1c1c">80</text>
<line x1="50" y1="461.3" x2="54.2" y2="461.3" stroke="#1c1c1c" stroke-width="1.7" stroke-linecap="butt"/>
<text x="46" y="464.5" font-size="10" text-anchor="end" fill="#1c1c1c">120</text>
<line x1="69.3" y1="558.6" x2="69.3" y2="562.4" stroke="#1c1c1c" stroke-width="1.7" stroke-linecap="butt"/>
<text x="70.9" y="571.6" font-size="10" font-weight="bold" text-anchor="end" fill="#1c1c1c" transform="rotate(-45 70.9 571.6)">DMSO</text>
<line x1="92.2" y1="558.6" x2="92.2" y2="562.4" stroke="#1c1c1c" stroke-width="1.7" stroke-linecap="butt"/>
<text x="95.6" y="571.6" font-size="10" font-weight="bold" text-anchor="end" fill="#1c1c1c" transform="rotate(-45 95.6 571.6)">OH14</text>
<line x1="114.7" y1="558.6" x2="114.7" y2="562.4" stroke="#1c1c1c" stroke-width="1.7" stroke-linecap="butt"/>
<text x="118.2" y="571.6" font-size="10" font-weight="bold" text-anchor="end" fill="#1c1c1c" transform="rotate(-45 118.2 571.6)">DMSO + TRAIL</text>
<line x1="137" y1="558.6" x2="137" y2="562.4" stroke="#1c1c1c" stroke-width="1.7" stroke-linecap="butt"/>
<text x="141" y="571.6" font-size="10" font-weight="bold" text-anchor="end" fill="#1c1c1c" transform="rotate(-45 141 571.6)">OH14 + TRAIL</text>
<text x="9" y="510" font-size="10" font-weight="bold" text-anchor="middle" fill="#1c1c1c" transform="rotate(-90 9 510)">LNCaP</text>
<text x="21" y="509" font-size="10" font-weight="bold" text-anchor="middle" fill="#1c1c1c" transform="rotate(-90 21 509)">Colony forming efficiency</text>
<path d="M68.4 494.4 V489 H137.4 V494.4" stroke="#1c1c1c" stroke-width="2" fill="none"/>
<path d="M103 480.4 L103 485.6 M100.75 481.7 L105.25 484.3 M100.75 484.3 L105.25 481.7 " stroke="#1c1c1c" stroke-width="1.35" fill="none"/>
<rect x="232.25" y="486.68" width="13.5" height="71.93" fill="#7d7d7d" stroke="#1c1c1c" stroke-width="2.1"/>
<rect x="254.55" y="487.49" width="13.5" height="71.11" fill="#7d7d7d" stroke="#1c1c1c" stroke-width="2.1"/>
<rect x="277.35" y="511.81" width="13.5" height="46.79" fill="#7d7d7d" stroke="#1c1c1c" stroke-width="2.1"/>
<rect x="299.75" y="533.7" width="13.5" height="24.9" fill="#7d7d7d" stroke="#1c1c1c" stroke-width="2.1"/>
<line x1="239" y1="480.76" x2="239" y2="490.49" stroke="#1c1c1c" stroke-width="1.3" stroke-linecap="butt"/>
<line x1="236" y1="480.76" x2="242" y2="480.76" stroke="#1c1c1c" stroke-width="1.3" stroke-linecap="butt"/>
<line x1="236" y1="490.49" x2="242" y2="490.49" stroke="#1c1c1c" stroke-width="1.3" stroke-linecap="butt"/>
<circle cx="239" cy="475.08" r="2.1" fill="#1c1c1c"/>
<circle cx="239" cy="485.62" r="2.1" fill="#1c1c1c"/>
<circle cx="239" cy="492.92" r="2.1" fill="#1c1c1c"/>
<line x1="261.3" y1="476.71" x2="261.3" y2="496.17" stroke="#1c1c1c" stroke-width="1.3" stroke-linecap="butt"/>
<line x1="258.3" y1="476.71" x2="264.3" y2="476.71" stroke="#1c1c1c" stroke-width="1.3" stroke-linecap="butt"/>
<line x1="258.3" y1="496.17" x2="264.3" y2="496.17" stroke="#1c1c1c" stroke-width="1.3" stroke-linecap="butt"/>
<circle cx="261.3" cy="461.3" r="2.1" fill="#1c1c1c"/>
<circle cx="261.3" cy="482.38" r="2.1" fill="#1c1c1c"/>
<circle cx="261.3" cy="487.25" r="2.1" fill="#1c1c1c"/>
<circle cx="261.3" cy="507.52" r="2.1" fill="#1c1c1c"/>
<line x1="284.1" y1="502.65" x2="284.1" y2="518.87" stroke="#1c1c1c" stroke-width="1.3" stroke-linecap="butt"/>
<line x1="281.1" y1="502.65" x2="287.1" y2="502.65" stroke="#1c1c1c" stroke-width="1.3" stroke-linecap="butt"/>
<line x1="281.1" y1="518.87" x2="287.1" y2="518.87" stroke="#1c1c1c" stroke-width="1.3" stroke-linecap="butt"/>
<circle cx="284.1" cy="492.92" r="2.1" fill="#1c1c1c"/>
<circle cx="284.1" cy="501.84" r="2.1" fill="#1c1c1c"/>
<circle cx="284.1" cy="516.44" r="2.1" fill="#1c1c1c"/>
<circle cx="284.1" cy="529.41" r="2.1" fill="#1c1c1c"/>
<line x1="306.5" y1="520.49" x2="306.5" y2="544.82" stroke="#1c1c1c" stroke-width="1.3" stroke-linecap="butt"/>
<line x1="303.5" y1="520.49" x2="309.5" y2="520.49" stroke="#1c1c1c" stroke-width="1.3" stroke-linecap="butt"/>
<line x1="303.5" y1="544.82" x2="309.5" y2="544.82" stroke="#1c1c1c" stroke-width="1.3" stroke-linecap="butt"/>
<circle cx="306.5" cy="500.22" r="2.1" fill="#1c1c1c"/>
<circle cx="306.5" cy="530.22" r="2.1" fill="#1c1c1c"/>
<circle cx="306.5" cy="545.63" r="2.1" fill="#1c1c1c"/>
<circle cx="306.5" cy="556.17" r="2.1" fill="#1c1c1c"/>
<line x1="224.6" y1="460.4" x2="224.6" y2="559.5" stroke="#1c1c1c" stroke-width="1.9" stroke-linecap="butt"/>
<line x1="223.7" y1="558.6" x2="321.4" y2="558.6" stroke="#1c1c1c" stroke-width="1.9" stroke-linecap="butt"/>
<line x1="220.4" y1="558.6" x2="224.6" y2="558.6" stroke="#1c1c1c" stroke-width="1.7" stroke-linecap="butt"/>
<text x="216.4" y="561.8" font-size="10" text-anchor="end" fill="#1c1c1c">0</text>
<line x1="220.4" y1="526.17" x2="224.6" y2="526.17" stroke="#1c1c1c" stroke-width="1.7" stroke-linecap="butt"/>
<text x="216.4" y="529.37" font-size="10" text-anchor="end" fill="#1c1c1c">40</text>
<line x1="220.4" y1="493.73" x2="224.6" y2="493.73" stroke="#1c1c1c" stroke-width="1.7" stroke-linecap="butt"/>
<text x="216.4" y="496.93" font-size="10" text-anchor="end" fill="#1c1c1c">80</text>
<line x1="220.4" y1="461.3" x2="224.6" y2="461.3" stroke="#1c1c1c" stroke-width="1.7" stroke-linecap="butt"/>
<text x="216.4" y="464.5" font-size="10" text-anchor="end" fill="#1c1c1c">120</text>
<line x1="239" y1="558.6" x2="239" y2="562.4" stroke="#1c1c1c" stroke-width="1.7" stroke-linecap="butt"/>
<text x="240.6" y="571.6" font-size="10" font-weight="bold" text-anchor="end" fill="#1c1c1c" transform="rotate(-45 240.6 571.6)">DMSO</text>
<line x1="261.3" y1="558.6" x2="261.3" y2="562.4" stroke="#1c1c1c" stroke-width="1.7" stroke-linecap="butt"/>
<text x="264.7" y="571.6" font-size="10" font-weight="bold" text-anchor="end" fill="#1c1c1c" transform="rotate(-45 264.7 571.6)">OH14</text>
<line x1="284.1" y1="558.6" x2="284.1" y2="562.4" stroke="#1c1c1c" stroke-width="1.7" stroke-linecap="butt"/>
<text x="287.6" y="571.6" font-size="10" font-weight="bold" text-anchor="end" fill="#1c1c1c" transform="rotate(-45 287.6 571.6)">DMSO + TRAIL</text>
<line x1="306.5" y1="558.6" x2="306.5" y2="562.4" stroke="#1c1c1c" stroke-width="1.7" stroke-linecap="butt"/>
<text x="310.5" y="571.6" font-size="10" font-weight="bold" text-anchor="end" fill="#1c1c1c" transform="rotate(-45 310.5 571.6)">OH14 + TRAIL</text>
<text x="178.3" y="510" font-size="10" font-weight="bold" text-anchor="middle" fill="#1c1c1c" transform="rotate(-90 178.3 510)">PC-3M</text>
<text x="190.3" y="509" font-size="10" font-weight="bold" text-anchor="middle" fill="#1c1c1c" transform="rotate(-90 190.3 509)">Colony forming efficiency</text>
<path d="M238.5 441.6 V436.1 H307 V441.6" stroke="#1c1c1c" stroke-width="2" fill="none"/>
<path d="M272.4 426.9 L272.4 432.1 M270.15 428.2 L274.65 430.8 M270.15 430.8 L274.65 428.2 " stroke="#1c1c1c" stroke-width="1.35" fill="none"/>
<path d="M260.8 456.5 V451 H307 V456.5" stroke="#1c1c1c" stroke-width="2" fill="none"/>
<path d="M284.1 441.9 L284.1 447.1 M281.85 443.2 L286.35 445.8 M281.85 445.8 L286.35 443.2 " stroke="#1c1c1c" stroke-width="1.35" fill="none"/>
<text x="385" y="440.6" font-size="10" text-anchor="middle" fill="#222">DMSO</text>
<text x="472" y="440.6" font-size="10" text-anchor="middle" fill="#222">OH14</text>
<text x="564.8" y="440.6" font-size="10" text-anchor="middle" fill="#222">DMSO +</text>
<text x="563.4" y="453.1" font-size="10" text-anchor="middle" fill="#222">TRAIL</text>
<text x="646.4" y="440.6" font-size="10" text-anchor="middle" fill="#222">OH14 +</text>
<text x="645" y="453.1" font-size="10" text-anchor="middle" fill="#222">TRAIL</text>
<svg x="341.5" y="459.8" width="342" height="85.5" viewBox="341.5 459.8 342 85.5" overflow="hidden">
<rect x="341.5" y="459.8" width="342" height="85.5" fill="#d9d9db"/>
<circle cx="384.7" cy="502.55" r="47.6" fill="#e0e0e2"/>
<circle cx="470.2" cy="502.55" r="47.6" fill="#e0e0e2"/>
<circle cx="555.7" cy="502.55" r="47.6" fill="#e0e0e2"/>
<circle cx="641.2" cy="502.55" r="47.6" fill="#e0e0e2"/>
<circle cx="384.7" cy="502.55" r="47.6" fill="none" stroke="#8e8e90" stroke-width="1"/>
<circle cx="384.7" cy="502.55" r="46.2" fill="none" stroke="#b4b4b6" stroke-width="0.7"/>
<circle cx="470.2" cy="502.55" r="47.6" fill="none" stroke="#8e8e90" stroke-width="1"/>
<circle cx="470.2" cy="502.55" r="46.2" fill="none" stroke="#b4b4b6" stroke-width="0.7"/>
<circle cx="555.7" cy="502.55" r="47.6" fill="none" stroke="#8e8e90" stroke-width="1"/>
<circle cx="555.7" cy="502.55" r="46.2" fill="none" stroke="#b4b4b6" stroke-width="0.7"/>
<circle cx="641.2" cy="502.55" r="47.6" fill="none" stroke="#8e8e90" stroke-width="1"/>
<circle cx="641.2" cy="502.55" r="46.2" fill="none" stroke="#b4b4b6" stroke-width="0.7"/>
<circle cx="383.9" cy="503.15" r="42.6" fill="#e4e4e6" stroke="#8a8a8c" stroke-width="1"/>
<circle cx="383.9" cy="503.15" r="40.8" fill="none" stroke="#a8a8aa" stroke-width="0.7"/>
<circle cx="383.9" cy="503.15" r="39" fill="none" stroke="#c8c8ca" stroke-width="0.6"/>
<path d="M380.23 545.09 A42.1 42.1 0 0 1 373 462.48" stroke="#5e5e60" stroke-width="1.3" fill="none" opacity="0.55"/>
<ellipse cx="411.2" cy="488.85" rx="8" ry="11" fill="#ebebed" opacity="0.5"/>
<circle cx="359.87" cy="493.68" r="0.82" fill="rgb(104,104,104)"/>
<circle cx="399.73" cy="482.76" r="0.53" fill="rgb(110,110,110)"/>
<circle cx="363.92" cy="485.76" r="0.52" fill="rgb(102,102,102)"/>
<circle cx="401.71" cy="514.56" r="0.77" fill="rgb(50,50,50)"/>
<circle cx="360.36" cy="521.14" r="0.63" fill="rgb(65,65,65)"/>
<circle cx="398.79" cy="476.74" r="0.48" fill="rgb(49,49,49)"/>
<circle cx="384.75" cy="519.88" r="0.46" fill="rgb(104,104,104)"/>
<circle cx="365.45" cy="491.29" r="0.53" fill="rgb(74,74,74)"/>
<circle cx="353.17" cy="503.19" r="0.71" fill="rgb(103,103,103)"/>
<circle cx="358.01" cy="520.33" r="0.67" fill="rgb(55,55,55)"/>
<circle cx="371.02" cy="532.78" r="0.54" fill="rgb(81,81,81)"/>
<circle cx="377.79" cy="500.59" r="0.49" fill="rgb(58,58,58)"/>
<circle cx="357.18" cy="526.26" r="0.83" fill="rgb(45,45,45)"/>
<circle cx="399.81" cy="495.3" r="0.47" fill="rgb(93,93,93)"/>
<circle cx="353.51" cy="525.99" r="0.48" fill="rgb(70,70,70)"/>
<circle cx="379.7" cy="536.77" r="0.48" fill="rgb(87,87,87)"/>
<circle cx="379.91" cy="505.68" r="0.82" fill="rgb(62,62,62)"/>
<circle cx="399.25" cy="514.45" r="0.47" fill="rgb(107,107,107)"/>
<circle cx="368.82" cy="497.26" r="0.63" fill="rgb(69,69,69)"/>
<circle cx="388.56" cy="465.32" r="0.62" fill="rgb(94,94,94)"/>
<circle cx="372.38" cy="509.41" r="0.54" fill="rgb(79,79,79)"/>
<circle cx="419.16" cy="497.53" r="0.69" fill="rgb(47,47,47)"/>
<circle cx="370.02" cy="514.02" r="0.79" fill="rgb(57,57,57)"/>
<circle cx="388.68" cy="509.42" r="0.63" fill="rgb(46,46,46)"/>
<circle cx="367.83" cy="532.84" r="0.57" fill="rgb(54,54,54)"/>
<circle cx="386.58" cy="513.27" r="0.7" fill="rgb(46,46,46)"/>
<circle cx="363.29" cy="524.64" r="0.63" fill="rgb(106,106,106)"/>
<circle cx="406.95" cy="529.54" r="0.6" fill="rgb(64,64,64)"/>
<circle cx="386.8" cy="524.36" r="0.69" fill="rgb(69,69,69)"/>
<circle cx="373.36" cy="492.07" r="0.67" fill="rgb(94,94,94)"/>
<circle cx="355.2" cy="481.31" r="0.62" fill="rgb(58,58,58)"/>
<circle cx="371.26" cy="502.17" r="0.55" fill="rgb(95,95,95)"/>
<circle cx="392.6" cy="485.73" r="0.69" fill="rgb(82,82,82)"/>
<circle cx="408.9" cy="491.24" r="0.84" fill="rgb(61,61,61)"/>
<circle cx="366.81" cy="496.46" r="0.79" fill="rgb(54,54,54)"/>
<circle cx="401.55" cy="493.06" r="0.53" fill="rgb(47,47,47)"/>
<circle cx="375.33" cy="508.48" r="0.55" fill="rgb(50,50,50)"/>
<circle cx="372.95" cy="514.99" r="0.68" fill="rgb(61,61,61)"/>
<circle cx="391.42" cy="512.06" r="0.63" fill="rgb(87,87,87)"/>
<circle cx="372.67" cy="474.12" r="0.68" fill="rgb(62,62,62)"/>
<circle cx="410.06" cy="489.53" r="0.64" fill="rgb(90,90,90)"/>
<circle cx="415.17" cy="495.7" r="0.46" fill="rgb(54,54,54)"/>
<circle cx="380.64" cy="476.68" r="0.58" fill="rgb(54,54,54)"/>
<circle cx="373.8" cy="500.14" r="0.74" fill="rgb(61,61,61)"/>
<circle cx="413.34" cy="485.74" r="0.59" fill="rgb(105,105,105)"/>
<circle cx="409.03" cy="476.76" r="0.62" fill="rgb(48,48,48)"/>
<circle cx="351.89" cy="487.39" r="0.7" fill="rgb(93,93,93)"/>
<circle cx="407.47" cy="505" r="0.48" fill="rgb(56,56,56)"/>
<circle cx="414.58" cy="501.86" r="0.8" fill="rgb(87,87,87)"/>
<circle cx="381.65" cy="479.32" r="0.68" fill="rgb(101,101,101)"/>
<circle cx="358.65" cy="496.46" r="0.66" fill="rgb(110,110,110)"/>
<circle cx="378.57" cy="499.21" r="0.64" fill="rgb(74,74,74)"/>
<circle cx="412.41" cy="527.62" r="0.76" fill="rgb(107,107,107)"/>
<circle cx="403.27" cy="504.53" r="0.57" fill="rgb(70,70,70)"/>
<circle cx="384.56" cy="475.51" r="0.59" fill="rgb(101,101,101)"/>
<circle cx="385.35" cy="530.22" r="0.61" fill="rgb(77,77,77)"/>
<circle cx="368.38" cy="510.35" r="0.77" fill="rgb(70,70,70)"/>
<circle cx="356.96" cy="527.07" r="0.68" fill="rgb(85,85,85)"/>
<circle cx="395.57" cy="516.31" r="0.59" fill="rgb(50,50,50)"/>
<circle cx="414.7" cy="493.14" r="0.56" fill="rgb(66,66,66)"/>
<circle cx="371.21" cy="505.46" r="0.82" fill="rgb(97,97,97)"/>
<circle cx="360.34" cy="500.18" r="0.72" fill="rgb(102,102,102)"/>
<circle cx="394.22" cy="484.02" r="0.56" fill="rgb(50,50,50)"/>
<circle cx="377.77" cy="534.17" r="0.59" fill="rgb(47,47,47)"/>
<circle cx="358.45" cy="520.4" r="0.53" fill="rgb(79,79,79)"/>
<circle cx="395.75" cy="517.63" r="0.47" fill="rgb(59,59,59)"/>
<circle cx="366.33" cy="484.45" r="0.71" fill="rgb(92,92,92)"/>
<circle cx="368.86" cy="468.7" r="0.53" fill="rgb(105,105,105)"/>
<circle cx="379.57" cy="484.21" r="0.75" fill="rgb(113,113,113)"/>
<circle cx="397.88" cy="532.43" r="0.56" fill="rgb(89,89,89)"/>
<circle cx="410.55" cy="493.9" r="0.65" fill="rgb(65,65,65)"/>
<circle cx="390.17" cy="479.89" r="0.81" fill="rgb(56,56,56)"/>
<circle cx="403.11" cy="487.79" r="0.61" fill="rgb(102,102,102)"/>
<circle cx="365.68" cy="484.8" r="0.81" fill="rgb(93,93,93)"/>
<circle cx="367.55" cy="479.83" r="0.65" fill="rgb(88,88,88)"/>
<circle cx="368.71" cy="481.87" r="0.53" fill="rgb(60,60,60)"/>
<circle cx="398.25" cy="492.72" r="0.84" fill="rgb(84,84,84)"/>
<circle cx="391.03" cy="475.93" r="0.58" fill="rgb(47,47,47)"/>
<circle cx="403.57" cy="514.42" r="0.63" fill="rgb(115,115,115)"/>
<circle cx="379.96" cy="527.76" r="0.82" fill="rgb(72,72,72)"/>
<circle cx="415.68" cy="516.68" r="0.77" fill="rgb(67,67,67)"/>
<circle cx="373.02" cy="477.31" r="0.82" fill="rgb(105,105,105)"/>
<circle cx="369.17" cy="501.62" r="0.74" fill="rgb(101,101,101)"/>
<circle cx="346.6" cy="504.89" r="0.83" fill="rgb(56,56,56)"/>
<circle cx="352.86" cy="515.57" r="0.67" fill="rgb(66,66,66)"/>
<circle cx="399.31" cy="480.05" r="0.67" fill="rgb(84,84,84)"/>
<circle cx="414.1" cy="494.33" r="0.8" fill="rgb(71,71,71)"/>
<circle cx="397.29" cy="519.57" r="0.67" fill="rgb(79,79,79)"/>
<circle cx="392.71" cy="530.85" r="0.66" fill="rgb(109,109,109)"/>
<circle cx="381.97" cy="505.03" r="0.67" fill="rgb(50,50,50)"/>
<circle cx="361.52" cy="519.28" r="0.77" fill="rgb(60,60,60)"/>
<circle cx="374.15" cy="478.07" r="0.48" fill="rgb(113,113,113)"/>
<circle cx="406.76" cy="490.73" r="0.77" fill="rgb(96,96,96)"/>
<circle cx="364.26" cy="506.49" r="0.5" fill="rgb(100,100,100)"/>
<circle cx="417.41" cy="488.82" r="0.82" fill="rgb(112,112,112)"/>
<circle cx="391.68" cy="523.33" r="0.7" fill="rgb(78,78,78)"/>
<circle cx="386.43" cy="489.57" r="0.46" fill="rgb(69,69,69)"/>
<circle cx="399" cy="504.27" r="0.56" fill="rgb(90,90,90)"/>
<circle cx="364.91" cy="503.29" r="0.65" fill="rgb(60,60,60)"/>
<circle cx="358.61" cy="478.32" r="0.74" fill="rgb(112,112,112)"/>
<circle cx="419.51" cy="508.39" r="0.7" fill="rgb(112,112,112)"/>
<circle cx="354.63" cy="495.99" r="0.8" fill="rgb(113,113,113)"/>
<circle cx="353.75" cy="497.47" r="0.79" fill="rgb(62,62,62)"/>
<circle cx="382.83" cy="484.66" r="0.77" fill="rgb(68,68,68)"/>
<circle cx="375.33" cy="522.96" r="0.82" fill="rgb(72,72,72)"/>
<circle cx="395.47" cy="534.99" r="0.49" fill="rgb(75,75,75)"/>
<circle cx="395.79" cy="510.5" r="0.61" fill="rgb(100,100,100)"/>
<circle cx="353.03" cy="519.71" r="0.77" fill="rgb(61,61,61)"/>
<circle cx="371.97" cy="490.76" r="0.77" fill="rgb(57,57,57)"/>
<circle cx="376.81" cy="487.47" r="0.81" fill="rgb(91,91,91)"/>
<circle cx="370.86" cy="502.68" r="0.75" fill="rgb(109,109,109)"/>
<circle cx="403.01" cy="469.87" r="0.77" fill="rgb(106,106,106)"/>
<circle cx="396.07" cy="506.07" r="0.67" fill="rgb(110,110,110)"/>
<circle cx="347.62" cy="507.44" r="0.53" fill="rgb(59,59,59)"/>
<circle cx="393.21" cy="488.52" r="0.85" fill="rgb(57,57,57)"/>
<circle cx="403.31" cy="525.02" r="0.72" fill="rgb(54,54,54)"/>
<circle cx="368.31" cy="532.89" r="0.64" fill="rgb(110,110,110)"/>
<circle cx="389.57" cy="525.3" r="0.6" fill="rgb(50,50,50)"/>
<circle cx="398.67" cy="535.19" r="0.63" fill="rgb(92,92,92)"/>
<circle cx="392.16" cy="526.16" r="0.52" fill="rgb(110,110,110)"/>
<circle cx="368.63" cy="533.73" r="0.48" fill="rgb(96,96,96)"/>
<circle cx="394.41" cy="530.16" r="0.68" fill="rgb(88,88,88)"/>
<circle cx="382.11" cy="537.55" r="0.81" fill="rgb(65,65,65)"/>
<circle cx="355.16" cy="522.52" r="0.81" fill="rgb(113,113,113)"/>
<circle cx="387.37" cy="471.33" r="0.76" fill="rgb(96,96,96)"/>
<circle cx="390.85" cy="519.17" r="0.77" fill="rgb(83,83,83)"/>
<circle cx="410.13" cy="504.9" r="0.59" fill="rgb(51,51,51)"/>
<circle cx="401.29" cy="496.85" r="0.72" fill="rgb(88,88,88)"/>
<circle cx="369.07" cy="513.08" r="0.52" fill="rgb(54,54,54)"/>
<circle cx="407.87" cy="503.13" r="0.71" fill="rgb(60,60,60)"/>
<circle cx="417.15" cy="498.97" r="0.46" fill="rgb(58,58,58)"/>
<circle cx="382.52" cy="536.13" r="0.61" fill="rgb(51,51,51)"/>
<circle cx="363.87" cy="476.29" r="0.45" fill="rgb(78,78,78)"/>
<circle cx="399.85" cy="492.4" r="0.67" fill="rgb(110,110,110)"/>
<circle cx="359.35" cy="499.94" r="0.79" fill="rgb(57,57,57)"/>
<circle cx="395.11" cy="474.6" r="0.48" fill="rgb(50,50,50)"/>
<circle cx="406.02" cy="494.17" r="0.6" fill="rgb(66,66,66)"/>
<circle cx="349.61" cy="493.89" r="0.69" fill="rgb(99,99,99)"/>
<circle cx="351.1" cy="520.99" r="0.66" fill="rgb(84,84,84)"/>
<circle cx="378.73" cy="525.78" r="0.71" fill="rgb(81,81,81)"/>
<circle cx="383.46" cy="471.87" r="0.46" fill="rgb(76,76,76)"/>
<circle cx="364.19" cy="481.35" r="0.61" fill="rgb(94,94,94)"/>
<circle cx="380.39" cy="511.24" r="0.61" fill="rgb(85,85,85)"/>
<circle cx="392.53" cy="497.33" r="0.62" fill="rgb(106,106,106)"/>
<circle cx="384.56" cy="483.93" r="0.47" fill="rgb(57,57,57)"/>
<circle cx="377.56" cy="466.52" r="0.64" fill="rgb(76,76,76)"/>
<circle cx="406.27" cy="522.89" r="0.7" fill="rgb(103,103,103)"/>
<circle cx="392.38" cy="493.05" r="0.59" fill="rgb(64,64,64)"/>
<circle cx="371.22" cy="507.91" r="0.72" fill="rgb(103,103,103)"/>
<circle cx="364.86" cy="480.26" r="0.72" fill="rgb(91,91,91)"/>
<circle cx="350.66" cy="496.64" r="0.85" fill="rgb(82,82,82)"/>
<circle cx="386.29" cy="535.97" r="0.5" fill="rgb(84,84,84)"/>
<circle cx="359.85" cy="479.11" r="0.59" fill="rgb(79,79,79)"/>
<circle cx="379.22" cy="473.53" r="0.73" fill="rgb(69,69,69)"/>
<circle cx="384.54" cy="472.6" r="0.53" fill="rgb(76,76,76)"/>
<circle cx="368.31" cy="480.84" r="0.53" fill="rgb(50,50,50)"/>
<circle cx="414.29" cy="504.96" r="0.55" fill="rgb(48,48,48)"/>
<circle cx="408.15" cy="521.35" r="0.67" fill="rgb(54,54,54)"/>
<circle cx="412.41" cy="485.78" r="0.51" fill="rgb(75,75,75)"/>
<circle cx="362.58" cy="524.97" r="0.64" fill="rgb(71,71,71)"/>
<circle cx="361.58" cy="503.93" r="0.5" fill="rgb(54,54,54)"/>
<circle cx="351.37" cy="514.33" r="0.78" fill="rgb(72,72,72)"/>
<circle cx="383.47" cy="477.56" r="0.61" fill="rgb(64,64,64)"/>
<circle cx="370.63" cy="483.97" r="0.85" fill="rgb(86,86,86)"/>
<circle cx="385.07" cy="482.47" r="0.78" fill="rgb(68,68,68)"/>
<circle cx="366.8" cy="521.54" r="0.49" fill="rgb(86,86,86)"/>
<circle cx="393.23" cy="508.51" r="0.68" fill="rgb(107,107,107)"/>
<circle cx="350.13" cy="511.03" r="0.78" fill="rgb(46,46,46)"/>
<circle cx="386.32" cy="513.46" r="0.71" fill="rgb(55,55,55)"/>
<circle cx="351.9" cy="504.2" r="0.76" fill="rgb(86,86,86)"/>
<circle cx="359.38" cy="482.57" r="0.59" fill="rgb(86,86,86)"/>
<circle cx="357.65" cy="483.77" r="0.73" fill="rgb(80,80,80)"/>
<circle cx="406.26" cy="478.68" r="0.57" fill="rgb(85,85,85)"/>
<circle cx="412.62" cy="490.05" r="0.74" fill="rgb(111,111,111)"/>
<circle cx="373.37" cy="473.18" r="0.6" fill="rgb(91,91,91)"/>
<circle cx="391.08" cy="469.01" r="0.77" fill="rgb(92,92,92)"/>
<circle cx="387.44" cy="467.56" r="0.78" fill="rgb(67,67,67)"/>
<circle cx="402.37" cy="477.96" r="0.8" fill="rgb(81,81,81)"/>
<circle cx="361.31" cy="475.28" r="0.47" fill="rgb(65,65,65)"/>
<circle cx="414.87" cy="488.9" r="0.71" fill="rgb(99,99,99)"/>
<circle cx="387.37" cy="472.93" r="0.77" fill="rgb(55,55,55)"/>
<circle cx="366.88" cy="475.59" r="0.49" fill="rgb(85,85,85)"/>
<circle cx="393.74" cy="474.21" r="0.51" fill="rgb(99,99,99)"/>
<circle cx="363.86" cy="478.53" r="0.76" fill="rgb(111,111,111)"/>
<circle cx="380.66" cy="470.89" r="0.59" fill="rgb(87,87,87)"/>
<circle cx="383.36" cy="468.3" r="0.66" fill="rgb(54,54,54)"/>
<circle cx="413.71" cy="484.59" r="0.61" fill="rgb(89,89,89)"/>
<circle cx="408.49" cy="476.62" r="0.78" fill="rgb(104,104,104)"/>
<circle cx="396.31" cy="468.36" r="0.66" fill="rgb(46,46,46)"/>
<circle cx="377.08" cy="468" r="0.62" fill="rgb(63,63,63)"/>
<circle cx="360.58" cy="481.62" r="0.7" fill="rgb(66,66,66)"/>
<circle cx="375.27" cy="472.03" r="0.66" fill="rgb(80,80,80)"/>
<circle cx="351.29" cy="485.6" r="0.57" fill="rgb(59,59,59)"/>
<circle cx="359.91" cy="481.72" r="0.82" fill="rgb(52,52,52)"/>
<circle cx="351.13" cy="489.64" r="0.64" fill="rgb(49,49,49)"/>
<circle cx="362.19" cy="479.32" r="0.59" fill="rgb(75,75,75)"/>
<circle cx="381.55" cy="468.9" r="0.65" fill="rgb(101,101,101)"/>
<circle cx="367.94" cy="476.22" r="0.52" fill="rgb(84,84,84)"/>
<circle cx="414.35" cy="486.88" r="0.67" fill="rgb(78,78,78)"/>
<circle cx="376.01" cy="470.6" r="0.83" fill="rgb(115,115,115)"/>
<circle cx="354.04" cy="483.8" r="0.8" fill="rgb(96,96,96)"/>
<circle cx="410.83" cy="489.22" r="0.77" fill="rgb(94,94,94)"/>
<circle cx="408.35" cy="475.28" r="0.76" fill="rgb(52,52,52)"/>
<circle cx="363.12" cy="475.3" r="0.45" fill="rgb(105,105,105)"/>
<circle cx="379.45" cy="466.87" r="0.55" fill="rgb(98,98,98)"/>
<circle cx="358.36" cy="480.14" r="0.51" fill="rgb(86,86,86)"/>
<circle cx="409.95" cy="486.32" r="0.77" fill="rgb(61,61,61)"/>
<circle cx="416.21" cy="490.77" r="0.56" fill="rgb(113,113,113)"/>
<circle cx="389.2" cy="473.28" r="0.52" fill="rgb(71,71,71)"/>
<circle cx="410.81" cy="479.32" r="0.78" fill="rgb(55,55,55)"/>
<circle cx="392.91" cy="471.9" r="0.66" fill="rgb(106,106,106)"/>
<circle cx="354.08" cy="484.8" r="0.75" fill="rgb(114,114,114)"/>
<circle cx="367.18" cy="471.03" r="0.77" fill="rgb(98,98,98)"/>
<circle cx="397.41" cy="474.85" r="0.76" fill="rgb(101,101,101)"/>
<circle cx="387.23" cy="471.85" r="0.66" fill="rgb(65,65,65)"/>
<circle cx="417.29" cy="487.54" r="0.58" fill="rgb(96,96,96)"/>
<circle cx="369.95" cy="476.02" r="0.64" fill="rgb(53,53,53)"/>
<circle cx="398.28" cy="473.92" r="0.49" fill="rgb(95,95,95)"/>
<circle cx="403.67" cy="474.41" r="0.76" fill="rgb(60,60,60)"/>
<circle cx="351.64" cy="490.3" r="0.6" fill="rgb(105,105,105)"/>
<circle cx="388.84" cy="471.85" r="0.63" fill="rgb(46,46,46)"/>
<circle cx="410.9" cy="479.04" r="0.74" fill="rgb(64,64,64)"/>
<circle cx="374.33" cy="472.54" r="0.67" fill="rgb(83,83,83)"/>
<circle cx="405.43" cy="473.17" r="0.67" fill="rgb(56,56,56)"/>
<circle cx="362.6" cy="479.5" r="0.74" fill="rgb(87,87,87)"/>
<circle cx="366.99" cy="475.73" r="0.64" fill="rgb(87,87,87)"/>
<circle cx="374.49" cy="471.3" r="0.49" fill="rgb(57,57,57)"/>
<circle cx="393.58" cy="473.79" r="0.52" fill="rgb(69,69,69)"/>
<circle cx="408.02" cy="480.79" r="0.69" fill="rgb(56,56,56)"/>
<circle cx="355.98" cy="490.41" r="0.84" fill="rgb(100,100,100)"/>
<circle cx="355.44" cy="486.6" r="0.82" fill="rgb(99,99,99)"/>
<circle cx="355.56" cy="479.81" r="0.53" fill="rgb(63,63,63)"/>
<circle cx="374.01" cy="468.59" r="0.58" fill="rgb(97,97,97)"/>
<circle cx="402.06" cy="473.82" r="0.7" fill="rgb(85,85,85)"/>
<circle cx="408.03" cy="474.95" r="0.71" fill="rgb(112,112,112)"/>
<circle cx="371.83" cy="475.59" r="0.59" fill="rgb(101,101,101)"/>
<circle cx="374.85" cy="473.79" r="0.65" fill="rgb(82,82,82)"/>
<circle cx="393.57" cy="468.5" r="0.51" fill="rgb(113,113,113)"/>
<circle cx="388.2" cy="466.86" r="0.59" fill="rgb(109,109,109)"/>
<circle cx="389.97" cy="470" r="0.53" fill="rgb(111,111,111)"/>
<circle cx="390.58" cy="513.8" r="0.68" fill="rgb(48,48,48)"/>
<circle cx="389.11" cy="511.05" r="0.55" fill="rgb(98,98,98)"/>
<circle cx="384.37" cy="521.37" r="0.59" fill="rgb(104,104,104)"/>
<circle cx="384.81" cy="521.75" r="0.55" fill="rgb(114,114,114)"/>
<circle cx="396.83" cy="509.95" r="0.52" fill="rgb(87,87,87)"/>
<circle cx="394.31" cy="514.19" r="0.57" fill="rgb(91,91,91)"/>
<circle cx="375.52" cy="489.79" r="0.52" fill="rgb(115,115,115)"/>
<circle cx="386.47" cy="517.98" r="0.76" fill="rgb(62,62,62)"/>
<circle cx="380.61" cy="489.72" r="0.6" fill="rgb(47,47,47)"/>
<circle cx="381.17" cy="490.97" r="0.66" fill="rgb(60,60,60)"/>
<circle cx="390.29" cy="511.86" r="0.56" fill="rgb(87,87,87)"/>
<circle cx="382.34" cy="478.9" r="0.77" fill="rgb(96,96,96)"/>
<circle cx="388.75" cy="519.58" r="0.61" fill="rgb(97,97,97)"/>
<circle cx="375.33" cy="515.59" r="0.79" fill="rgb(97,97,97)"/>
<circle cx="392.83" cy="518.75" r="0.83" fill="rgb(87,87,87)"/>
<circle cx="378.03" cy="509.24" r="0.58" fill="rgb(51,51,51)"/>
<circle cx="380.38" cy="492.61" r="0.6" fill="rgb(86,86,86)"/>
<circle cx="388.08" cy="520.09" r="0.48" fill="rgb(60,60,60)"/>
<circle cx="391.86" cy="527.35" r="0.84" fill="rgb(105,105,105)"/>
<circle cx="386.04" cy="511.41" r="0.57" fill="rgb(95,95,95)"/>
<circle cx="405.45" cy="509.84" r="0.74" fill="rgb(92,92,92)"/>
<circle cx="384.37" cy="522.84" r="0.54" fill="rgb(98,98,98)"/>
<circle cx="389.4" cy="505.61" r="0.77" fill="rgb(60,60,60)"/>
<circle cx="387.42" cy="517.2" r="0.57" fill="rgb(83,83,83)"/>
<circle cx="382.72" cy="489.3" r="0.63" fill="rgb(112,112,112)"/>
<circle cx="381.61" cy="504.76" r="0.47" fill="rgb(48,48,48)"/>
<circle cx="384.58" cy="506.05" r="0.51" fill="rgb(105,105,105)"/>
<circle cx="394.54" cy="528.1" r="0.73" fill="rgb(52,52,52)"/>
<circle cx="384.95" cy="488.16" r="0.64" fill="rgb(67,67,67)"/>
<circle cx="386.7" cy="503.98" r="0.66" fill="rgb(75,75,75)"/>
<circle cx="383.71" cy="490.66" r="0.49" fill="rgb(85,85,85)"/>
<circle cx="392.26" cy="527.47" r="0.8" fill="rgb(87,87,87)"/>
<circle cx="394.04" cy="510.11" r="0.48" fill="rgb(73,73,73)"/>
<circle cx="396.77" cy="523.54" r="0.56" fill="rgb(75,75,75)"/>
<circle cx="385.76" cy="507.7" r="0.77" fill="rgb(112,112,112)"/>
<circle cx="389.14" cy="517.83" r="0.57" fill="rgb(68,68,68)"/>
<circle cx="387.92" cy="517.34" r="0.49" fill="rgb(54,54,54)"/>
<circle cx="380.4" cy="500.7" r="0.47" fill="rgb(81,81,81)"/>
<circle cx="381.98" cy="508.38" r="0.52" fill="rgb(69,69,69)"/>
<circle cx="382.31" cy="499.58" r="0.52" fill="rgb(64,64,64)"/>
<circle cx="398.35" cy="524.85" r="0.75" fill="rgb(94,94,94)"/>
<circle cx="381.36" cy="483.03" r="0.48" fill="rgb(91,91,91)"/>
<circle cx="383.2" cy="497.01" r="0.57" fill="rgb(111,111,111)"/>
<circle cx="384" cy="512.74" r="0.76" fill="rgb(59,59,59)"/>
<circle cx="388.69" cy="513.41" r="0.76" fill="rgb(75,75,75)"/>
<circle cx="374.88" cy="491.95" r="0.69" fill="rgb(78,78,78)"/>
<circle cx="374.55" cy="481.2" r="0.68" fill="rgb(68,68,68)"/>
<circle cx="379.52" cy="493.09" r="0.77" fill="rgb(109,109,109)"/>
<circle cx="385.33" cy="509.98" r="0.48" fill="rgb(67,67,67)"/>
<circle cx="379.84" cy="504.7" r="0.55" fill="rgb(63,63,63)"/>
<circle cx="374.45" cy="489.34" r="0.78" fill="rgb(112,112,112)"/>
<circle cx="391.07" cy="510.04" r="0.71" fill="rgb(110,110,110)"/>
<circle cx="382.28" cy="493.59" r="0.73" fill="rgb(103,103,103)"/>
<circle cx="377.17" cy="488.75" r="0.54" fill="rgb(50,50,50)"/>
<circle cx="382" cy="482.89" r="0.5" fill="rgb(103,103,103)"/>
<circle cx="387.45" cy="504.95" r="0.61" fill="rgb(112,112,112)"/>
<circle cx="378.93" cy="492.07" r="0.62" fill="rgb(54,54,54)"/>
<circle cx="390" cy="516.5" r="0.84" fill="rgb(74,74,74)"/>
<circle cx="390.68" cy="502.03" r="0.62" fill="rgb(56,56,56)"/>
<circle cx="389.85" cy="524.7" r="0.84" fill="rgb(72,72,72)"/>
<circle cx="375.12" cy="489.37" r="0.47" fill="rgb(88,88,88)"/>
<circle cx="395.83" cy="501.8" r="0.82" fill="rgb(67,67,67)"/>
<circle cx="379.34" cy="508.13" r="0.6" fill="rgb(51,51,51)"/>
<circle cx="381.27" cy="495.04" r="0.67" fill="rgb(65,65,65)"/>
<circle cx="381.5" cy="506.94" r="0.75" fill="rgb(105,105,105)"/>
<circle cx="393.01" cy="501.69" r="0.8" fill="rgb(71,71,71)"/>
<circle cx="386.07" cy="506.43" r="0.56" fill="rgb(80,80,80)"/>
<circle cx="380.88" cy="508.09" r="0.65" fill="rgb(72,72,72)"/>
<circle cx="381.96" cy="496.82" r="0.82" fill="rgb(91,91,91)"/>
<circle cx="382.41" cy="498.27" r="0.5" fill="rgb(86,86,86)"/>
<circle cx="382.73" cy="520.57" r="0.6" fill="rgb(77,77,77)"/>
<circle cx="388.88" cy="514.84" r="0.61" fill="rgb(75,75,75)"/>
<circle cx="388.74" cy="508.76" r="0.5" fill="rgb(71,71,71)"/>
<circle cx="379.13" cy="499.19" r="0.5" fill="rgb(115,115,115)"/>
<circle cx="382.51" cy="487.7" r="0.51" fill="rgb(71,71,71)"/>
<circle cx="386.36" cy="516.5" r="0.5" fill="rgb(111,111,111)"/>
<circle cx="392.27" cy="522.65" r="0.59" fill="rgb(72,72,72)"/>
<circle cx="386.37" cy="483.38" r="0.64" fill="rgb(46,46,46)"/>
<circle cx="394.76" cy="515.97" r="0.72" fill="rgb(72,72,72)"/>
<circle cx="386.14" cy="508.33" r="0.76" fill="rgb(92,92,92)"/>
<circle cx="398.34" cy="523.22" r="0.49" fill="rgb(99,99,99)"/>
<circle cx="400.28" cy="519.24" r="0.65" fill="rgb(87,87,87)"/>
<circle cx="396.94" cy="525.05" r="0.54" fill="rgb(96,96,96)"/>
<circle cx="394.6" cy="524.88" r="0.59" fill="rgb(75,75,75)"/>
<circle cx="397.57" cy="528.85" r="0.81" fill="rgb(64,64,64)"/>
<circle cx="409.04" cy="516.51" r="0.79" fill="rgb(84,84,84)"/>
<circle cx="415.12" cy="509.57" r="0.61" fill="rgb(91,91,91)"/>
<circle cx="393.65" cy="536.86" r="0.56" fill="rgb(93,93,93)"/>
<circle cx="401.98" cy="525.48" r="0.64" fill="rgb(86,86,86)"/>
<circle cx="417.44" cy="512.17" r="0.46" fill="rgb(86,86,86)"/>
<circle cx="406.47" cy="529.66" r="0.55" fill="rgb(68,68,68)"/>
<circle cx="408.68" cy="521.76" r="0.59" fill="rgb(91,91,91)"/>
<circle cx="394.86" cy="521.76" r="0.54" fill="rgb(54,54,54)"/>
<circle cx="402.21" cy="527.86" r="0.61" fill="rgb(98,98,98)"/>
<circle cx="405.27" cy="508.79" r="0.64" fill="rgb(102,102,102)"/>
<circle cx="391.49" cy="529.05" r="0.47" fill="rgb(62,62,62)"/>
<circle cx="411.53" cy="518.53" r="0.65" fill="rgb(105,105,105)"/>
<circle cx="417.74" cy="515.8" r="0.53" fill="rgb(74,74,74)"/>
<circle cx="406.56" cy="513.91" r="0.66" fill="rgb(114,114,114)"/>
<circle cx="419.49" cy="509.58" r="0.67" fill="rgb(115,115,115)"/>
<circle cx="392.4" cy="523.81" r="0.8" fill="rgb(87,87,87)"/>
<circle cx="407.94" cy="510.63" r="0.46" fill="rgb(71,71,71)"/>
<circle cx="400.72" cy="530.14" r="0.84" fill="rgb(65,65,65)"/>
<circle cx="397.92" cy="522.1" r="0.65" fill="rgb(82,82,82)"/>
<circle cx="407.11" cy="516.55" r="0.75" fill="rgb(113,113,113)"/>
<circle cx="400.31" cy="526.79" r="0.59" fill="rgb(67,67,67)"/>
<circle cx="400.63" cy="534.13" r="0.8" fill="rgb(53,53,53)"/>
<circle cx="394.31" cy="535.18" r="0.57" fill="rgb(102,102,102)"/>
<circle cx="399.46" cy="527.61" r="0.47" fill="rgb(97,97,97)"/>
<circle cx="417.39" cy="511.34" r="0.55" fill="rgb(109,109,109)"/>
<circle cx="400.84" cy="530.86" r="0.55" fill="rgb(77,77,77)"/>
<circle cx="398.16" cy="525.8" r="0.52" fill="rgb(71,71,71)"/>
<circle cx="396.66" cy="534.73" r="0.68" fill="rgb(98,98,98)"/>
<circle cx="413.22" cy="513.13" r="0.75" fill="rgb(79,79,79)"/>
<circle cx="415.55" cy="513.9" r="0.6" fill="rgb(82,82,82)"/>
<circle cx="406.62" cy="512.76" r="0.46" fill="rgb(62,62,62)"/>
<circle cx="405.98" cy="515.38" r="0.55" fill="rgb(95,95,95)"/>
<circle cx="398.42" cy="525.98" r="0.51" fill="rgb(65,65,65)"/>
<circle cx="414.36" cy="513.21" r="0.47" fill="rgb(81,81,81)"/>
<circle cx="401.8" cy="522.82" r="0.77" fill="rgb(96,96,96)"/>
<circle cx="409.53" cy="508.53" r="0.67" fill="rgb(106,106,106)"/>
<circle cx="406.87" cy="509.18" r="0.63" fill="rgb(81,81,81)"/>
<circle cx="395.98" cy="524.53" r="0.61" fill="rgb(63,63,63)"/>
<circle cx="412.7" cy="525.06" r="0.73" fill="rgb(114,114,114)"/>
<circle cx="392.33" cy="527.18" r="0.63" fill="rgb(58,58,58)"/>
<circle cx="392.69" cy="531.48" r="0.8" fill="rgb(100,100,100)"/>
<circle cx="403.24" cy="515.54" r="0.46" fill="rgb(63,63,63)"/>
<circle cx="403.85" cy="518.75" r="0.58" fill="rgb(55,55,55)"/>
<circle cx="407.09" cy="519.76" r="0.55" fill="rgb(51,51,51)"/>
<circle cx="406.96" cy="507.42" r="0.75" fill="rgb(55,55,55)"/>
<circle cx="401.55" cy="514.85" r="0.51" fill="rgb(70,70,70)"/>
<circle cx="412.31" cy="525.83" r="0.46" fill="rgb(89,89,89)"/>
<circle cx="410.41" cy="523.65" r="0.47" fill="rgb(115,115,115)"/>
<circle cx="395.41" cy="531.49" r="0.55" fill="rgb(69,69,69)"/>
<circle cx="395.75" cy="536.66" r="0.85" fill="rgb(101,101,101)"/>
<circle cx="391.21" cy="532.14" r="0.47" fill="rgb(48,48,48)"/>
<circle cx="407.87" cy="529.52" r="0.72" fill="rgb(79,79,79)"/>
<circle cx="396.09" cy="526.83" r="0.57" fill="rgb(110,110,110)"/>
<circle cx="392.61" cy="530.05" r="0.48" fill="rgb(91,91,91)"/>
<circle cx="398.44" cy="518.7" r="0.77" fill="rgb(108,108,108)"/>
<circle cx="394.89" cy="528.09" r="0.78" fill="rgb(57,57,57)"/>
<circle cx="409.55" cy="527.7" r="0.79" fill="rgb(97,97,97)"/>
<circle cx="390.92" cy="527.11" r="0.46" fill="rgb(63,63,63)"/>
<circle cx="403.51" cy="518.03" r="0.6" fill="rgb(80,80,80)"/>
<circle cx="411.22" cy="522.66" r="0.71" fill="rgb(90,90,90)"/>
<circle cx="408.97" cy="509.71" r="0.71" fill="rgb(57,57,57)"/>
<circle cx="406.73" cy="513.77" r="0.52" fill="rgb(51,51,51)"/>
<circle cx="405.57" cy="527.42" r="0.72" fill="rgb(67,67,67)"/>
<circle cx="408.62" cy="512.59" r="0.6" fill="rgb(68,68,68)"/>
<circle cx="411.16" cy="508.28" r="0.65" fill="rgb(96,96,96)"/>
<circle cx="469.4" cy="503.15" r="42.6" fill="#e4e4e6" stroke="#8a8a8c" stroke-width="1"/>
<circle cx="469.4" cy="503.15" r="40.8" fill="none" stroke="#a8a8aa" stroke-width="0.7"/>
<circle cx="469.4" cy="503.15" r="39" fill="none" stroke="#c8c8ca" stroke-width="0.6"/>
<path d="M465.73 545.09 A42.1 42.1 0 0 1 458.5 462.48" stroke="#5e5e60" stroke-width="1.3" fill="none" opacity="0.55"/>
<ellipse cx="496.7" cy="488.85" rx="8" ry="11" fill="#ebebed" opacity="0.5"/>
<circle cx="480.66" cy="499.54" r="0.79" fill="rgb(138,138,138)"/>
<circle cx="482.1" cy="491.3" r="0.58" fill="rgb(138,138,138)"/>
<circle cx="443.47" cy="489.15" r="0.58" fill="rgb(120,120,120)"/>
<circle cx="476.55" cy="540.14" r="0.61" fill="rgb(135,135,135)"/>
<circle cx="483.26" cy="469.73" r="0.48" fill="rgb(114,114,114)"/>
<circle cx="453.01" cy="536.75" r="0.52" fill="rgb(112,112,112)"/>
<circle cx="497.17" cy="504.91" r="0.74" fill="rgb(132,132,132)"/>
<circle cx="454.8" cy="484.59" r="0.53" fill="rgb(129,129,129)"/>
<circle cx="448.47" cy="511.52" r="0.74" fill="rgb(117,117,117)"/>
<circle cx="444.55" cy="491.89" r="0.5" fill="rgb(143,143,143)"/>
<circle cx="468.19" cy="470.17" r="0.62" fill="rgb(119,119,119)"/>
<circle cx="450.78" cy="519.64" r="0.54" fill="rgb(128,128,128)"/>
<circle cx="496.64" cy="510.61" r="0.82" fill="rgb(123,123,123)"/>
<circle cx="440.67" cy="513.13" r="0.69" fill="rgb(128,128,128)"/>
<circle cx="465.34" cy="511.15" r="0.66" fill="rgb(111,111,111)"/>
<circle cx="466.52" cy="465" r="0.58" fill="rgb(137,137,137)"/>
<circle cx="444.48" cy="494.76" r="0.47" fill="rgb(98,98,98)"/>
<circle cx="496.03" cy="483.12" r="0.49" fill="rgb(101,101,101)"/>
<circle cx="448.57" cy="474.77" r="0.83" fill="rgb(143,143,143)"/>
<circle cx="479.71" cy="511.06" r="0.55" fill="rgb(106,106,106)"/>
<circle cx="476.1" cy="496.03" r="0.73" fill="rgb(106,106,106)"/>
<circle cx="453.33" cy="525.63" r="0.53" fill="rgb(90,90,90)"/>
<circle cx="481.29" cy="536.84" r="0.56" fill="rgb(131,131,131)"/>
<circle cx="484.05" cy="514.85" r="0.63" fill="rgb(138,138,138)"/>
<circle cx="470.78" cy="530.01" r="0.77" fill="rgb(144,144,144)"/>
<circle cx="475.61" cy="496.53" r="0.84" fill="rgb(94,94,94)"/>
<circle cx="489.24" cy="531.1" r="0.6" fill="rgb(96,96,96)"/>
<circle cx="489.4" cy="493.56" r="0.83" fill="rgb(104,104,104)"/>
<circle cx="495.35" cy="526.73" r="0.52" fill="rgb(114,114,114)"/>
<circle cx="466.59" cy="496.98" r="0.64" fill="rgb(121,121,121)"/>
<circle cx="479.67" cy="502.37" r="0.53" fill="rgb(130,130,130)"/>
<circle cx="490.22" cy="497.39" r="0.84" fill="rgb(125,125,125)"/>
<circle cx="440.93" cy="516.38" r="0.46" fill="rgb(111,111,111)"/>
<circle cx="487.4" cy="476.54" r="0.83" fill="rgb(132,132,132)"/>
<circle cx="459.27" cy="475.1" r="0.52" fill="rgb(98,98,98)"/>
<circle cx="455.49" cy="495.44" r="0.47" fill="rgb(107,107,107)"/>
<circle cx="481.59" cy="498.41" r="0.69" fill="rgb(112,112,112)"/>
<circle cx="490.66" cy="504.22" r="0.48" fill="rgb(103,103,103)"/>
<circle cx="448.35" cy="528.5" r="0.57" fill="rgb(116,116,116)"/>
<circle cx="484.88" cy="510.61" r="0.56" fill="rgb(113,113,113)"/>
<circle cx="440.16" cy="521.97" r="0.63" fill="rgb(122,122,122)"/>
<circle cx="480.56" cy="510.74" r="0.66" fill="rgb(116,116,116)"/>
<circle cx="453.04" cy="494.26" r="0.56" fill="rgb(145,145,145)"/>
<circle cx="503.73" cy="492.47" r="0.48" fill="rgb(131,131,131)"/>
<circle cx="493.08" cy="492.67" r="0.61" fill="rgb(137,137,137)"/>
<circle cx="473.97" cy="527.43" r="0.71" fill="rgb(113,113,113)"/>
<circle cx="464.54" cy="527.53" r="0.63" fill="rgb(107,107,107)"/>
<circle cx="462.35" cy="483.6" r="0.72" fill="rgb(105,105,105)"/>
<circle cx="466.06" cy="506.49" r="0.69" fill="rgb(145,145,145)"/>
<circle cx="452.48" cy="512.36" r="0.59" fill="rgb(142,142,142)"/>
<circle cx="473.7" cy="467.38" r="0.49" fill="rgb(132,132,132)"/>
<circle cx="479.04" cy="495.82" r="0.49" fill="rgb(113,113,113)"/>
<circle cx="474.19" cy="504.07" r="0.69" fill="rgb(134,134,134)"/>
<circle cx="487.44" cy="489.68" r="0.83" fill="rgb(91,91,91)"/>
<circle cx="486.93" cy="529.19" r="0.48" fill="rgb(100,100,100)"/>
<circle cx="458.85" cy="527.11" r="0.72" fill="rgb(128,128,128)"/>
<circle cx="471.04" cy="512.48" r="0.46" fill="rgb(140,140,140)"/>
<circle cx="480.85" cy="481.9" r="0.71" fill="rgb(134,134,134)"/>
<circle cx="481.31" cy="507.65" r="0.85" fill="rgb(131,131,131)"/>
<circle cx="455.86" cy="482.94" r="0.54" fill="rgb(127,127,127)"/>
<circle cx="457.38" cy="515.97" r="0.51" fill="rgb(115,115,115)"/>
<circle cx="472.69" cy="491.72" r="0.45" fill="rgb(131,131,131)"/>
<circle cx="476.65" cy="471.95" r="0.81" fill="rgb(132,132,132)"/>
<circle cx="465.25" cy="468.81" r="0.76" fill="rgb(97,97,97)"/>
<circle cx="483.5" cy="524.12" r="0.6" fill="rgb(113,113,113)"/>
<circle cx="499.01" cy="480.43" r="0.46" fill="rgb(112,112,112)"/>
<circle cx="446.52" cy="493.91" r="0.84" fill="rgb(139,139,139)"/>
<circle cx="458.54" cy="535.49" r="0.65" fill="rgb(97,97,97)"/>
<circle cx="470.16" cy="513.12" r="0.72" fill="rgb(122,122,122)"/>
<circle cx="461.9" cy="529.59" r="0.76" fill="rgb(105,105,105)"/>
<circle cx="440.54" cy="509.34" r="0.85" fill="rgb(127,127,127)"/>
<circle cx="445.29" cy="493.93" r="0.63" fill="rgb(144,144,144)"/>
<circle cx="482.73" cy="469.28" r="0.65" fill="rgb(99,99,99)"/>
<circle cx="432.04" cy="497.24" r="0.61" fill="rgb(129,129,129)"/>
<circle cx="460.68" cy="466.48" r="0.5" fill="rgb(142,142,142)"/>
<circle cx="471.66" cy="506.42" r="0.78" fill="rgb(137,137,137)"/>
<circle cx="445.86" cy="526.24" r="0.57" fill="rgb(129,129,129)"/>
<circle cx="474.39" cy="507.29" r="0.57" fill="rgb(124,124,124)"/>
<circle cx="487.13" cy="477.98" r="0.47" fill="rgb(116,116,116)"/>
<circle cx="474.03" cy="523.65" r="0.66" fill="rgb(132,132,132)"/>
<circle cx="451.91" cy="535.54" r="0.65" fill="rgb(131,131,131)"/>
<circle cx="433.83" cy="489.04" r="0.51" fill="rgb(122,122,122)"/>
<circle cx="499.69" cy="524.35" r="0.7" fill="rgb(107,107,107)"/>
<circle cx="467.68" cy="536.12" r="0.6" fill="rgb(117,117,117)"/>
<circle cx="443.82" cy="525.8" r="0.71" fill="rgb(111,111,111)"/>
<circle cx="493.94" cy="511.05" r="0.78" fill="rgb(93,93,93)"/>
<circle cx="457.95" cy="513.62" r="0.58" fill="rgb(142,142,142)"/>
<circle cx="484.11" cy="513.73" r="0.6" fill="rgb(110,110,110)"/>
<circle cx="491.34" cy="496.17" r="0.66" fill="rgb(123,123,123)"/>
<circle cx="496.17" cy="504.66" r="0.61" fill="rgb(96,96,96)"/>
<circle cx="466.71" cy="501.36" r="0.83" fill="rgb(113,113,113)"/>
<circle cx="456.37" cy="467.79" r="0.79" fill="rgb(103,103,103)"/>
<circle cx="444.04" cy="487.18" r="0.58" fill="rgb(121,121,121)"/>
<circle cx="470.1" cy="489.98" r="0.59" fill="rgb(144,144,144)"/>
<circle cx="469.26" cy="514.85" r="0.56" fill="rgb(140,140,140)"/>
<circle cx="446.95" cy="473.36" r="0.6" fill="rgb(95,95,95)"/>
<circle cx="460.65" cy="484.58" r="0.48" fill="rgb(104,104,104)"/>
<circle cx="452.88" cy="534.03" r="0.58" fill="rgb(142,142,142)"/>
<circle cx="466.05" cy="517.94" r="0.56" fill="rgb(138,138,138)"/>
<circle cx="448.13" cy="519.6" r="0.48" fill="rgb(98,98,98)"/>
<circle cx="554.9" cy="503.15" r="42.6" fill="#e4e4e6" stroke="#8a8a8c" stroke-width="1"/>
<circle cx="554.9" cy="503.15" r="40.8" fill="none" stroke="#a8a8aa" stroke-width="0.7"/>
<circle cx="554.9" cy="503.15" r="39" fill="none" stroke="#c8c8ca" stroke-width="0.6"/>
<path d="M551.23 545.09 A42.1 42.1 0 0 1 544 462.48" stroke="#5e5e60" stroke-width="1.3" fill="none" opacity="0.55"/>
<ellipse cx="582.2" cy="488.85" rx="8" ry="11" fill="#ebebed" opacity="0.5"/>
<circle cx="531.1" cy="474.85" r="0.46" fill="rgb(72,72,72)"/>
<circle cx="584.12" cy="504.17" r="0.74" fill="rgb(98,98,98)"/>
<circle cx="539.21" cy="487.38" r="0.82" fill="rgb(54,54,54)"/>
<circle cx="568.7" cy="511.14" r="0.72" fill="rgb(62,62,62)"/>
<circle cx="532.56" cy="510.77" r="0.62" fill="rgb(60,60,60)"/>
<circle cx="575.36" cy="487.74" r="0.74" fill="rgb(59,59,59)"/>
<circle cx="531.71" cy="532.69" r="0.78" fill="rgb(59,59,59)"/>
<circle cx="529.19" cy="522.53" r="0.73" fill="rgb(59,59,59)"/>
<circle cx="563.81" cy="538.93" r="0.62" fill="rgb(113,113,113)"/>
<circle cx="568.49" cy="498.49" r="0.51" fill="rgb(80,80,80)"/>
<circle cx="580.78" cy="508.32" r="0.62" fill="rgb(93,93,93)"/>
<circle cx="549.89" cy="486.71" r="0.65" fill="rgb(100,100,100)"/>
<circle cx="530.59" cy="523.78" r="0.76" fill="rgb(58,58,58)"/>
<circle cx="572.34" cy="480.65" r="0.76" fill="rgb(86,86,86)"/>
<circle cx="545.08" cy="517.35" r="0.52" fill="rgb(89,89,89)"/>
<circle cx="562.6" cy="480.87" r="0.72" fill="rgb(102,102,102)"/>
<circle cx="570.85" cy="478.81" r="0.59" fill="rgb(63,63,63)"/>
<circle cx="581.32" cy="499.92" r="0.58" fill="rgb(107,107,107)"/>
<circle cx="553.59" cy="521.66" r="0.74" fill="rgb(50,50,50)"/>
<circle cx="572.81" cy="510.79" r="0.78" fill="rgb(93,93,93)"/>
<circle cx="559.22" cy="521.59" r="0.81" fill="rgb(53,53,53)"/>
<circle cx="583.29" cy="498.79" r="0.81" fill="rgb(103,103,103)"/>
<circle cx="572.56" cy="519.23" r="0.52" fill="rgb(58,58,58)"/>
<circle cx="523.25" cy="503.03" r="0.51" fill="rgb(90,90,90)"/>
<circle cx="527.46" cy="493.95" r="0.58" fill="rgb(64,64,64)"/>
<circle cx="580.14" cy="498.47" r="0.59" fill="rgb(83,83,83)"/>
<circle cx="557.45" cy="491.42" r="0.54" fill="rgb(70,70,70)"/>
<circle cx="552.12" cy="467.62" r="0.59" fill="rgb(65,65,65)"/>
<circle cx="525.72" cy="486.52" r="0.81" fill="rgb(92,92,92)"/>
<circle cx="533.96" cy="527.19" r="0.83" fill="rgb(82,82,82)"/>
<circle cx="569.44" cy="476.97" r="0.84" fill="rgb(59,59,59)"/>
<circle cx="573.91" cy="505.59" r="0.66" fill="rgb(77,77,77)"/>
<circle cx="547.77" cy="533.71" r="0.67" fill="rgb(78,78,78)"/>
<circle cx="551.11" cy="529.62" r="0.56" fill="rgb(80,80,80)"/>
<circle cx="576.41" cy="533.62" r="0.61" fill="rgb(114,114,114)"/>
<circle cx="527.46" cy="480.62" r="0.67" fill="rgb(65,65,65)"/>
<circle cx="539.85" cy="479.45" r="0.82" fill="rgb(78,78,78)"/>
<circle cx="535.83" cy="512.55" r="0.76" fill="rgb(114,114,114)"/>
<circle cx="537.16" cy="508.57" r="0.6" fill="rgb(72,72,72)"/>
<circle cx="517.62" cy="501.83" r="0.68" fill="rgb(89,89,89)"/>
<circle cx="587.06" cy="519.63" r="0.67" fill="rgb(54,54,54)"/>
<circle cx="576.01" cy="503.5" r="0.82" fill="rgb(60,60,60)"/>
<circle cx="543.49" cy="515.71" r="0.59" fill="rgb(63,63,63)"/>
<circle cx="550.13" cy="494.92" r="0.48" fill="rgb(48,48,48)"/>
<circle cx="570.28" cy="522.46" r="0.81" fill="rgb(111,111,111)"/>
<circle cx="528.82" cy="514.09" r="0.72" fill="rgb(56,56,56)"/>
<circle cx="537.93" cy="525.25" r="0.65" fill="rgb(70,70,70)"/>
<circle cx="583.8" cy="524.64" r="0.51" fill="rgb(69,69,69)"/>
<circle cx="544.16" cy="504.03" r="0.67" fill="rgb(56,56,56)"/>
<circle cx="550.52" cy="516.56" r="0.58" fill="rgb(79,79,79)"/>
<circle cx="591.69" cy="497.57" r="0.83" fill="rgb(64,64,64)"/>
<circle cx="587.55" cy="489.01" r="0.46" fill="rgb(107,107,107)"/>
<circle cx="589.14" cy="502.41" r="0.68" fill="rgb(85,85,85)"/>
<circle cx="586.66" cy="522.31" r="0.66" fill="rgb(49,49,49)"/>
<circle cx="551.14" cy="515.27" r="0.57" fill="rgb(48,48,48)"/>
<circle cx="569.54" cy="523.06" r="0.52" fill="rgb(111,111,111)"/>
<circle cx="558.59" cy="468.01" r="0.72" fill="rgb(55,55,55)"/>
<circle cx="555.81" cy="503.56" r="0.77" fill="rgb(95,95,95)"/>
<circle cx="525.59" cy="522.37" r="0.58" fill="rgb(89,89,89)"/>
<circle cx="574.22" cy="488.84" r="0.55" fill="rgb(51,51,51)"/>
<circle cx="525.91" cy="498.35" r="0.58" fill="rgb(90,90,90)"/>
<circle cx="557.44" cy="528.92" r="0.8" fill="rgb(67,67,67)"/>
<circle cx="559.03" cy="519.86" r="0.63" fill="rgb(73,73,73)"/>
<circle cx="537.99" cy="532.64" r="0.55" fill="rgb(78,78,78)"/>
<circle cx="528.43" cy="489.82" r="0.68" fill="rgb(47,47,47)"/>
<circle cx="556.74" cy="519.54" r="0.57" fill="rgb(87,87,87)"/>
<circle cx="564.24" cy="534.82" r="0.46" fill="rgb(76,76,76)"/>
<circle cx="579.75" cy="516.52" r="0.76" fill="rgb(76,76,76)"/>
<circle cx="579.41" cy="510.26" r="0.67" fill="rgb(62,62,62)"/>
<circle cx="540.4" cy="521.49" r="0.81" fill="rgb(94,94,94)"/>
<circle cx="521.35" cy="521.84" r="0.72" fill="rgb(74,74,74)"/>
<circle cx="560.51" cy="481.54" r="0.6" fill="rgb(81,81,81)"/>
<circle cx="581.93" cy="493.22" r="0.48" fill="rgb(46,46,46)"/>
<circle cx="563.47" cy="504.95" r="0.83" fill="rgb(99,99,99)"/>
<circle cx="577.69" cy="531.95" r="0.53" fill="rgb(108,108,108)"/>
<circle cx="589.1" cy="487.44" r="0.59" fill="rgb(62,62,62)"/>
<circle cx="551.7" cy="489.05" r="0.83" fill="rgb(69,69,69)"/>
<circle cx="549.3" cy="485.3" r="0.54" fill="rgb(103,103,103)"/>
<circle cx="551.52" cy="480.12" r="0.82" fill="rgb(63,63,63)"/>
<circle cx="588.4" cy="519.34" r="0.52" fill="rgb(89,89,89)"/>
<circle cx="577.49" cy="525.22" r="0.58" fill="rgb(60,60,60)"/>
<circle cx="535" cy="500.38" r="0.78" fill="rgb(101,101,101)"/>
<circle cx="521.85" cy="497.54" r="0.83" fill="rgb(55,55,55)"/>
<circle cx="585.78" cy="506.37" r="0.82" fill="rgb(109,109,109)"/>
<circle cx="571.06" cy="499.55" r="0.71" fill="rgb(58,58,58)"/>
<circle cx="560.44" cy="483.06" r="0.84" fill="rgb(103,103,103)"/>
<circle cx="577.62" cy="502.77" r="0.65" fill="rgb(49,49,49)"/>
<circle cx="570.65" cy="497.38" r="0.84" fill="rgb(48,48,48)"/>
<circle cx="532.96" cy="490.28" r="0.67" fill="rgb(81,81,81)"/>
<circle cx="562.1" cy="516.87" r="0.74" fill="rgb(72,72,72)"/>
<circle cx="592.11" cy="508.86" r="0.62" fill="rgb(108,108,108)"/>
<circle cx="582.61" cy="514.76" r="0.46" fill="rgb(88,88,88)"/>
<circle cx="553.32" cy="507.61" r="0.47" fill="rgb(78,78,78)"/>
<circle cx="522.18" cy="489.74" r="0.73" fill="rgb(77,77,77)"/>
<circle cx="542.49" cy="530.83" r="0.59" fill="rgb(98,98,98)"/>
<circle cx="533.39" cy="490.08" r="0.55" fill="rgb(107,107,107)"/>
<circle cx="571.96" cy="495.87" r="0.79" fill="rgb(65,65,65)"/>
<circle cx="530.55" cy="493.26" r="0.82" fill="rgb(66,66,66)"/>
<circle cx="540.48" cy="537.34" r="0.67" fill="rgb(96,96,96)"/>
<circle cx="569.32" cy="498.21" r="0.56" fill="rgb(57,57,57)"/>
<circle cx="585.47" cy="503.77" r="0.64" fill="rgb(59,59,59)"/>
<circle cx="578.84" cy="490.49" r="0.66" fill="rgb(93,93,93)"/>
<circle cx="538.33" cy="476.01" r="0.61" fill="rgb(108,108,108)"/>
<circle cx="535.23" cy="481.7" r="0.63" fill="rgb(56,56,56)"/>
<circle cx="540.98" cy="486.5" r="0.47" fill="rgb(63,63,63)"/>
<circle cx="547.78" cy="540.3" r="0.63" fill="rgb(55,55,55)"/>
<circle cx="574.21" cy="509.5" r="0.68" fill="rgb(96,96,96)"/>
<circle cx="553.9" cy="537.44" r="0.81" fill="rgb(109,109,109)"/>
<circle cx="547.49" cy="512.95" r="0.47" fill="rgb(54,54,54)"/>
<circle cx="528.19" cy="506.15" r="0.57" fill="rgb(109,109,109)"/>
<circle cx="579.27" cy="490.99" r="0.71" fill="rgb(102,102,102)"/>
<circle cx="589.01" cy="498.55" r="0.82" fill="rgb(76,76,76)"/>
<circle cx="546.72" cy="469.85" r="0.77" fill="rgb(67,67,67)"/>
<circle cx="541.88" cy="505.15" r="0.74" fill="rgb(50,50,50)"/>
<circle cx="591.34" cy="508.42" r="0.65" fill="rgb(88,88,88)"/>
<circle cx="538.63" cy="482.42" r="0.72" fill="rgb(96,96,96)"/>
<circle cx="532.04" cy="473.95" r="0.48" fill="rgb(65,65,65)"/>
<circle cx="567.52" cy="501.73" r="0.8" fill="rgb(84,84,84)"/>
<circle cx="540.01" cy="490.77" r="0.76" fill="rgb(78,78,78)"/>
<circle cx="527.6" cy="476.56" r="0.5" fill="rgb(52,52,52)"/>
<circle cx="533.7" cy="517.07" r="0.61" fill="rgb(45,45,45)"/>
<circle cx="582.06" cy="493.07" r="0.71" fill="rgb(107,107,107)"/>
<circle cx="550.49" cy="485.48" r="0.47" fill="rgb(65,65,65)"/>
<circle cx="581.82" cy="499.61" r="0.54" fill="rgb(60,60,60)"/>
<circle cx="523.06" cy="499.97" r="0.58" fill="rgb(79,79,79)"/>
<circle cx="586.36" cy="508.52" r="0.56" fill="rgb(58,58,58)"/>
<circle cx="574.7" cy="493.39" r="0.81" fill="rgb(82,82,82)"/>
<circle cx="530.39" cy="489.54" r="0.57" fill="rgb(104,104,104)"/>
<circle cx="538.02" cy="532.42" r="0.56" fill="rgb(111,111,111)"/>
<circle cx="589.91" cy="518.53" r="0.49" fill="rgb(113,113,113)"/>
<circle cx="555.26" cy="494.55" r="0.66" fill="rgb(81,81,81)"/>
<circle cx="539.92" cy="494.82" r="0.55" fill="rgb(86,86,86)"/>
<circle cx="541.94" cy="523.63" r="0.83" fill="rgb(82,82,82)"/>
<circle cx="581.35" cy="494.36" r="0.71" fill="rgb(98,98,98)"/>
<circle cx="570.53" cy="494.57" r="0.77" fill="rgb(55,55,55)"/>
<circle cx="542.66" cy="508.63" r="0.72" fill="rgb(109,109,109)"/>
<circle cx="554.63" cy="539.63" r="0.67" fill="rgb(46,46,46)"/>
<circle cx="565.27" cy="529.05" r="0.76" fill="rgb(52,52,52)"/>
<circle cx="567.1" cy="530.69" r="0.84" fill="rgb(85,85,85)"/>
<circle cx="560.72" cy="484.14" r="0.47" fill="rgb(52,52,52)"/>
<circle cx="531.25" cy="513.83" r="0.49" fill="rgb(105,105,105)"/>
<circle cx="554.62" cy="520.05" r="0.81" fill="rgb(115,115,115)"/>
<circle cx="553.65" cy="513.31" r="0.73" fill="rgb(101,101,101)"/>
<circle cx="590.67" cy="502.09" r="0.65" fill="rgb(76,76,76)"/>
<circle cx="540.53" cy="483.46" r="0.72" fill="rgb(97,97,97)"/>
<circle cx="552.87" cy="495.13" r="0.5" fill="rgb(52,52,52)"/>
<circle cx="531.16" cy="519.8" r="0.6" fill="rgb(95,95,95)"/>
<circle cx="530.85" cy="480.82" r="0.53" fill="rgb(76,76,76)"/>
<circle cx="519.58" cy="506.12" r="0.69" fill="rgb(85,85,85)"/>
<circle cx="531" cy="474.97" r="0.58" fill="rgb(47,47,47)"/>
<circle cx="582.54" cy="486.71" r="0.65" fill="rgb(97,97,97)"/>
<circle cx="585.55" cy="485.15" r="0.53" fill="rgb(49,49,49)"/>
<circle cx="580.99" cy="478.51" r="0.63" fill="rgb(91,91,91)"/>
<circle cx="558.79" cy="468.32" r="0.62" fill="rgb(72,72,72)"/>
<circle cx="568.43" cy="471.1" r="0.57" fill="rgb(56,56,56)"/>
<circle cx="570.66" cy="473.37" r="0.8" fill="rgb(103,103,103)"/>
<circle cx="579.33" cy="478.05" r="0.65" fill="rgb(96,96,96)"/>
<circle cx="552.35" cy="466.73" r="0.54" fill="rgb(74,74,74)"/>
<circle cx="587.28" cy="488.72" r="0.71" fill="rgb(103,103,103)"/>
<circle cx="577.47" cy="478.32" r="0.54" fill="rgb(55,55,55)"/>
<circle cx="586.73" cy="490.54" r="0.59" fill="rgb(95,95,95)"/>
<circle cx="567.09" cy="474.83" r="0.76" fill="rgb(78,78,78)"/>
<circle cx="565.8" cy="473.8" r="0.8" fill="rgb(83,83,83)"/>
<circle cx="558.62" cy="466.13" r="0.82" fill="rgb(52,52,52)"/>
<circle cx="551.43" cy="469.36" r="0.54" fill="rgb(95,95,95)"/>
<circle cx="583.83" cy="491.59" r="0.73" fill="rgb(88,88,88)"/>
<circle cx="575.98" cy="474.47" r="0.55" fill="rgb(97,97,97)"/>
<circle cx="586.89" cy="490.85" r="0.5" fill="rgb(86,86,86)"/>
<circle cx="573.29" cy="472.2" r="0.46" fill="rgb(88,88,88)"/>
<circle cx="571.79" cy="473.45" r="0.52" fill="rgb(108,108,108)"/>
<circle cx="562.86" cy="469.02" r="0.77" fill="rgb(98,98,98)"/>
<circle cx="553.58" cy="468.04" r="0.47" fill="rgb(104,104,104)"/>
<circle cx="586.87" cy="491.06" r="0.68" fill="rgb(82,82,82)"/>
<circle cx="580.46" cy="482.24" r="0.48" fill="rgb(83,83,83)"/>
<circle cx="556.97" cy="468.93" r="0.6" fill="rgb(72,72,72)"/>
<circle cx="561.74" cy="470.66" r="0.59" fill="rgb(113,113,113)"/>
<circle cx="573.54" cy="474.63" r="0.61" fill="rgb(96,96,96)"/>
<circle cx="563.04" cy="472.52" r="0.8" fill="rgb(76,76,76)"/>
<circle cx="550.46" cy="471.39" r="0.81" fill="rgb(48,48,48)"/>
<circle cx="561.77" cy="468.28" r="0.65" fill="rgb(48,48,48)"/>
<circle cx="562.97" cy="469.03" r="0.58" fill="rgb(91,91,91)"/>
<circle cx="565.2" cy="469.4" r="0.8" fill="rgb(72,72,72)"/>
<circle cx="581.01" cy="478.02" r="0.46" fill="rgb(81,81,81)"/>
<circle cx="587.28" cy="490.69" r="0.54" fill="rgb(73,73,73)"/>
<circle cx="564.19" cy="469.77" r="0.71" fill="rgb(88,88,88)"/>
<circle cx="586.25" cy="485.73" r="0.52" fill="rgb(68,68,68)"/>
<circle cx="580.46" cy="476.83" r="0.52" fill="rgb(90,90,90)"/>
<circle cx="565.53" cy="470.15" r="0.76" fill="rgb(85,85,85)"/>
<circle cx="560.04" cy="467.1" r="0.6" fill="rgb(74,74,74)"/>
<circle cx="578.26" cy="478.53" r="0.79" fill="rgb(53,53,53)"/>
<circle cx="579.91" cy="477.64" r="0.83" fill="rgb(48,48,48)"/>
<circle cx="551.37" cy="472.01" r="0.59" fill="rgb(107,107,107)"/>
<circle cx="584.58" cy="485.3" r="0.48" fill="rgb(58,58,58)"/>
<circle cx="584.62" cy="487.82" r="0.7" fill="rgb(115,115,115)"/>
<circle cx="577.21" cy="479.52" r="0.73" fill="rgb(86,86,86)"/>
<circle cx="579.5" cy="484.18" r="0.54" fill="rgb(47,47,47)"/>
<circle cx="565.55" cy="471.87" r="0.55" fill="rgb(82,82,82)"/>
<circle cx="549.9" cy="470.86" r="0.6" fill="rgb(98,98,98)"/>
<circle cx="561.79" cy="469.26" r="0.5" fill="rgb(57,57,57)"/>
<circle cx="572.27" cy="474.18" r="0.57" fill="rgb(101,101,101)"/>
<circle cx="572.54" cy="472.64" r="0.62" fill="rgb(94,94,94)"/>
<circle cx="561.35" cy="470.7" r="0.63" fill="rgb(113,113,113)"/>
<circle cx="585.12" cy="481.4" r="0.79" fill="rgb(81,81,81)"/>
<circle cx="562.41" cy="473.21" r="0.46" fill="rgb(50,50,50)"/>
<circle cx="562.63" cy="469.25" r="0.53" fill="rgb(104,104,104)"/>
<circle cx="581.72" cy="480.3" r="0.63" fill="rgb(95,95,95)"/>
<circle cx="559.71" cy="469.5" r="0.68" fill="rgb(69,69,69)"/>
<circle cx="560.19" cy="472.4" r="0.84" fill="rgb(114,114,114)"/>
<circle cx="573.87" cy="475.53" r="0.47" fill="rgb(82,82,82)"/>
<circle cx="586.78" cy="491.06" r="0.48" fill="rgb(59,59,59)"/>
<circle cx="555.9" cy="472.36" r="0.61" fill="rgb(59,59,59)"/>
<circle cx="586.34" cy="491.19" r="0.81" fill="rgb(114,114,114)"/>
<circle cx="575.52" cy="475.38" r="0.52" fill="rgb(104,104,104)"/>
<circle cx="560.7" cy="468.05" r="0.65" fill="rgb(102,102,102)"/>
<circle cx="583.55" cy="483.08" r="0.85" fill="rgb(47,47,47)"/>
<circle cx="577.69" cy="482.43" r="0.82" fill="rgb(54,54,54)"/>
<circle cx="563.2" cy="471.93" r="0.52" fill="rgb(111,111,111)"/>
<circle cx="575.47" cy="479.45" r="0.55" fill="rgb(73,73,73)"/>
<circle cx="551.53" cy="467.64" r="0.46" fill="rgb(62,62,62)"/>
<circle cx="578.32" cy="475.96" r="0.75" fill="rgb(105,105,105)"/>
<circle cx="533.17" cy="485.9" r="0.77" fill="rgb(68,68,68)"/>
<circle cx="540.65" cy="519.25" r="0.45" fill="rgb(50,50,50)"/>
<circle cx="527.09" cy="518.95" r="0.8" fill="rgb(77,77,77)"/>
<circle cx="532.18" cy="501.25" r="0.62" fill="rgb(49,49,49)"/>
<circle cx="537.99" cy="513.76" r="0.82" fill="rgb(55,55,55)"/>
<circle cx="542.42" cy="514.13" r="0.54" fill="rgb(82,82,82)"/>
<circle cx="521.79" cy="499.36" r="0.5" fill="rgb(94,94,94)"/>
<circle cx="525.49" cy="518.79" r="0.45" fill="rgb(97,97,97)"/>
<circle cx="531.83" cy="512.28" r="0.66" fill="rgb(51,51,51)"/>
<circle cx="538.82" cy="510.32" r="0.69" fill="rgb(87,87,87)"/>
<circle cx="536.03" cy="490.29" r="0.71" fill="rgb(68,68,68)"/>
<circle cx="544.93" cy="519.65" r="0.71" fill="rgb(75,75,75)"/>
<circle cx="531.42" cy="507.95" r="0.47" fill="rgb(114,114,114)"/>
<circle cx="537.33" cy="529.85" r="0.53" fill="rgb(104,104,104)"/>
<circle cx="536.02" cy="508.71" r="0.6" fill="rgb(65,65,65)"/>
<circle cx="525.61" cy="496.8" r="0.47" fill="rgb(53,53,53)"/>
<circle cx="541.76" cy="515.74" r="0.47" fill="rgb(48,48,48)"/>
<circle cx="534.97" cy="501.51" r="0.51" fill="rgb(50,50,50)"/>
<circle cx="538.67" cy="510.99" r="0.85" fill="rgb(49,49,49)"/>
<circle cx="533.55" cy="519.24" r="0.52" fill="rgb(102,102,102)"/>
<circle cx="541.47" cy="514.39" r="0.71" fill="rgb(66,66,66)"/>
<circle cx="539.47" cy="496.71" r="0.77" fill="rgb(97,97,97)"/>
<circle cx="536.7" cy="504.16" r="0.65" fill="rgb(94,94,94)"/>
<circle cx="541.41" cy="510.71" r="0.85" fill="rgb(48,48,48)"/>
<circle cx="537.82" cy="511.64" r="0.45" fill="rgb(95,95,95)"/>
<circle cx="537.04" cy="514.05" r="0.72" fill="rgb(65,65,65)"/>
<circle cx="532.58" cy="498.89" r="0.6" fill="rgb(58,58,58)"/>
<circle cx="536.52" cy="530.31" r="0.56" fill="rgb(82,82,82)"/>
<circle cx="539.47" cy="490.34" r="0.49" fill="rgb(68,68,68)"/>
<circle cx="530.36" cy="490.91" r="0.59" fill="rgb(77,77,77)"/>
<circle cx="541.09" cy="492.37" r="0.75" fill="rgb(91,91,91)"/>
<circle cx="528.44" cy="499.59" r="0.68" fill="rgb(80,80,80)"/>
<circle cx="523.33" cy="489.14" r="0.71" fill="rgb(63,63,63)"/>
<circle cx="534.89" cy="506.8" r="0.49" fill="rgb(52,52,52)"/>
<circle cx="531.22" cy="504.03" r="0.53" fill="rgb(94,94,94)"/>
<circle cx="536.53" cy="508.16" r="0.79" fill="rgb(48,48,48)"/>
<circle cx="536.18" cy="511.27" r="0.73" fill="rgb(69,69,69)"/>
<circle cx="533.46" cy="517.46" r="0.6" fill="rgb(88,88,88)"/>
<circle cx="535.38" cy="525.2" r="0.73" fill="rgb(87,87,87)"/>
<circle cx="527.95" cy="509.42" r="0.65" fill="rgb(48,48,48)"/>
<circle cx="640.4" cy="503.15" r="42.6" fill="#e4e4e6" stroke="#8a8a8c" stroke-width="1"/>
<circle cx="640.4" cy="503.15" r="40.8" fill="none" stroke="#a8a8aa" stroke-width="0.7"/>
<circle cx="640.4" cy="503.15" r="39" fill="none" stroke="#c8c8ca" stroke-width="0.6"/>
<path d="M636.73 545.09 A42.1 42.1 0 0 1 629.5 462.48" stroke="#5e5e60" stroke-width="1.3" fill="none" opacity="0.55"/>
<ellipse cx="667.7" cy="488.85" rx="8" ry="11" fill="#ebebed" opacity="0.5"/>
<circle cx="638.32" cy="493.56" r="0.54" fill="rgb(120,120,120)"/>
<circle cx="624.64" cy="506.89" r="0.64" fill="rgb(133,133,133)"/>
<circle cx="630.12" cy="525.84" r="0.61" fill="rgb(110,110,110)"/>
<circle cx="646.81" cy="471.12" r="0.67" fill="rgb(129,129,129)"/>
<circle cx="643.46" cy="488.5" r="0.84" fill="rgb(102,102,102)"/>
<circle cx="629.34" cy="495.22" r="0.72" fill="rgb(116,116,116)"/>
<circle cx="650.46" cy="525.72" r="0.74" fill="rgb(126,126,126)"/>
<circle cx="620.51" cy="527.59" r="0.71" fill="rgb(113,113,113)"/>
<circle cx="652.14" cy="505.83" r="0.63" fill="rgb(142,142,142)"/>
<circle cx="639.71" cy="522.57" r="0.63" fill="rgb(143,143,143)"/>
<circle cx="658.17" cy="518.42" r="0.71" fill="rgb(91,91,91)"/>
<circle cx="661.75" cy="518.84" r="0.68" fill="rgb(144,144,144)"/>
<circle cx="630.88" cy="501.24" r="0.5" fill="rgb(128,128,128)"/>
<circle cx="660.93" cy="478.42" r="0.82" fill="rgb(113,113,113)"/>
<circle cx="636.17" cy="471.98" r="0.8" fill="rgb(125,125,125)"/>
<circle cx="642.17" cy="533.78" r="0.47" fill="rgb(124,124,124)"/>
<circle cx="631.67" cy="540.04" r="0.76" fill="rgb(130,130,130)"/>
<circle cx="646.41" cy="527.43" r="0.63" fill="rgb(144,144,144)"/>
<circle cx="624.57" cy="491.41" r="0.65" fill="rgb(122,122,122)"/>
<circle cx="621.18" cy="498.35" r="0.59" fill="rgb(113,113,113)"/>
<circle cx="672.06" cy="501.26" r="0.77" fill="rgb(108,108,108)"/>
<circle cx="632.3" cy="496.58" r="0.62" fill="rgb(107,107,107)"/>
<circle cx="661.58" cy="491.61" r="0.64" fill="rgb(115,115,115)"/>
<circle cx="659.81" cy="478.06" r="0.48" fill="rgb(97,97,97)"/>
<circle cx="633.72" cy="508.02" r="0.48" fill="rgb(133,133,133)"/>
<circle cx="605.2" cy="516.06" r="0.68" fill="rgb(96,96,96)"/>
<circle cx="642.94" cy="473.46" r="0.63" fill="rgb(108,108,108)"/>
<circle cx="624.45" cy="517.43" r="0.81" fill="rgb(136,136,136)"/>
<circle cx="643.49" cy="500.46" r="0.64" fill="rgb(98,98,98)"/>
<circle cx="652.11" cy="513.26" r="0.8" fill="rgb(136,136,136)"/>
<circle cx="635.98" cy="494.46" r="0.54" fill="rgb(118,118,118)"/>
<circle cx="656.72" cy="501.2" r="0.56" fill="rgb(93,93,93)"/>
<circle cx="654.15" cy="520.62" r="0.76" fill="rgb(96,96,96)"/>
<circle cx="668.62" cy="498.83" r="0.58" fill="rgb(115,115,115)"/>
<circle cx="649.61" cy="467.89" r="0.53" fill="rgb(92,92,92)"/>
<circle cx="656.32" cy="536.17" r="0.65" fill="rgb(109,109,109)"/>
<circle cx="649.89" cy="538.67" r="0.71" fill="rgb(94,94,94)"/>
<circle cx="654.08" cy="523.91" r="0.63" fill="rgb(101,101,101)"/>
<circle cx="636.86" cy="481.71" r="0.81" fill="rgb(140,140,140)"/>
<circle cx="655.78" cy="468.51" r="0.55" fill="rgb(144,144,144)"/>
<circle cx="618.09" cy="480.04" r="0.8" fill="rgb(105,105,105)"/>
<circle cx="612.43" cy="497.53" r="0.8" fill="rgb(128,128,128)"/>
<circle cx="611.16" cy="485.76" r="0.58" fill="rgb(116,116,116)"/>
<circle cx="615.48" cy="478.27" r="0.54" fill="rgb(94,94,94)"/>
<circle cx="614.49" cy="513.8" r="0.52" fill="rgb(142,142,142)"/>
<circle cx="615.94" cy="484.24" r="0.64" fill="rgb(102,102,102)"/>
<circle cx="611.14" cy="511.49" r="0.84" fill="rgb(128,128,128)"/>
<circle cx="613.43" cy="514.49" r="0.65" fill="rgb(123,123,123)"/>
<circle cx="612.49" cy="485.98" r="0.69" fill="rgb(140,140,140)"/>
<circle cx="604.25" cy="501.55" r="0.71" fill="rgb(113,113,113)"/>
<circle cx="610.37" cy="483.98" r="0.5" fill="rgb(106,106,106)"/>
<circle cx="610.15" cy="504.12" r="0.79" fill="rgb(141,141,141)"/>
</svg>
<svg x="341.5" y="548.6" width="342" height="85.7" viewBox="341.5 548.6 342 85.7" overflow="hidden">
<rect x="341.5" y="548.6" width="342" height="85.7" fill="#d9d9db"/>
<circle cx="384.7" cy="591.45" r="47.6" fill="#e0e0e2"/>
<circle cx="470.2" cy="591.45" r="47.6" fill="#e0e0e2"/>
<circle cx="555.7" cy="591.45" r="47.6" fill="#e0e0e2"/>
<circle cx="641.2" cy="591.45" r="47.6" fill="#e0e0e2"/>
<circle cx="384.7" cy="591.45" r="47.6" fill="none" stroke="#8e8e90" stroke-width="1"/>
<circle cx="384.7" cy="591.45" r="46.2" fill="none" stroke="#b4b4b6" stroke-width="0.7"/>
<circle cx="470.2" cy="591.45" r="47.6" fill="none" stroke="#8e8e90" stroke-width="1"/>
<circle cx="470.2" cy="591.45" r="46.2" fill="none" stroke="#b4b4b6" stroke-width="0.7"/>
<circle cx="555.7" cy="591.45" r="47.6" fill="none" stroke="#8e8e90" stroke-width="1"/>
<circle cx="555.7" cy="591.45" r="46.2" fill="none" stroke="#b4b4b6" stroke-width="0.7"/>
<circle cx="641.2" cy="591.45" r="47.6" fill="none" stroke="#8e8e90" stroke-width="1"/>
<circle cx="641.2" cy="591.45" r="46.2" fill="none" stroke="#b4b4b6" stroke-width="0.7"/>
<circle cx="383.9" cy="592.05" r="42.6" fill="#e4e4e6" stroke="#8a8a8c" stroke-width="1"/>
<circle cx="383.9" cy="592.05" r="40.8" fill="none" stroke="#a8a8aa" stroke-width="0.7"/>
<circle cx="383.9" cy="592.05" r="39" fill="none" stroke="#c8c8ca" stroke-width="0.6"/>
<path d="M380.23 633.99 A42.1 42.1 0 0 1 373 551.38" stroke="#5e5e60" stroke-width="1.3" fill="none" opacity="0.55"/>
<ellipse cx="411.2" cy="577.75" rx="8" ry="11" fill="#ebebed" opacity="0.5"/>
<circle cx="401.99" cy="618.27" r="0.57" fill="rgb(50,50,50)"/>
<circle cx="376.21" cy="609.7" r="0.49" fill="rgb(67,67,67)"/>
<circle cx="371.91" cy="626.9" r="0.6" fill="rgb(59,59,59)"/>
<circle cx="415.78" cy="588.1" r="0.66" fill="rgb(55,55,55)"/>
<circle cx="388.72" cy="564.4" r="0.65" fill="rgb(57,57,57)"/>
<circle cx="362.25" cy="620.78" r="0.64" fill="rgb(70,70,70)"/>
<circle cx="415.22" cy="577.94" r="0.77" fill="rgb(84,84,84)"/>
<circle cx="416.1" cy="598.23" r="0.71" fill="rgb(86,86,86)"/>
<circle cx="410.88" cy="594.07" r="0.62" fill="rgb(55,55,55)"/>
<circle cx="356.64" cy="571.44" r="0.46" fill="rgb(103,103,103)"/>
<circle cx="357.72" cy="594.05" r="0.58" fill="rgb(111,111,111)"/>
<circle cx="368.8" cy="611.87" r="0.84" fill="rgb(91,91,91)"/>
<circle cx="385.21" cy="561.79" r="0.72" fill="rgb(60,60,60)"/>
<circle cx="388.74" cy="579.31" r="0.49" fill="rgb(57,57,57)"/>
<circle cx="395.7" cy="616.62" r="0.7" fill="rgb(83,83,83)"/>
<circle cx="350.15" cy="574.06" r="0.81" fill="rgb(55,55,55)"/>
<circle cx="363.54" cy="565.54" r="0.64" fill="rgb(85,85,85)"/>
<circle cx="401.07" cy="618.36" r="0.66" fill="rgb(97,97,97)"/>
<circle cx="382.8" cy="557.6" r="0.81" fill="rgb(101,101,101)"/>
<circle cx="391.05" cy="601.28" r="0.47" fill="rgb(65,65,65)"/>
<circle cx="390.53" cy="554.97" r="0.5" fill="rgb(62,62,62)"/>
<circle cx="359.82" cy="581.74" r="0.56" fill="rgb(87,87,87)"/>
<circle cx="377.65" cy="602.71" r="0.62" fill="rgb(108,108,108)"/>
<circle cx="407.59" cy="607.74" r="0.8" fill="rgb(53,53,53)"/>
<circle cx="370.36" cy="573.89" r="0.72" fill="rgb(68,68,68)"/>
<circle cx="359.43" cy="588.87" r="0.53" fill="rgb(104,104,104)"/>
<circle cx="391.19" cy="594.91" r="0.64" fill="rgb(115,115,115)"/>
<circle cx="388.51" cy="605.53" r="0.66" fill="rgb(107,107,107)"/>
<circle cx="385.99" cy="591.88" r="0.78" fill="rgb(93,93,93)"/>
<circle cx="353.85" cy="596.6" r="0.71" fill="rgb(101,101,101)"/>
<circle cx="384.51" cy="575.86" r="0.78" fill="rgb(71,71,71)"/>
<circle cx="363.42" cy="615.13" r="0.62" fill="rgb(56,56,56)"/>
<circle cx="347.77" cy="598.06" r="0.5" fill="rgb(90,90,90)"/>
<circle cx="381.4" cy="603.35" r="0.79" fill="rgb(113,113,113)"/>
<circle cx="352.68" cy="605.09" r="0.63" fill="rgb(104,104,104)"/>
<circle cx="393.1" cy="559.47" r="0.65" fill="rgb(86,86,86)"/>
<circle cx="371.69" cy="556.22" r="0.51" fill="rgb(112,112,112)"/>
<circle cx="368.76" cy="610.53" r="0.46" fill="rgb(55,55,55)"/>
<circle cx="366.13" cy="560.37" r="0.54" fill="rgb(89,89,89)"/>
<circle cx="381.18" cy="598.15" r="0.6" fill="rgb(84,84,84)"/>
<circle cx="415.63" cy="604.36" r="0.72" fill="rgb(93,93,93)"/>
<circle cx="392.83" cy="612.45" r="0.59" fill="rgb(101,101,101)"/>
<circle cx="387.94" cy="625.4" r="0.74" fill="rgb(55,55,55)"/>
<circle cx="371.5" cy="603.93" r="0.64" fill="rgb(56,56,56)"/>
<circle cx="373.15" cy="623.21" r="0.63" fill="rgb(90,90,90)"/>
<circle cx="393.16" cy="598.8" r="0.84" fill="rgb(53,53,53)"/>
<circle cx="354.24" cy="570.21" r="0.83" fill="rgb(57,57,57)"/>
<circle cx="399.76" cy="591.2" r="0.53" fill="rgb(73,73,73)"/>
<circle cx="379.55" cy="604.69" r="0.63" fill="rgb(85,85,85)"/>
<circle cx="397.79" cy="581.67" r="0.8" fill="rgb(110,110,110)"/>
<circle cx="381.9" cy="598.8" r="0.82" fill="rgb(98,98,98)"/>
<circle cx="405.36" cy="603.33" r="0.79" fill="rgb(98,98,98)"/>
<circle cx="384.19" cy="602.3" r="0.74" fill="rgb(88,88,88)"/>
<circle cx="358.5" cy="592.07" r="0.76" fill="rgb(84,84,84)"/>
<circle cx="360.28" cy="584.98" r="0.61" fill="rgb(113,113,113)"/>
<circle cx="404.5" cy="594.24" r="0.72" fill="rgb(87,87,87)"/>
<circle cx="392.31" cy="564" r="0.49" fill="rgb(51,51,51)"/>
<circle cx="384.07" cy="588.72" r="0.51" fill="rgb(75,75,75)"/>
<circle cx="377.35" cy="592.85" r="0.46" fill="rgb(48,48,48)"/>
<circle cx="362.28" cy="600.03" r="0.66" fill="rgb(48,48,48)"/>
<circle cx="363.62" cy="606.43" r="0.78" fill="rgb(108,108,108)"/>
<circle cx="374.87" cy="599.9" r="0.56" fill="rgb(94,94,94)"/>
<circle cx="401.43" cy="562.7" r="0.81" fill="rgb(63,63,63)"/>
<circle cx="353.29" cy="599.59" r="0.66" fill="rgb(112,112,112)"/>
<circle cx="411.41" cy="590.08" r="0.82" fill="rgb(113,113,113)"/>
<circle cx="408.8" cy="575.86" r="0.47" fill="rgb(105,105,105)"/>
<circle cx="397.87" cy="592.69" r="0.68" fill="rgb(79,79,79)"/>
<circle cx="384.26" cy="577.47" r="0.65" fill="rgb(84,84,84)"/>
<circle cx="352.31" cy="606.57" r="0.58" fill="rgb(93,93,93)"/>
<circle cx="390.04" cy="556.58" r="0.56" fill="rgb(55,55,55)"/>
<circle cx="360.04" cy="597.91" r="0.82" fill="rgb(112,112,112)"/>
<circle cx="373.94" cy="595.84" r="0.55" fill="rgb(66,66,66)"/>
<circle cx="393.22" cy="583.87" r="0.82" fill="rgb(60,60,60)"/>
<circle cx="408.19" cy="616.53" r="0.67" fill="rgb(109,109,109)"/>
<circle cx="377.53" cy="603.06" r="0.61" fill="rgb(105,105,105)"/>
<circle cx="402.54" cy="612.7" r="0.57" fill="rgb(47,47,47)"/>
<circle cx="414.86" cy="571.68" r="0.78" fill="rgb(74,74,74)"/>
<circle cx="394.26" cy="622.65" r="0.82" fill="rgb(106,106,106)"/>
<circle cx="366.39" cy="616.29" r="0.85" fill="rgb(84,84,84)"/>
<circle cx="405.21" cy="614.61" r="0.82" fill="rgb(50,50,50)"/>
<circle cx="409.14" cy="610.32" r="0.5" fill="rgb(55,55,55)"/>
<circle cx="380.86" cy="628.3" r="0.49" fill="rgb(80,80,80)"/>
<circle cx="376.02" cy="555.03" r="0.64" fill="rgb(89,89,89)"/>
<circle cx="350.32" cy="590.08" r="0.56" fill="rgb(112,112,112)"/>
<circle cx="374.76" cy="563.68" r="0.75" fill="rgb(62,62,62)"/>
<circle cx="398.36" cy="589.37" r="0.53" fill="rgb(73,73,73)"/>
<circle cx="408.65" cy="614.07" r="0.46" fill="rgb(97,97,97)"/>
<circle cx="399.19" cy="560.15" r="0.68" fill="rgb(54,54,54)"/>
<circle cx="416.99" cy="577.68" r="0.75" fill="rgb(52,52,52)"/>
<circle cx="391.32" cy="595.06" r="0.74" fill="rgb(107,107,107)"/>
<circle cx="376.7" cy="587.79" r="0.72" fill="rgb(70,70,70)"/>
<circle cx="373.05" cy="562.67" r="0.6" fill="rgb(53,53,53)"/>
<circle cx="359.65" cy="615.17" r="0.74" fill="rgb(96,96,96)"/>
<circle cx="391.17" cy="617.13" r="0.63" fill="rgb(115,115,115)"/>
<circle cx="401.94" cy="619.07" r="0.84" fill="rgb(76,76,76)"/>
<circle cx="406.75" cy="618.69" r="0.84" fill="rgb(62,62,62)"/>
<circle cx="415.22" cy="596.15" r="0.8" fill="rgb(67,67,67)"/>
<circle cx="359.08" cy="570.53" r="0.59" fill="rgb(88,88,88)"/>
<circle cx="366.04" cy="617.02" r="0.85" fill="rgb(115,115,115)"/>
<circle cx="365.82" cy="560.17" r="0.69" fill="rgb(54,54,54)"/>
<circle cx="398.32" cy="557.3" r="0.85" fill="rgb(103,103,103)"/>
<circle cx="356.68" cy="571.94" r="0.69" fill="rgb(66,66,66)"/>
<circle cx="356.72" cy="568.94" r="0.6" fill="rgb(45,45,45)"/>
<circle cx="370.12" cy="619.64" r="0.65" fill="rgb(107,107,107)"/>
<circle cx="401.69" cy="568.42" r="0.76" fill="rgb(71,71,71)"/>
<circle cx="404.75" cy="576.33" r="0.61" fill="rgb(46,46,46)"/>
<circle cx="408.73" cy="577.88" r="0.47" fill="rgb(95,95,95)"/>
<circle cx="403.74" cy="600.58" r="0.8" fill="rgb(84,84,84)"/>
<circle cx="382.66" cy="558.95" r="0.49" fill="rgb(110,110,110)"/>
<circle cx="391.92" cy="568.4" r="0.59" fill="rgb(70,70,70)"/>
<circle cx="374.73" cy="619.73" r="0.58" fill="rgb(112,112,112)"/>
<circle cx="400.61" cy="579.18" r="0.57" fill="rgb(107,107,107)"/>
<circle cx="356.75" cy="569.17" r="0.73" fill="rgb(90,90,90)"/>
<circle cx="378.16" cy="600.02" r="0.56" fill="rgb(62,62,62)"/>
<circle cx="381.89" cy="556.36" r="0.47" fill="rgb(61,61,61)"/>
<circle cx="399.6" cy="602.96" r="0.78" fill="rgb(113,113,113)"/>
<circle cx="402.41" cy="620.34" r="0.68" fill="rgb(101,101,101)"/>
<circle cx="403.72" cy="614.38" r="0.84" fill="rgb(110,110,110)"/>
<circle cx="419.02" cy="605.8" r="0.63" fill="rgb(53,53,53)"/>
<circle cx="416.48" cy="596.75" r="0.49" fill="rgb(66,66,66)"/>
<circle cx="367.38" cy="578.88" r="0.58" fill="rgb(71,71,71)"/>
<circle cx="415.78" cy="574.9" r="0.55" fill="rgb(90,90,90)"/>
<circle cx="373.88" cy="586.4" r="0.48" fill="rgb(57,57,57)"/>
<circle cx="373.54" cy="566.59" r="0.54" fill="rgb(112,112,112)"/>
<circle cx="397.26" cy="565.9" r="0.5" fill="rgb(108,108,108)"/>
<circle cx="348.36" cy="593.09" r="0.63" fill="rgb(79,79,79)"/>
<circle cx="376.41" cy="590.81" r="0.82" fill="rgb(59,59,59)"/>
<circle cx="393.72" cy="611.73" r="0.62" fill="rgb(61,61,61)"/>
<circle cx="359.53" cy="588.06" r="0.56" fill="rgb(81,81,81)"/>
<circle cx="375.34" cy="622.73" r="0.48" fill="rgb(95,95,95)"/>
<circle cx="392.42" cy="613.69" r="0.45" fill="rgb(56,56,56)"/>
<circle cx="416.98" cy="588.27" r="0.69" fill="rgb(52,52,52)"/>
<circle cx="405.85" cy="577.39" r="0.73" fill="rgb(87,87,87)"/>
<circle cx="413.01" cy="583.7" r="0.57" fill="rgb(74,74,74)"/>
<circle cx="394.99" cy="593.32" r="0.79" fill="rgb(65,65,65)"/>
<circle cx="360.26" cy="605.06" r="0.6" fill="rgb(85,85,85)"/>
<circle cx="391.91" cy="611.74" r="0.62" fill="rgb(104,104,104)"/>
<circle cx="378.79" cy="587.86" r="0.8" fill="rgb(51,51,51)"/>
<circle cx="397.24" cy="605.52" r="0.58" fill="rgb(70,70,70)"/>
<circle cx="394.47" cy="607.83" r="0.84" fill="rgb(58,58,58)"/>
<circle cx="348.22" cy="582.63" r="0.47" fill="rgb(92,92,92)"/>
<circle cx="391.38" cy="626.66" r="0.52" fill="rgb(50,50,50)"/>
<circle cx="385.56" cy="591.1" r="0.8" fill="rgb(90,90,90)"/>
<circle cx="391.73" cy="589.4" r="0.55" fill="rgb(73,73,73)"/>
<circle cx="372.25" cy="589.49" r="0.47" fill="rgb(101,101,101)"/>
<circle cx="383.1" cy="579.97" r="0.63" fill="rgb(60,60,60)"/>
<circle cx="369.04" cy="603.84" r="0.77" fill="rgb(45,45,45)"/>
<circle cx="363.78" cy="612" r="0.55" fill="rgb(102,102,102)"/>
<circle cx="371.13" cy="556.91" r="0.54" fill="rgb(70,70,70)"/>
<circle cx="391.88" cy="581.08" r="0.54" fill="rgb(56,56,56)"/>
<circle cx="368.65" cy="614.82" r="0.79" fill="rgb(112,112,112)"/>
<circle cx="396.15" cy="586.77" r="0.79" fill="rgb(94,94,94)"/>
<circle cx="387.19" cy="629.96" r="0.48" fill="rgb(102,102,102)"/>
<circle cx="393.48" cy="628.06" r="0.45" fill="rgb(61,61,61)"/>
<circle cx="368.9" cy="613.71" r="0.79" fill="rgb(105,105,105)"/>
<circle cx="407.77" cy="585.42" r="0.46" fill="rgb(81,81,81)"/>
<circle cx="372.23" cy="584.24" r="0.71" fill="rgb(62,62,62)"/>
<circle cx="355.88" cy="600.87" r="0.61" fill="rgb(111,111,111)"/>
<circle cx="388.26" cy="587.27" r="0.72" fill="rgb(107,107,107)"/>
<circle cx="397.81" cy="625.42" r="0.65" fill="rgb(72,72,72)"/>
<circle cx="390.39" cy="612.68" r="0.63" fill="rgb(103,103,103)"/>
<circle cx="410.22" cy="589.79" r="0.57" fill="rgb(100,100,100)"/>
<circle cx="416.81" cy="584.92" r="0.57" fill="rgb(69,69,69)"/>
<circle cx="415.91" cy="575.41" r="0.56" fill="rgb(115,115,115)"/>
<circle cx="379.59" cy="583.38" r="0.83" fill="rgb(109,109,109)"/>
<circle cx="355.46" cy="581.79" r="0.66" fill="rgb(91,91,91)"/>
<circle cx="406.75" cy="604.63" r="0.62" fill="rgb(71,71,71)"/>
<circle cx="403.89" cy="565.77" r="0.63" fill="rgb(101,101,101)"/>
<circle cx="416.27" cy="580.85" r="0.5" fill="rgb(97,97,97)"/>
<circle cx="369.02" cy="560.55" r="0.74" fill="rgb(62,62,62)"/>
<circle cx="395.58" cy="598.4" r="0.62" fill="rgb(62,62,62)"/>
<circle cx="394.94" cy="597.87" r="0.48" fill="rgb(101,101,101)"/>
<circle cx="399.26" cy="616.14" r="0.56" fill="rgb(114,114,114)"/>
<circle cx="386.51" cy="600.05" r="0.62" fill="rgb(62,62,62)"/>
<circle cx="382.14" cy="621.52" r="0.47" fill="rgb(89,89,89)"/>
<circle cx="406.17" cy="581.7" r="0.53" fill="rgb(71,71,71)"/>
<circle cx="368.85" cy="601.33" r="0.49" fill="rgb(96,96,96)"/>
<circle cx="398.89" cy="593.5" r="0.68" fill="rgb(76,76,76)"/>
<circle cx="389" cy="607.8" r="0.84" fill="rgb(112,112,112)"/>
<circle cx="367.97" cy="579.43" r="0.57" fill="rgb(70,70,70)"/>
<circle cx="397.2" cy="577.78" r="0.72" fill="rgb(115,115,115)"/>
<circle cx="405.55" cy="585.64" r="0.68" fill="rgb(77,77,77)"/>
<circle cx="417.24" cy="600.02" r="0.74" fill="rgb(50,50,50)"/>
<circle cx="384.32" cy="621.35" r="0.48" fill="rgb(69,69,69)"/>
<circle cx="405.14" cy="618.39" r="0.75" fill="rgb(79,79,79)"/>
<circle cx="396.43" cy="581.01" r="0.45" fill="rgb(67,67,67)"/>
<circle cx="411.3" cy="580.24" r="0.7" fill="rgb(86,86,86)"/>
<circle cx="374.25" cy="584.66" r="0.56" fill="rgb(95,95,95)"/>
<circle cx="377.29" cy="556.97" r="0.54" fill="rgb(48,48,48)"/>
<circle cx="397.91" cy="604.77" r="0.5" fill="rgb(115,115,115)"/>
<circle cx="400.03" cy="578.81" r="0.78" fill="rgb(49,49,49)"/>
<circle cx="354.33" cy="580.84" r="0.67" fill="rgb(75,75,75)"/>
<circle cx="365.41" cy="582.56" r="0.57" fill="rgb(58,58,58)"/>
<circle cx="373.88" cy="628.05" r="0.68" fill="rgb(111,111,111)"/>
<circle cx="347.54" cy="598.7" r="0.83" fill="rgb(55,55,55)"/>
<circle cx="370.7" cy="562.91" r="0.78" fill="rgb(45,45,45)"/>
<circle cx="398.71" cy="600.16" r="0.66" fill="rgb(67,67,67)"/>
<circle cx="372.14" cy="565.13" r="0.77" fill="rgb(106,106,106)"/>
<circle cx="400.6" cy="612.44" r="0.65" fill="rgb(112,112,112)"/>
<circle cx="390.78" cy="623.16" r="0.74" fill="rgb(83,83,83)"/>
<circle cx="355.16" cy="582.94" r="0.76" fill="rgb(81,81,81)"/>
<circle cx="385.62" cy="570.8" r="0.65" fill="rgb(115,115,115)"/>
<circle cx="399.74" cy="587.34" r="0.84" fill="rgb(108,108,108)"/>
<circle cx="369.29" cy="615.53" r="0.51" fill="rgb(101,101,101)"/>
<circle cx="395.16" cy="593.28" r="0.69" fill="rgb(74,74,74)"/>
<circle cx="352.62" cy="605.31" r="0.75" fill="rgb(115,115,115)"/>
<circle cx="397.11" cy="573.11" r="0.56" fill="rgb(115,115,115)"/>
<circle cx="354.94" cy="606.15" r="0.84" fill="rgb(106,106,106)"/>
<circle cx="358.16" cy="612.9" r="0.7" fill="rgb(83,83,83)"/>
<circle cx="395.84" cy="581.98" r="0.52" fill="rgb(68,68,68)"/>
<circle cx="368.15" cy="590.36" r="0.85" fill="rgb(56,56,56)"/>
<circle cx="354.3" cy="601.23" r="0.67" fill="rgb(70,70,70)"/>
<circle cx="349.21" cy="603.71" r="0.71" fill="rgb(103,103,103)"/>
<circle cx="407.15" cy="562.18" r="0.6" fill="rgb(81,81,81)"/>
<circle cx="410.9" cy="615.58" r="0.67" fill="rgb(105,105,105)"/>
<circle cx="418.61" cy="592.82" r="0.68" fill="rgb(99,99,99)"/>
<circle cx="404.86" cy="585.92" r="0.69" fill="rgb(79,79,79)"/>
<circle cx="361.57" cy="589.97" r="0.69" fill="rgb(75,75,75)"/>
<circle cx="377.56" cy="618.1" r="0.51" fill="rgb(74,74,74)"/>
<circle cx="386.01" cy="609.46" r="0.59" fill="rgb(79,79,79)"/>
<circle cx="353.1" cy="603.15" r="0.7" fill="rgb(67,67,67)"/>
<circle cx="354.52" cy="582.81" r="0.67" fill="rgb(87,87,87)"/>
<circle cx="360.31" cy="613.45" r="0.84" fill="rgb(108,108,108)"/>
<circle cx="367.58" cy="622.54" r="0.79" fill="rgb(78,78,78)"/>
<circle cx="353.77" cy="581.18" r="0.61" fill="rgb(99,99,99)"/>
<circle cx="355.49" cy="610.14" r="0.67" fill="rgb(74,74,74)"/>
<circle cx="347.46" cy="597.36" r="0.49" fill="rgb(60,60,60)"/>
<circle cx="380.98" cy="620.83" r="0.78" fill="rgb(80,80,80)"/>
<circle cx="346.97" cy="594.13" r="0.82" fill="rgb(58,58,58)"/>
<circle cx="382.53" cy="627.95" r="0.52" fill="rgb(46,46,46)"/>
<circle cx="360.3" cy="617.32" r="0.64" fill="rgb(75,75,75)"/>
<circle cx="350.64" cy="586.1" r="0.72" fill="rgb(75,75,75)"/>
<circle cx="362.91" cy="617.28" r="0.74" fill="rgb(98,98,98)"/>
<circle cx="354.62" cy="614.02" r="0.53" fill="rgb(107,107,107)"/>
<circle cx="355.64" cy="612.97" r="0.54" fill="rgb(52,52,52)"/>
<circle cx="370.68" cy="618.5" r="0.52" fill="rgb(109,109,109)"/>
<circle cx="377.66" cy="623.6" r="0.45" fill="rgb(78,78,78)"/>
<circle cx="350.78" cy="580.31" r="0.58" fill="rgb(106,106,106)"/>
<circle cx="356.82" cy="610.28" r="0.52" fill="rgb(55,55,55)"/>
<circle cx="350.74" cy="580.62" r="0.79" fill="rgb(59,59,59)"/>
<circle cx="358.43" cy="606.95" r="0.53" fill="rgb(78,78,78)"/>
<circle cx="351.77" cy="607.18" r="0.58" fill="rgb(104,104,104)"/>
<circle cx="351.33" cy="580.56" r="0.7" fill="rgb(101,101,101)"/>
<circle cx="370.93" cy="624.41" r="0.75" fill="rgb(100,100,100)"/>
<circle cx="367.64" cy="623.54" r="0.76" fill="rgb(58,58,58)"/>
<circle cx="378.22" cy="627.65" r="0.54" fill="rgb(77,77,77)"/>
<circle cx="353.6" cy="584.62" r="0.62" fill="rgb(102,102,102)"/>
<circle cx="383.31" cy="623.03" r="0.84" fill="rgb(78,78,78)"/>
<circle cx="355.44" cy="601.05" r="0.82" fill="rgb(97,97,97)"/>
<circle cx="357.27" cy="608.84" r="0.59" fill="rgb(95,95,95)"/>
<circle cx="364.63" cy="615.89" r="0.77" fill="rgb(83,83,83)"/>
<circle cx="374.67" cy="623.86" r="0.74" fill="rgb(77,77,77)"/>
<circle cx="382.68" cy="628.27" r="0.58" fill="rgb(111,111,111)"/>
<circle cx="352.53" cy="600.33" r="0.62" fill="rgb(92,92,92)"/>
<circle cx="377.2" cy="624.83" r="0.65" fill="rgb(77,77,77)"/>
<circle cx="358.09" cy="615.95" r="0.69" fill="rgb(55,55,55)"/>
<circle cx="373.56" cy="625.53" r="0.7" fill="rgb(60,60,60)"/>
<circle cx="351.8" cy="590.36" r="0.75" fill="rgb(62,62,62)"/>
<circle cx="348.86" cy="581.94" r="0.6" fill="rgb(46,46,46)"/>
<circle cx="355.18" cy="612.51" r="0.52" fill="rgb(115,115,115)"/>
<circle cx="379.34" cy="627.03" r="0.54" fill="rgb(109,109,109)"/>
<circle cx="368.57" cy="623.83" r="0.65" fill="rgb(68,68,68)"/>
<circle cx="372.35" cy="623.21" r="0.48" fill="rgb(69,69,69)"/>
<circle cx="352.72" cy="593.84" r="0.65" fill="rgb(98,98,98)"/>
<circle cx="353.72" cy="608.07" r="0.71" fill="rgb(97,97,97)"/>
<circle cx="351.21" cy="591.33" r="0.6" fill="rgb(70,70,70)"/>
<circle cx="346.78" cy="591.36" r="0.76" fill="rgb(115,115,115)"/>
<circle cx="353.9" cy="606.41" r="0.48" fill="rgb(81,81,81)"/>
<circle cx="355.38" cy="603.94" r="0.67" fill="rgb(90,90,90)"/>
<circle cx="369.51" cy="621.11" r="0.57" fill="rgb(45,45,45)"/>
<circle cx="363.05" cy="621.75" r="0.58" fill="rgb(102,102,102)"/>
<circle cx="357.69" cy="605.28" r="0.81" fill="rgb(47,47,47)"/>
<circle cx="348.62" cy="592.67" r="0.74" fill="rgb(97,97,97)"/>
<circle cx="359.25" cy="613.37" r="0.71" fill="rgb(85,85,85)"/>
<circle cx="368.85" cy="618.64" r="0.54" fill="rgb(111,111,111)"/>
<circle cx="367.24" cy="619.87" r="0.77" fill="rgb(105,105,105)"/>
<circle cx="350.61" cy="594.11" r="0.48" fill="rgb(54,54,54)"/>
<circle cx="365.76" cy="622.55" r="0.46" fill="rgb(64,64,64)"/>
<circle cx="367.98" cy="616.74" r="0.83" fill="rgb(111,111,111)"/>
<circle cx="348.16" cy="590.99" r="0.52" fill="rgb(109,109,109)"/>
<circle cx="418.56" cy="599.99" r="0.54" fill="rgb(87,87,87)"/>
<circle cx="416.58" cy="580.31" r="0.72" fill="rgb(63,63,63)"/>
<circle cx="414.23" cy="599.44" r="0.84" fill="rgb(98,98,98)"/>
<circle cx="414.52" cy="584.74" r="0.48" fill="rgb(68,68,68)"/>
<circle cx="415.04" cy="598.92" r="0.48" fill="rgb(92,92,92)"/>
<circle cx="410.66" cy="572.07" r="0.83" fill="rgb(104,104,104)"/>
<circle cx="411.08" cy="602.39" r="0.66" fill="rgb(62,62,62)"/>
<circle cx="418.97" cy="591.19" r="0.55" fill="rgb(105,105,105)"/>
<circle cx="407.23" cy="574.48" r="0.67" fill="rgb(98,98,98)"/>
<circle cx="410.1" cy="581.31" r="0.5" fill="rgb(48,48,48)"/>
<circle cx="416.59" cy="587.35" r="0.73" fill="rgb(62,62,62)"/>
<circle cx="416.44" cy="595.52" r="0.56" fill="rgb(89,89,89)"/>
<circle cx="417.44" cy="597.73" r="0.53" fill="rgb(100,100,100)"/>
<circle cx="413.56" cy="576.6" r="0.74" fill="rgb(64,64,64)"/>
<circle cx="412.76" cy="584.74" r="0.55" fill="rgb(83,83,83)"/>
<circle cx="410.51" cy="577.45" r="0.61" fill="rgb(56,56,56)"/>
<circle cx="412.56" cy="599.71" r="0.56" fill="rgb(67,67,67)"/>
<circle cx="411.21" cy="606.7" r="0.8" fill="rgb(108,108,108)"/>
<circle cx="415.84" cy="606.24" r="0.82" fill="rgb(97,97,97)"/>
<circle cx="412.13" cy="588.13" r="0.46" fill="rgb(86,86,86)"/>
<circle cx="413.6" cy="584.18" r="0.84" fill="rgb(107,107,107)"/>
<circle cx="411.04" cy="587.07" r="0.64" fill="rgb(51,51,51)"/>
<circle cx="412.53" cy="575.74" r="0.72" fill="rgb(75,75,75)"/>
<circle cx="413.15" cy="575.76" r="0.68" fill="rgb(102,102,102)"/>
<circle cx="413.07" cy="590.49" r="0.79" fill="rgb(87,87,87)"/>
<circle cx="411.72" cy="580.24" r="0.66" fill="rgb(55,55,55)"/>
<circle cx="418.59" cy="594.66" r="0.76" fill="rgb(56,56,56)"/>
<circle cx="416.68" cy="594.29" r="0.6" fill="rgb(74,74,74)"/>
<circle cx="410.82" cy="582.3" r="0.5" fill="rgb(48,48,48)"/>
<circle cx="416.45" cy="599.48" r="0.82" fill="rgb(57,57,57)"/>
<circle cx="419.43" cy="588.27" r="0.66" fill="rgb(107,107,107)"/>
<circle cx="411.93" cy="587.39" r="0.66" fill="rgb(111,111,111)"/>
<circle cx="411.9" cy="581.72" r="0.73" fill="rgb(49,49,49)"/>
<circle cx="413.04" cy="601.46" r="0.49" fill="rgb(100,100,100)"/>
<circle cx="413.71" cy="603.55" r="0.73" fill="rgb(103,103,103)"/>
<circle cx="416.21" cy="607.6" r="0.85" fill="rgb(114,114,114)"/>
<circle cx="410.16" cy="581.83" r="0.51" fill="rgb(58,58,58)"/>
<circle cx="412.32" cy="594.51" r="0.63" fill="rgb(113,113,113)"/>
<circle cx="409.63" cy="582.98" r="0.5" fill="rgb(94,94,94)"/>
<circle cx="413.49" cy="581.3" r="0.76" fill="rgb(111,111,111)"/>
<circle cx="416.62" cy="582.48" r="0.64" fill="rgb(91,91,91)"/>
<circle cx="405.71" cy="575.36" r="0.83" fill="rgb(83,83,83)"/>
<circle cx="412.79" cy="606.06" r="0.67" fill="rgb(58,58,58)"/>
<circle cx="415.12" cy="600.82" r="0.7" fill="rgb(57,57,57)"/>
<circle cx="415.77" cy="582.93" r="0.71" fill="rgb(71,71,71)"/>
<circle cx="418.52" cy="588.57" r="0.54" fill="rgb(52,52,52)"/>
<circle cx="416.82" cy="598.97" r="0.7" fill="rgb(105,105,105)"/>
<circle cx="419.03" cy="600.72" r="0.58" fill="rgb(110,110,110)"/>
<circle cx="414.23" cy="608.03" r="0.61" fill="rgb(95,95,95)"/>
<circle cx="417.65" cy="587.01" r="0.73" fill="rgb(66,66,66)"/>
<circle cx="368.83" cy="586.32" r="0.79" fill="rgb(109,109,109)"/>
<circle cx="372.76" cy="599.43" r="0.47" fill="rgb(107,107,107)"/>
<circle cx="389.59" cy="593.58" r="0.58" fill="rgb(108,108,108)"/>
<circle cx="390.01" cy="596.18" r="0.78" fill="rgb(68,68,68)"/>
<circle cx="390.39" cy="600.72" r="0.52" fill="rgb(71,71,71)"/>
<circle cx="375.17" cy="591.23" r="0.52" fill="rgb(50,50,50)"/>
<circle cx="393.43" cy="603.18" r="0.74" fill="rgb(99,99,99)"/>
<circle cx="391.99" cy="604.45" r="0.67" fill="rgb(84,84,84)"/>
<circle cx="390.25" cy="605.13" r="0.72" fill="rgb(52,52,52)"/>
<circle cx="374.5" cy="583.04" r="0.77" fill="rgb(68,68,68)"/>
<circle cx="389.49" cy="599.09" r="0.74" fill="rgb(59,59,59)"/>
<circle cx="382.29" cy="598.45" r="0.72" fill="rgb(74,74,74)"/>
<circle cx="378.69" cy="577.9" r="0.6" fill="rgb(71,71,71)"/>
<circle cx="369.06" cy="593.17" r="0.82" fill="rgb(49,49,49)"/>
<circle cx="383.67" cy="601.45" r="0.63" fill="rgb(65,65,65)"/>
<circle cx="383.12" cy="573.7" r="0.81" fill="rgb(55,55,55)"/>
<circle cx="383.4" cy="587.98" r="0.79" fill="rgb(102,102,102)"/>
<circle cx="388.38" cy="593.09" r="0.63" fill="rgb(87,87,87)"/>
<circle cx="387.94" cy="593.99" r="0.81" fill="rgb(89,89,89)"/>
<circle cx="385.31" cy="605.32" r="0.82" fill="rgb(112,112,112)"/>
<circle cx="391.15" cy="606.4" r="0.63" fill="rgb(72,72,72)"/>
<circle cx="401.34" cy="598.43" r="0.57" fill="rgb(55,55,55)"/>
<circle cx="388.07" cy="593.98" r="0.75" fill="rgb(62,62,62)"/>
<circle cx="391.79" cy="601.28" r="0.64" fill="rgb(83,83,83)"/>
<circle cx="386.75" cy="587.29" r="0.59" fill="rgb(100,100,100)"/>
<circle cx="381.09" cy="586.74" r="0.69" fill="rgb(114,114,114)"/>
<circle cx="385.21" cy="603.77" r="0.48" fill="rgb(61,61,61)"/>
<circle cx="380.35" cy="594.15" r="0.6" fill="rgb(80,80,80)"/>
<circle cx="370.96" cy="590.3" r="0.84" fill="rgb(109,109,109)"/>
<circle cx="388.68" cy="591.76" r="0.81" fill="rgb(83,83,83)"/>
<circle cx="384.73" cy="603.1" r="0.7" fill="rgb(61,61,61)"/>
<circle cx="398.54" cy="598.8" r="0.83" fill="rgb(112,112,112)"/>
<circle cx="382.71" cy="598.82" r="0.58" fill="rgb(51,51,51)"/>
<circle cx="373.31" cy="592.49" r="0.68" fill="rgb(100,100,100)"/>
<circle cx="383.94" cy="609.99" r="0.63" fill="rgb(55,55,55)"/>
<circle cx="382.52" cy="591.75" r="0.83" fill="rgb(88,88,88)"/>
<circle cx="368.21" cy="580.74" r="0.74" fill="rgb(104,104,104)"/>
<circle cx="399.5" cy="594.95" r="0.66" fill="rgb(56,56,56)"/>
<circle cx="379.59" cy="591.53" r="0.54" fill="rgb(106,106,106)"/>
<circle cx="384.78" cy="598.05" r="0.48" fill="rgb(100,100,100)"/>
<circle cx="469.4" cy="592.05" r="42.6" fill="#e4e4e6" stroke="#8a8a8c" stroke-width="1"/>
<circle cx="469.4" cy="592.05" r="40.8" fill="none" stroke="#a8a8aa" stroke-width="0.7"/>
<circle cx="469.4" cy="592.05" r="39" fill="none" stroke="#c8c8ca" stroke-width="0.6"/>
<path d="M465.73 633.99 A42.1 42.1 0 0 1 458.5 551.38" stroke="#5e5e60" stroke-width="1.3" fill="none" opacity="0.55"/>
<ellipse cx="496.7" cy="577.75" rx="8" ry="11" fill="#ebebed" opacity="0.5"/>
<circle cx="465.02" cy="568.18" r="0.7" fill="rgb(115,115,115)"/>
<circle cx="493.81" cy="614.93" r="0.49" fill="rgb(116,116,116)"/>
<circle cx="454.51" cy="581.94" r="0.68" fill="rgb(115,115,115)"/>
<circle cx="472.86" cy="577.67" r="0.67" fill="rgb(113,113,113)"/>
<circle cx="465.17" cy="592.6" r="0.75" fill="rgb(95,95,95)"/>
<circle cx="454.35" cy="611.99" r="0.82" fill="rgb(129,129,129)"/>
<circle cx="450.14" cy="608.75" r="0.51" fill="rgb(136,136,136)"/>
<circle cx="494.33" cy="603.74" r="0.51" fill="rgb(122,122,122)"/>
<circle cx="441.77" cy="575.61" r="0.65" fill="rgb(139,139,139)"/>
<circle cx="463.12" cy="571.56" r="0.47" fill="rgb(143,143,143)"/>
<circle cx="487.74" cy="615.35" r="0.61" fill="rgb(130,130,130)"/>
<circle cx="464.85" cy="586.26" r="0.62" fill="rgb(134,134,134)"/>
<circle cx="491.49" cy="602.89" r="0.63" fill="rgb(129,129,129)"/>
<circle cx="476.63" cy="606.99" r="0.67" fill="rgb(130,130,130)"/>
<circle cx="442.15" cy="578.39" r="0.45" fill="rgb(102,102,102)"/>
<circle cx="487.91" cy="595.3" r="0.73" fill="rgb(145,145,145)"/>
<circle cx="463.04" cy="571.94" r="0.84" fill="rgb(140,140,140)"/>
<circle cx="452.11" cy="579.48" r="0.7" fill="rgb(130,130,130)"/>
<circle cx="487.97" cy="585.13" r="0.61" fill="rgb(121,121,121)"/>
<circle cx="479.85" cy="596" r="0.68" fill="rgb(95,95,95)"/>
<circle cx="488.1" cy="616.62" r="0.56" fill="rgb(118,118,118)"/>
<circle cx="442.53" cy="565.54" r="0.45" fill="rgb(114,114,114)"/>
<circle cx="480" cy="614.8" r="0.76" fill="rgb(143,143,143)"/>
<circle cx="488.23" cy="594.11" r="0.63" fill="rgb(120,120,120)"/>
<circle cx="467.11" cy="570.49" r="0.64" fill="rgb(102,102,102)"/>
<circle cx="478.06" cy="566.33" r="0.59" fill="rgb(138,138,138)"/>
<circle cx="486.36" cy="606.69" r="0.51" fill="rgb(98,98,98)"/>
<circle cx="479.97" cy="612.21" r="0.62" fill="rgb(97,97,97)"/>
<circle cx="489.76" cy="596.09" r="0.64" fill="rgb(140,140,140)"/>
<circle cx="441.26" cy="572.04" r="0.81" fill="rgb(136,136,136)"/>
<circle cx="446.37" cy="596.27" r="0.45" fill="rgb(120,120,120)"/>
<circle cx="438.9" cy="571.44" r="0.71" fill="rgb(125,125,125)"/>
<circle cx="452.06" cy="611.35" r="0.66" fill="rgb(105,105,105)"/>
<circle cx="452.66" cy="591.93" r="0.57" fill="rgb(135,135,135)"/>
<circle cx="446.17" cy="592.62" r="0.58" fill="rgb(101,101,101)"/>
<circle cx="445.38" cy="610.39" r="0.72" fill="rgb(120,120,120)"/>
<circle cx="489.92" cy="582.58" r="0.61" fill="rgb(111,111,111)"/>
<circle cx="460.72" cy="584.29" r="0.7" fill="rgb(129,129,129)"/>
<circle cx="458.68" cy="580.95" r="0.55" fill="rgb(134,134,134)"/>
<circle cx="436.52" cy="606.36" r="0.78" fill="rgb(132,132,132)"/>
<circle cx="494.34" cy="583.42" r="0.82" fill="rgb(103,103,103)"/>
<circle cx="464.09" cy="597.21" r="0.69" fill="rgb(139,139,139)"/>
<circle cx="451.21" cy="593.72" r="0.81" fill="rgb(136,136,136)"/>
<circle cx="482.22" cy="579.34" r="0.71" fill="rgb(130,130,130)"/>
<circle cx="480.72" cy="589.58" r="0.57" fill="rgb(129,129,129)"/>
<circle cx="463.21" cy="592.57" r="0.65" fill="rgb(109,109,109)"/>
<circle cx="478.79" cy="556.74" r="0.84" fill="rgb(96,96,96)"/>
<circle cx="457.4" cy="625.2" r="0.56" fill="rgb(123,123,123)"/>
<circle cx="463.24" cy="624.17" r="0.49" fill="rgb(101,101,101)"/>
<circle cx="460.61" cy="573.5" r="0.69" fill="rgb(113,113,113)"/>
<circle cx="482.06" cy="599.72" r="0.72" fill="rgb(142,142,142)"/>
<circle cx="481.22" cy="578.89" r="0.46" fill="rgb(107,107,107)"/>
<circle cx="446.88" cy="587.07" r="0.77" fill="rgb(91,91,91)"/>
<circle cx="436.88" cy="585.31" r="0.69" fill="rgb(111,111,111)"/>
<circle cx="481.87" cy="584.12" r="0.65" fill="rgb(122,122,122)"/>
<circle cx="462.39" cy="583.56" r="0.83" fill="rgb(99,99,99)"/>
<circle cx="497.74" cy="591.14" r="0.46" fill="rgb(105,105,105)"/>
<circle cx="453.92" cy="567.72" r="0.47" fill="rgb(102,102,102)"/>
<circle cx="464.74" cy="601.84" r="0.73" fill="rgb(95,95,95)"/>
<circle cx="473.33" cy="600.72" r="0.82" fill="rgb(126,126,126)"/>
<circle cx="483.56" cy="599.16" r="0.71" fill="rgb(142,142,142)"/>
<circle cx="496.12" cy="577.18" r="0.5" fill="rgb(129,129,129)"/>
<circle cx="481.54" cy="621.78" r="0.75" fill="rgb(144,144,144)"/>
<circle cx="495.25" cy="576.65" r="0.83" fill="rgb(98,98,98)"/>
<circle cx="473.77" cy="609.89" r="0.85" fill="rgb(104,104,104)"/>
<circle cx="472.06" cy="588.18" r="0.71" fill="rgb(116,116,116)"/>
<circle cx="494.77" cy="617.86" r="0.56" fill="rgb(123,123,123)"/>
<circle cx="489.8" cy="608.83" r="0.73" fill="rgb(97,97,97)"/>
<circle cx="437.94" cy="613.87" r="0.48" fill="rgb(123,123,123)"/>
<circle cx="467.07" cy="603.55" r="0.63" fill="rgb(124,124,124)"/>
<circle cx="484.75" cy="571.47" r="0.61" fill="rgb(138,138,138)"/>
<circle cx="475.16" cy="614.03" r="0.75" fill="rgb(113,113,113)"/>
<circle cx="477.13" cy="593.46" r="0.59" fill="rgb(120,120,120)"/>
<circle cx="436.91" cy="605.39" r="0.78" fill="rgb(120,120,120)"/>
<circle cx="480.72" cy="578.26" r="0.78" fill="rgb(118,118,118)"/>
<circle cx="497.61" cy="608.56" r="0.63" fill="rgb(106,106,106)"/>
<circle cx="481.86" cy="594.21" r="0.46" fill="rgb(112,112,112)"/>
<circle cx="497.62" cy="599.38" r="0.55" fill="rgb(106,106,106)"/>
<circle cx="471.22" cy="560.45" r="0.51" fill="rgb(90,90,90)"/>
<circle cx="474.73" cy="604.99" r="0.58" fill="rgb(122,122,122)"/>
<circle cx="479.74" cy="613.34" r="0.8" fill="rgb(94,94,94)"/>
<circle cx="474.38" cy="592.91" r="0.58" fill="rgb(117,117,117)"/>
<circle cx="459.87" cy="611.82" r="0.69" fill="rgb(90,90,90)"/>
<circle cx="478.24" cy="626.84" r="0.58" fill="rgb(101,101,101)"/>
<circle cx="454.06" cy="617.76" r="0.57" fill="rgb(110,110,110)"/>
<circle cx="469.83" cy="610.08" r="0.85" fill="rgb(135,135,135)"/>
<circle cx="471.99" cy="570.57" r="0.48" fill="rgb(127,127,127)"/>
<circle cx="473.79" cy="622.35" r="0.47" fill="rgb(124,124,124)"/>
<circle cx="467.14" cy="604.58" r="0.52" fill="rgb(130,130,130)"/>
<circle cx="471.11" cy="626.71" r="0.84" fill="rgb(129,129,129)"/>
<circle cx="478.42" cy="584.78" r="0.71" fill="rgb(140,140,140)"/>
<circle cx="459.71" cy="622.31" r="0.72" fill="rgb(133,133,133)"/>
<circle cx="472.24" cy="571.28" r="0.67" fill="rgb(121,121,121)"/>
<circle cx="479.01" cy="585.87" r="0.73" fill="rgb(90,90,90)"/>
<circle cx="483.88" cy="572.76" r="0.52" fill="rgb(112,112,112)"/>
<circle cx="465.54" cy="559.5" r="0.76" fill="rgb(130,130,130)"/>
<circle cx="471.15" cy="591.7" r="0.78" fill="rgb(120,120,120)"/>
<circle cx="483.17" cy="589.74" r="0.76" fill="rgb(145,145,145)"/>
<circle cx="486.65" cy="603.69" r="0.62" fill="rgb(127,127,127)"/>
<circle cx="439.11" cy="591.63" r="0.78" fill="rgb(111,111,111)"/>
<circle cx="441.74" cy="610.31" r="0.85" fill="rgb(106,106,106)"/>
<circle cx="438.07" cy="585.96" r="0.77" fill="rgb(106,106,106)"/>
<circle cx="482.56" cy="617.16" r="0.78" fill="rgb(102,102,102)"/>
<circle cx="479.63" cy="582.73" r="0.83" fill="rgb(112,112,112)"/>
<circle cx="443.89" cy="601.15" r="0.82" fill="rgb(126,126,126)"/>
<circle cx="460.19" cy="614.1" r="0.78" fill="rgb(140,140,140)"/>
<circle cx="478.07" cy="575.96" r="0.85" fill="rgb(98,98,98)"/>
<circle cx="475.93" cy="623.64" r="0.46" fill="rgb(109,109,109)"/>
<circle cx="461.58" cy="559.03" r="0.58" fill="rgb(118,118,118)"/>
<circle cx="479.63" cy="555.92" r="0.5" fill="rgb(117,117,117)"/>
<circle cx="437.98" cy="599.51" r="0.83" fill="rgb(130,130,130)"/>
<circle cx="457.73" cy="592.22" r="0.51" fill="rgb(93,93,93)"/>
<circle cx="448.64" cy="592.26" r="0.75" fill="rgb(126,126,126)"/>
<circle cx="491.46" cy="562.8" r="0.84" fill="rgb(136,136,136)"/>
<circle cx="493.08" cy="586.77" r="0.74" fill="rgb(93,93,93)"/>
<circle cx="490.6" cy="608.54" r="0.81" fill="rgb(113,113,113)"/>
<circle cx="478.52" cy="584.47" r="0.47" fill="rgb(103,103,103)"/>
<circle cx="490.51" cy="584.93" r="0.7" fill="rgb(117,117,117)"/>
<circle cx="435.01" cy="604.88" r="0.48" fill="rgb(111,111,111)"/>
<circle cx="439.37" cy="593" r="0.65" fill="rgb(116,116,116)"/>
<circle cx="452.24" cy="582.41" r="0.73" fill="rgb(119,119,119)"/>
<circle cx="455.76" cy="623.43" r="0.58" fill="rgb(117,117,117)"/>
<circle cx="437" cy="590.91" r="0.8" fill="rgb(107,107,107)"/>
<circle cx="463.05" cy="564.14" r="0.59" fill="rgb(136,136,136)"/>
<circle cx="466.14" cy="573.29" r="0.66" fill="rgb(104,104,104)"/>
<circle cx="449.32" cy="584" r="0.69" fill="rgb(119,119,119)"/>
<circle cx="445.75" cy="611.94" r="0.84" fill="rgb(107,107,107)"/>
<circle cx="436.34" cy="580.61" r="0.84" fill="rgb(96,96,96)"/>
<circle cx="479.59" cy="585.37" r="0.73" fill="rgb(119,119,119)"/>
<circle cx="440.89" cy="574.03" r="0.8" fill="rgb(144,144,144)"/>
<circle cx="445.52" cy="570.7" r="0.48" fill="rgb(115,115,115)"/>
<circle cx="445.79" cy="563.2" r="0.7" fill="rgb(111,111,111)"/>
<circle cx="504.43" cy="582.88" r="0.48" fill="rgb(128,128,128)"/>
<circle cx="452.31" cy="566.76" r="0.7" fill="rgb(131,131,131)"/>
<circle cx="469.67" cy="593" r="0.49" fill="rgb(113,113,113)"/>
<circle cx="472.08" cy="577.02" r="0.71" fill="rgb(133,133,133)"/>
<circle cx="459.38" cy="605.07" r="0.77" fill="rgb(108,108,108)"/>
<circle cx="457" cy="606.06" r="0.84" fill="rgb(91,91,91)"/>
<circle cx="465.22" cy="597.09" r="0.84" fill="rgb(114,114,114)"/>
<circle cx="434.42" cy="578.8" r="0.74" fill="rgb(142,142,142)"/>
<circle cx="437.53" cy="595.31" r="0.7" fill="rgb(114,114,114)"/>
<circle cx="479.81" cy="575.82" r="0.82" fill="rgb(144,144,144)"/>
<circle cx="496.66" cy="608.81" r="0.5" fill="rgb(122,122,122)"/>
<circle cx="496.38" cy="589.77" r="0.69" fill="rgb(102,102,102)"/>
<circle cx="478.34" cy="623.89" r="0.65" fill="rgb(91,91,91)"/>
<circle cx="481.06" cy="559.79" r="0.78" fill="rgb(119,119,119)"/>
<circle cx="461.87" cy="603.06" r="0.64" fill="rgb(103,103,103)"/>
<circle cx="497.01" cy="597.43" r="0.45" fill="rgb(104,104,104)"/>
<circle cx="502.05" cy="572.39" r="0.5" fill="rgb(102,102,102)"/>
<circle cx="469.47" cy="594.37" r="0.75" fill="rgb(118,118,118)"/>
<circle cx="499.56" cy="585.17" r="0.82" fill="rgb(144,144,144)"/>
<circle cx="502.77" cy="610.68" r="0.67" fill="rgb(111,111,111)"/>
<circle cx="505.21" cy="585.38" r="0.75" fill="rgb(140,140,140)"/>
<circle cx="499.66" cy="598.84" r="0.75" fill="rgb(118,118,118)"/>
<circle cx="498.07" cy="596.67" r="0.63" fill="rgb(145,145,145)"/>
<circle cx="460.37" cy="623.72" r="0.64" fill="rgb(116,116,116)"/>
<circle cx="474.77" cy="625.01" r="0.73" fill="rgb(145,145,145)"/>
<circle cx="435.6" cy="605.03" r="0.48" fill="rgb(95,95,95)"/>
<circle cx="504.65" cy="594.81" r="0.58" fill="rgb(109,109,109)"/>
<circle cx="457.39" cy="579.4" r="0.5" fill="rgb(145,145,145)"/>
<circle cx="554.9" cy="592.05" r="42.6" fill="#e4e4e6" stroke="#8a8a8c" stroke-width="1"/>
<circle cx="554.9" cy="592.05" r="40.8" fill="none" stroke="#a8a8aa" stroke-width="0.7"/>
<circle cx="554.9" cy="592.05" r="39" fill="none" stroke="#c8c8ca" stroke-width="0.6"/>
<path d="M551.23 633.99 A42.1 42.1 0 0 1 544 551.38" stroke="#5e5e60" stroke-width="1.3" fill="none" opacity="0.55"/>
<ellipse cx="582.2" cy="577.75" rx="8" ry="11" fill="#ebebed" opacity="0.5"/>
<circle cx="581.03" cy="575.45" r="0.5" fill="rgb(81,81,81)"/>
<circle cx="521" cy="580.92" r="0.75" fill="rgb(98,98,98)"/>
<circle cx="581.51" cy="564.61" r="0.66" fill="rgb(111,111,111)"/>
<circle cx="584.2" cy="605.39" r="0.84" fill="rgb(88,88,88)"/>
<circle cx="569.86" cy="594.9" r="0.73" fill="rgb(76,76,76)"/>
<circle cx="564.8" cy="578.58" r="0.75" fill="rgb(66,66,66)"/>
<circle cx="587.57" cy="590.89" r="0.6" fill="rgb(65,65,65)"/>
<circle cx="581.01" cy="587.17" r="0.65" fill="rgb(47,47,47)"/>
<circle cx="550.84" cy="579.34" r="0.67" fill="rgb(56,56,56)"/>
<circle cx="533.12" cy="605.47" r="0.54" fill="rgb(58,58,58)"/>
<circle cx="573.33" cy="580.54" r="0.46" fill="rgb(52,52,52)"/>
<circle cx="554.02" cy="586.82" r="0.83" fill="rgb(86,86,86)"/>
<circle cx="541.12" cy="572.09" r="0.81" fill="rgb(106,106,106)"/>
<circle cx="563.51" cy="566.48" r="0.46" fill="rgb(65,65,65)"/>
<circle cx="564.67" cy="593.85" r="0.51" fill="rgb(89,89,89)"/>
<circle cx="550.77" cy="596.04" r="0.6" fill="rgb(60,60,60)"/>
<circle cx="557.19" cy="627.56" r="0.75" fill="rgb(90,90,90)"/>
<circle cx="532.7" cy="602.49" r="0.71" fill="rgb(57,57,57)"/>
<circle cx="531.57" cy="604.23" r="0.63" fill="rgb(104,104,104)"/>
<circle cx="528.82" cy="610.45" r="0.66" fill="rgb(52,52,52)"/>
<circle cx="565.96" cy="621.74" r="0.51" fill="rgb(79,79,79)"/>
<circle cx="566.53" cy="579.43" r="0.69" fill="rgb(106,106,106)"/>
<circle cx="543.01" cy="556.26" r="0.6" fill="rgb(94,94,94)"/>
<circle cx="580.9" cy="584.05" r="0.65" fill="rgb(67,67,67)"/>
<circle cx="564.34" cy="626.39" r="0.67" fill="rgb(71,71,71)"/>
<circle cx="588.44" cy="597.96" r="0.68" fill="rgb(107,107,107)"/>
<circle cx="549.57" cy="610.93" r="0.81" fill="rgb(75,75,75)"/>
<circle cx="519.32" cy="591.35" r="0.5" fill="rgb(92,92,92)"/>
<circle cx="529.01" cy="593.87" r="0.46" fill="rgb(106,106,106)"/>
<circle cx="542.32" cy="612.86" r="0.49" fill="rgb(88,88,88)"/>
<circle cx="547.96" cy="577.37" r="0.66" fill="rgb(97,97,97)"/>
<circle cx="586.34" cy="576.48" r="0.65" fill="rgb(77,77,77)"/>
<circle cx="583.1" cy="600.94" r="0.65" fill="rgb(77,77,77)"/>
<circle cx="579.55" cy="617.11" r="0.74" fill="rgb(113,113,113)"/>
<circle cx="553.01" cy="554.39" r="0.7" fill="rgb(109,109,109)"/>
<circle cx="543.09" cy="584.23" r="0.63" fill="rgb(93,93,93)"/>
<circle cx="579.57" cy="592.85" r="0.45" fill="rgb(113,113,113)"/>
<circle cx="582.87" cy="587.21" r="0.46" fill="rgb(104,104,104)"/>
<circle cx="529.21" cy="583.88" r="0.5" fill="rgb(104,104,104)"/>
<circle cx="520.22" cy="605.58" r="0.6" fill="rgb(115,115,115)"/>
<circle cx="538.88" cy="565.82" r="0.84" fill="rgb(88,88,88)"/>
<circle cx="544.69" cy="589.56" r="0.81" fill="rgb(95,95,95)"/>
<circle cx="524.96" cy="589.97" r="0.57" fill="rgb(66,66,66)"/>
<circle cx="549.92" cy="601.37" r="0.58" fill="rgb(69,69,69)"/>
<circle cx="566.64" cy="555.86" r="0.67" fill="rgb(98,98,98)"/>
<circle cx="557.5" cy="569.61" r="0.75" fill="rgb(108,108,108)"/>
<circle cx="554.14" cy="569.02" r="0.62" fill="rgb(109,109,109)"/>
<circle cx="532.08" cy="608.39" r="0.57" fill="rgb(77,77,77)"/>
<circle cx="534.69" cy="609.37" r="0.74" fill="rgb(57,57,57)"/>
<circle cx="543.07" cy="591.35" r="0.56" fill="rgb(57,57,57)"/>
<circle cx="550.24" cy="607.04" r="0.55" fill="rgb(80,80,80)"/>
<circle cx="556.86" cy="566.25" r="0.6" fill="rgb(49,49,49)"/>
<circle cx="557.15" cy="561.26" r="0.61" fill="rgb(99,99,99)"/>
<circle cx="583.93" cy="609.73" r="0.45" fill="rgb(50,50,50)"/>
<circle cx="587.96" cy="606.39" r="0.82" fill="rgb(73,73,73)"/>
<circle cx="540.63" cy="563.3" r="0.63" fill="rgb(82,82,82)"/>
<circle cx="542.24" cy="581.84" r="0.66" fill="rgb(113,113,113)"/>
<circle cx="571.37" cy="625.79" r="0.64" fill="rgb(93,93,93)"/>
<circle cx="569.99" cy="563.53" r="0.64" fill="rgb(79,79,79)"/>
<circle cx="566.13" cy="598.38" r="0.63" fill="rgb(55,55,55)"/>
<circle cx="572.9" cy="587.37" r="0.57" fill="rgb(107,107,107)"/>
<circle cx="516.87" cy="591.44" r="0.53" fill="rgb(89,89,89)"/>
<circle cx="542.08" cy="577.67" r="0.59" fill="rgb(88,88,88)"/>
<circle cx="566.38" cy="568.4" r="0.72" fill="rgb(79,79,79)"/>
<circle cx="555.77" cy="621.25" r="0.82" fill="rgb(58,58,58)"/>
<circle cx="525.67" cy="578.07" r="0.47" fill="rgb(76,76,76)"/>
<circle cx="575.76" cy="585.4" r="0.63" fill="rgb(48,48,48)"/>
<circle cx="519.72" cy="594.76" r="0.61" fill="rgb(73,73,73)"/>
<circle cx="554.45" cy="599.55" r="0.6" fill="rgb(112,112,112)"/>
<circle cx="565.06" cy="625.83" r="0.46" fill="rgb(105,105,105)"/>
<circle cx="549.86" cy="598.99" r="0.5" fill="rgb(63,63,63)"/>
<circle cx="523.29" cy="601.64" r="0.54" fill="rgb(60,60,60)"/>
<circle cx="566.05" cy="571.07" r="0.81" fill="rgb(67,67,67)"/>
<circle cx="566.21" cy="578.52" r="0.57" fill="rgb(115,115,115)"/>
<circle cx="564.26" cy="592.03" r="0.48" fill="rgb(71,71,71)"/>
<circle cx="541.4" cy="588.37" r="0.74" fill="rgb(59,59,59)"/>
<circle cx="591.55" cy="598.79" r="0.56" fill="rgb(102,102,102)"/>
<circle cx="573.32" cy="572.3" r="0.48" fill="rgb(94,94,94)"/>
<circle cx="565.91" cy="625.98" r="0.46" fill="rgb(80,80,80)"/>
<circle cx="526.28" cy="609.41" r="0.73" fill="rgb(111,111,111)"/>
<circle cx="534.03" cy="617.23" r="0.63" fill="rgb(46,46,46)"/>
<circle cx="558.28" cy="628.16" r="0.76" fill="rgb(49,49,49)"/>
<circle cx="573.42" cy="584.71" r="0.83" fill="rgb(94,94,94)"/>
<circle cx="574.92" cy="607.03" r="0.75" fill="rgb(71,71,71)"/>
<circle cx="549.48" cy="622.72" r="0.53" fill="rgb(75,75,75)"/>
<circle cx="581.97" cy="573.76" r="0.56" fill="rgb(60,60,60)"/>
<circle cx="588.28" cy="588.32" r="0.55" fill="rgb(82,82,82)"/>
<circle cx="555.48" cy="568.07" r="0.82" fill="rgb(49,49,49)"/>
<circle cx="529.41" cy="599.19" r="0.5" fill="rgb(105,105,105)"/>
<circle cx="540.34" cy="627.39" r="0.46" fill="rgb(58,58,58)"/>
<circle cx="548.56" cy="598.81" r="0.83" fill="rgb(53,53,53)"/>
<circle cx="571.86" cy="576.74" r="0.52" fill="rgb(74,74,74)"/>
<circle cx="551.54" cy="556.56" r="0.57" fill="rgb(84,84,84)"/>
<circle cx="539.17" cy="568.15" r="0.65" fill="rgb(72,72,72)"/>
<circle cx="549.96" cy="618.02" r="0.79" fill="rgb(87,87,87)"/>
<circle cx="555.32" cy="571.93" r="0.85" fill="rgb(68,68,68)"/>
<circle cx="550.93" cy="578.54" r="0.8" fill="rgb(53,53,53)"/>
<circle cx="553.43" cy="577.89" r="0.81" fill="rgb(72,72,72)"/>
<circle cx="526.44" cy="590.97" r="0.61" fill="rgb(107,107,107)"/>
<circle cx="554.17" cy="562.37" r="0.64" fill="rgb(88,88,88)"/>
<circle cx="521.27" cy="590.2" r="0.57" fill="rgb(83,83,83)"/>
<circle cx="535.36" cy="564.46" r="0.72" fill="rgb(65,65,65)"/>
<circle cx="530.03" cy="604.26" r="0.69" fill="rgb(81,81,81)"/>
<circle cx="547.63" cy="603.21" r="0.79" fill="rgb(72,72,72)"/>
<circle cx="569.79" cy="579.35" r="0.67" fill="rgb(114,114,114)"/>
<circle cx="534.01" cy="584.35" r="0.47" fill="rgb(113,113,113)"/>
<circle cx="520.84" cy="594.78" r="0.46" fill="rgb(101,101,101)"/>
<circle cx="557.62" cy="555.81" r="0.56" fill="rgb(48,48,48)"/>
<circle cx="529.25" cy="614.81" r="0.69" fill="rgb(83,83,83)"/>
<circle cx="551.99" cy="613.47" r="0.67" fill="rgb(82,82,82)"/>
<circle cx="528.66" cy="605.84" r="0.64" fill="rgb(113,113,113)"/>
<circle cx="530.39" cy="604.03" r="0.8" fill="rgb(75,75,75)"/>
<circle cx="526.49" cy="584.44" r="0.59" fill="rgb(110,110,110)"/>
<circle cx="527.06" cy="588.72" r="0.58" fill="rgb(73,73,73)"/>
<circle cx="520.67" cy="599.37" r="0.68" fill="rgb(73,73,73)"/>
<circle cx="519.7" cy="589.83" r="0.8" fill="rgb(112,112,112)"/>
<circle cx="524.11" cy="592.9" r="0.84" fill="rgb(112,112,112)"/>
<circle cx="525.41" cy="577.78" r="0.62" fill="rgb(54,54,54)"/>
<circle cx="525.56" cy="593.87" r="0.45" fill="rgb(68,68,68)"/>
<circle cx="522.54" cy="579.29" r="0.84" fill="rgb(58,58,58)"/>
<circle cx="522.7" cy="603.46" r="0.77" fill="rgb(96,96,96)"/>
<circle cx="523.1" cy="576.7" r="0.51" fill="rgb(71,71,71)"/>
<circle cx="523.65" cy="579.1" r="0.62" fill="rgb(112,112,112)"/>
<circle cx="528.98" cy="579.18" r="0.58" fill="rgb(107,107,107)"/>
<circle cx="527.91" cy="593.14" r="0.45" fill="rgb(52,52,52)"/>
<circle cx="525.6" cy="608.85" r="0.83" fill="rgb(78,78,78)"/>
<circle cx="528.17" cy="602.73" r="0.5" fill="rgb(59,59,59)"/>
<circle cx="522.76" cy="581.73" r="0.78" fill="rgb(93,93,93)"/>
<circle cx="520.02" cy="596" r="0.8" fill="rgb(89,89,89)"/>
<circle cx="524.43" cy="600.92" r="0.58" fill="rgb(106,106,106)"/>
<circle cx="526.61" cy="587.94" r="0.63" fill="rgb(60,60,60)"/>
<circle cx="528.5" cy="602.71" r="0.67" fill="rgb(52,52,52)"/>
<circle cx="527.48" cy="602.4" r="0.77" fill="rgb(61,61,61)"/>
<circle cx="526.51" cy="601.41" r="0.65" fill="rgb(104,104,104)"/>
<circle cx="527.57" cy="601.66" r="0.79" fill="rgb(93,93,93)"/>
<circle cx="640.4" cy="592.05" r="42.6" fill="#e4e4e6" stroke="#8a8a8c" stroke-width="1"/>
<circle cx="640.4" cy="592.05" r="40.8" fill="none" stroke="#a8a8aa" stroke-width="0.7"/>
<circle cx="640.4" cy="592.05" r="39" fill="none" stroke="#c8c8ca" stroke-width="0.6"/>
<path d="M636.73 633.99 A42.1 42.1 0 0 1 629.5 551.38" stroke="#5e5e60" stroke-width="1.3" fill="none" opacity="0.55"/>
<ellipse cx="667.7" cy="577.75" rx="8" ry="11" fill="#ebebed" opacity="0.5"/>
<circle cx="638.13" cy="558.94" r="0.61" fill="rgb(125,125,125)"/>
<circle cx="650.23" cy="560.08" r="0.66" fill="rgb(145,145,145)"/>
<circle cx="631.58" cy="624.89" r="0.6" fill="rgb(95,95,95)"/>
<circle cx="611.47" cy="570.48" r="0.61" fill="rgb(142,142,142)"/>
<circle cx="622.23" cy="609.24" r="0.8" fill="rgb(92,92,92)"/>
<circle cx="607.35" cy="602.22" r="0.72" fill="rgb(93,93,93)"/>
<circle cx="641.02" cy="615.02" r="0.69" fill="rgb(112,112,112)"/>
<circle cx="625.5" cy="562.36" r="0.8" fill="rgb(122,122,122)"/>
<circle cx="672.95" cy="590.71" r="0.55" fill="rgb(139,139,139)"/>
<circle cx="651" cy="570.84" r="0.76" fill="rgb(116,116,116)"/>
<circle cx="660.84" cy="566.26" r="0.53" fill="rgb(106,106,106)"/>
<circle cx="605.47" cy="602.97" r="0.78" fill="rgb(124,124,124)"/>
<circle cx="616.97" cy="605.89" r="0.54" fill="rgb(141,141,141)"/>
<circle cx="664.09" cy="591.74" r="0.49" fill="rgb(144,144,144)"/>
<circle cx="670.39" cy="590.16" r="0.57" fill="rgb(116,116,116)"/>
<circle cx="672.37" cy="601.13" r="0.72" fill="rgb(145,145,145)"/>
<circle cx="632.09" cy="568.3" r="0.65" fill="rgb(103,103,103)"/>
<circle cx="643.84" cy="565.07" r="0.64" fill="rgb(97,97,97)"/>
<circle cx="637.02" cy="594.19" r="0.68" fill="rgb(119,119,119)"/>
<circle cx="639.37" cy="579.84" r="0.58" fill="rgb(127,127,127)"/>
<circle cx="625.55" cy="609.29" r="0.73" fill="rgb(126,126,126)"/>
<circle cx="632.61" cy="561.9" r="0.81" fill="rgb(139,139,139)"/>
<circle cx="676.6" cy="590.87" r="0.74" fill="rgb(134,134,134)"/>
<circle cx="647.94" cy="602.69" r="0.63" fill="rgb(101,101,101)"/>
<circle cx="648.52" cy="579.89" r="0.46" fill="rgb(123,123,123)"/>
<circle cx="672.8" cy="574.09" r="0.71" fill="rgb(104,104,104)"/>
<circle cx="660.16" cy="610.75" r="0.71" fill="rgb(134,134,134)"/>
<circle cx="617.5" cy="579.23" r="0.47" fill="rgb(113,113,113)"/>
<circle cx="654.66" cy="570.64" r="0.6" fill="rgb(92,92,92)"/>
<circle cx="655.43" cy="585.94" r="0.8" fill="rgb(115,115,115)"/>
<circle cx="659.38" cy="563.56" r="0.46" fill="rgb(140,140,140)"/>
<circle cx="675.37" cy="581.25" r="0.79" fill="rgb(133,133,133)"/>
<circle cx="648.62" cy="575.24" r="0.61" fill="rgb(145,145,145)"/>
<circle cx="619.82" cy="617.86" r="0.46" fill="rgb(132,132,132)"/>
<circle cx="663.07" cy="613.12" r="0.55" fill="rgb(121,121,121)"/>
<circle cx="611.48" cy="604.23" r="0.47" fill="rgb(108,108,108)"/>
<circle cx="673.08" cy="596.49" r="0.77" fill="rgb(107,107,107)"/>
<circle cx="659.16" cy="624.1" r="0.53" fill="rgb(113,113,113)"/>
<circle cx="638.82" cy="561.84" r="0.8" fill="rgb(123,123,123)"/>
<circle cx="637.62" cy="591.39" r="0.5" fill="rgb(110,110,110)"/>
<circle cx="646.27" cy="560.52" r="0.5" fill="rgb(132,132,132)"/>
<circle cx="610.62" cy="606.15" r="0.85" fill="rgb(106,106,106)"/>
<circle cx="652.92" cy="611.5" r="0.71" fill="rgb(108,108,108)"/>
<circle cx="607.76" cy="590.6" r="0.74" fill="rgb(111,111,111)"/>
<circle cx="626.05" cy="568.2" r="0.75" fill="rgb(141,141,141)"/>
<circle cx="664.96" cy="578.17" r="0.64" fill="rgb(114,114,114)"/>
<circle cx="664.77" cy="584.29" r="0.58" fill="rgb(123,123,123)"/>
<circle cx="602.64" cy="590.18" r="0.59" fill="rgb(145,145,145)"/>
<circle cx="655.1" cy="624.21" r="0.73" fill="rgb(123,123,123)"/>
<circle cx="661.83" cy="573.81" r="0.8" fill="rgb(139,139,139)"/>
<circle cx="634.26" cy="554.36" r="0.68" fill="rgb(95,95,95)"/>
<circle cx="633.91" cy="613.22" r="0.61" fill="rgb(92,92,92)"/>
<circle cx="624.68" cy="609.54" r="0.62" fill="rgb(94,94,94)"/>
<circle cx="654.77" cy="595.85" r="0.72" fill="rgb(113,113,113)"/>
<circle cx="622.8" cy="597.85" r="0.6" fill="rgb(121,121,121)"/>
<circle cx="643.2" cy="583.72" r="0.54" fill="rgb(105,105,105)"/>
<circle cx="669.86" cy="584.4" r="0.78" fill="rgb(124,124,124)"/>
<circle cx="645.18" cy="585.18" r="0.45" fill="rgb(125,125,125)"/>
<circle cx="630.27" cy="595.2" r="0.78" fill="rgb(133,133,133)"/>
<circle cx="649.77" cy="604.41" r="0.73" fill="rgb(117,117,117)"/>
</svg>
<rect x="341.5" y="459.8" width="342" height="85.5" fill="none" stroke="#5a5a5a" stroke-width="1.7"/>
<rect x="341.5" y="548.6" width="342" height="85.7" fill="none" stroke="#5a5a5a" stroke-width="1.7"/>
</svg></body></html>
